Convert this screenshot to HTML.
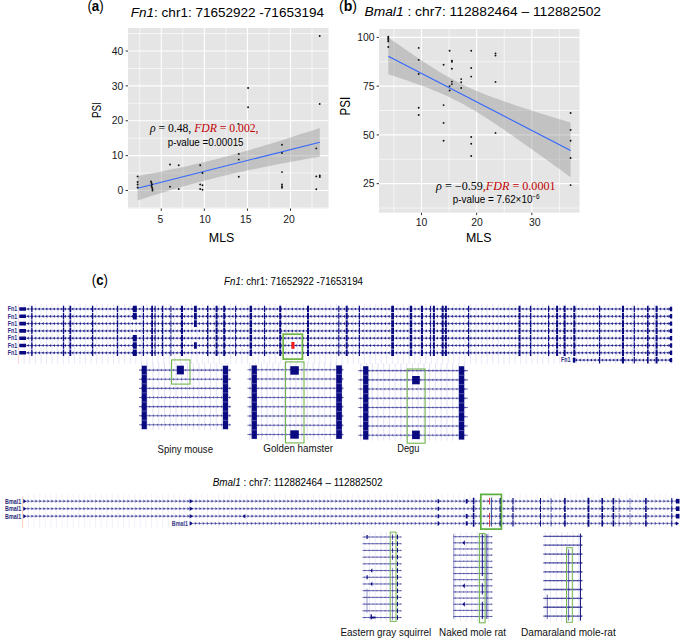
<!DOCTYPE html><html><head><meta charset="utf-8"><style>html,body{margin:0;padding:0;background:#fff;overflow:hidden;}svg{display:block;}</style></head><body><svg width="685" height="639" viewBox="0 0 685 639">
<rect width="685" height="639" fill="#fff"/>
<rect x="128" y="28" width="200.5" height="180.5" fill="#E5E5E5"/>
<line x1="139.73" y1="28" x2="139.73" y2="208.5" stroke="#fff" stroke-width="0.6"/>
<line x1="182.81" y1="28" x2="182.81" y2="208.5" stroke="#fff" stroke-width="0.6"/>
<line x1="225.89" y1="28" x2="225.89" y2="208.5" stroke="#fff" stroke-width="0.6"/>
<line x1="268.97" y1="28" x2="268.97" y2="208.5" stroke="#fff" stroke-width="0.6"/>
<line x1="312.05" y1="28" x2="312.05" y2="208.5" stroke="#fff" stroke-width="0.6"/>
<line x1="128" y1="207.94" x2="328.5" y2="207.94" stroke="#fff" stroke-width="0.6"/>
<line x1="128" y1="173.06" x2="328.5" y2="173.06" stroke="#fff" stroke-width="0.6"/>
<line x1="128" y1="138.19" x2="328.5" y2="138.19" stroke="#fff" stroke-width="0.6"/>
<line x1="128" y1="103.31" x2="328.5" y2="103.31" stroke="#fff" stroke-width="0.6"/>
<line x1="128" y1="68.44" x2="328.5" y2="68.44" stroke="#fff" stroke-width="0.6"/>
<line x1="128" y1="33.56" x2="328.5" y2="33.56" stroke="#fff" stroke-width="0.6"/>
<line x1="161.27" y1="28" x2="161.27" y2="208.5" stroke="#fff" stroke-width="1.1"/>
<line x1="204.35" y1="28" x2="204.35" y2="208.5" stroke="#fff" stroke-width="1.1"/>
<line x1="247.43" y1="28" x2="247.43" y2="208.5" stroke="#fff" stroke-width="1.1"/>
<line x1="290.51" y1="28" x2="290.51" y2="208.5" stroke="#fff" stroke-width="1.1"/>
<line x1="128" y1="190.50" x2="328.5" y2="190.50" stroke="#fff" stroke-width="1.1"/>
<line x1="128" y1="155.62" x2="328.5" y2="155.62" stroke="#fff" stroke-width="1.1"/>
<line x1="128" y1="120.75" x2="328.5" y2="120.75" stroke="#fff" stroke-width="1.1"/>
<line x1="128" y1="85.88" x2="328.5" y2="85.88" stroke="#fff" stroke-width="1.1"/>
<line x1="128" y1="51.00" x2="328.5" y2="51.00" stroke="#fff" stroke-width="1.1"/>
<polygon points="137.60,176.00 142.16,175.15 146.71,174.30 151.26,173.42 155.82,172.54 160.38,171.64 164.93,170.73 169.48,169.80 174.04,168.85 178.59,167.88 183.15,166.90 187.70,165.89 192.26,164.87 196.81,163.82 201.37,162.75 205.93,161.65 210.48,160.53 215.03,159.39 219.59,158.22 224.14,157.03 228.70,155.82 233.25,154.58 237.81,153.32 242.37,152.04 246.92,150.74 251.47,149.42 256.03,148.08 260.59,146.72 265.14,145.35 269.69,143.96 274.25,142.55 278.81,141.13 283.36,139.70 287.91,138.26 292.47,136.81 297.02,135.34 301.58,133.87 306.13,132.38 310.69,130.89 315.25,129.40 319.80,127.89 319.80,156.71 315.25,157.50 310.69,158.30 306.13,159.10 301.58,159.91 297.02,160.73 292.47,161.56 287.91,162.41 283.36,163.26 278.81,164.12 274.25,165.00 269.69,165.89 265.14,166.79 260.59,167.71 256.03,168.65 251.47,169.60 246.92,170.58 242.37,171.57 237.81,172.59 233.25,173.62 228.70,174.68 224.14,175.76 219.59,176.87 215.03,177.99 210.48,179.15 205.93,180.32 201.37,181.52 196.81,182.75 192.26,183.99 187.70,185.26 183.15,186.55 178.59,187.86 174.04,189.19 169.48,190.54 164.93,191.90 160.38,193.28 155.82,194.68 151.26,196.09 146.71,197.51 142.16,198.95 137.60,200.40" fill="#8F8F8F" fill-opacity="0.4"/>
<line x1="137.6" y1="188.2" x2="319.8" y2="142.2" stroke="#3366FF" stroke-width="1.1"/>
<g fill="#111"><circle cx="137.6" cy="176.4" r="0.95"/><circle cx="137.6" cy="182" r="0.95"/><circle cx="137.6" cy="184.5" r="0.95"/><circle cx="137.6" cy="187.5" r="0.95"/><circle cx="151" cy="181.5" r="0.95"/><circle cx="151.5" cy="183" r="0.95"/><circle cx="152" cy="184.5" r="0.95"/><circle cx="151.5" cy="186" r="0.95"/><circle cx="152" cy="187.5" r="0.95"/><circle cx="152.5" cy="189" r="0.95"/><circle cx="152.5" cy="190.5" r="0.95"/><circle cx="170" cy="164.5" r="0.95"/><circle cx="178.7" cy="165.2" r="0.95"/><circle cx="170" cy="186.7" r="0.95"/><circle cx="178.7" cy="189" r="0.95"/><circle cx="200.2" cy="165.2" r="0.95"/><circle cx="202.5" cy="173" r="0.95"/><circle cx="200.2" cy="184.4" r="0.95"/><circle cx="202.5" cy="185.2" r="0.95"/><circle cx="200.2" cy="189" r="0.95"/><circle cx="202.5" cy="189.8" r="0.95"/><circle cx="238.8" cy="154" r="0.95"/><circle cx="238.8" cy="159.6" r="0.95"/><circle cx="238.8" cy="176.7" r="0.95"/><circle cx="238.4" cy="123.9" r="0.95"/><circle cx="248.1" cy="88" r="0.95"/><circle cx="248.1" cy="107.3" r="0.95"/><circle cx="282" cy="144.8" r="0.95"/><circle cx="282" cy="153" r="0.95"/><circle cx="282" cy="172.1" r="0.95"/><circle cx="282" cy="184.4" r="0.95"/><circle cx="282" cy="186.3" r="0.95"/><circle cx="282" cy="187.8" r="0.95"/><circle cx="316.3" cy="148.4" r="0.95"/><circle cx="316.3" cy="176.4" r="0.95"/><circle cx="319.8" cy="175.5" r="0.95"/><circle cx="319.8" cy="177" r="0.95"/><circle cx="316.3" cy="189.3" r="0.95"/><circle cx="319.7" cy="36" r="0.95"/><circle cx="319.7" cy="104" r="0.95"/></g>
<line x1="125.6" y1="190.50" x2="128" y2="190.50" stroke="#333333" stroke-width="1"/>
<text x="123.2" y="194.2" font-family='"Liberation Sans", sans-serif' font-size="10.4" fill="#1a1a1a" text-anchor="end" font-weight="normal" font-style="normal" >0</text>
<line x1="125.6" y1="155.62" x2="128" y2="155.62" stroke="#333333" stroke-width="1"/>
<text x="123.2" y="159.325" font-family='"Liberation Sans", sans-serif' font-size="10.4" fill="#1a1a1a" text-anchor="end" font-weight="normal" font-style="normal" >10</text>
<line x1="125.6" y1="120.75" x2="128" y2="120.75" stroke="#333333" stroke-width="1"/>
<text x="123.2" y="124.45" font-family='"Liberation Sans", sans-serif' font-size="10.4" fill="#1a1a1a" text-anchor="end" font-weight="normal" font-style="normal" >20</text>
<line x1="125.6" y1="85.88" x2="128" y2="85.88" stroke="#333333" stroke-width="1"/>
<text x="123.2" y="89.575" font-family='"Liberation Sans", sans-serif' font-size="10.4" fill="#1a1a1a" text-anchor="end" font-weight="normal" font-style="normal" >30</text>
<line x1="125.6" y1="51.00" x2="128" y2="51.00" stroke="#333333" stroke-width="1"/>
<text x="123.2" y="54.7" font-family='"Liberation Sans", sans-serif' font-size="10.4" fill="#1a1a1a" text-anchor="end" font-weight="normal" font-style="normal" >40</text>
<line x1="161.27" y1="208.5" x2="161.27" y2="210.9" stroke="#333333" stroke-width="1"/>
<text x="160.37" y="222.7" font-family='"Liberation Sans", sans-serif' font-size="10.4" fill="#1a1a1a" text-anchor="middle" font-weight="normal" font-style="normal" >5</text>
<line x1="204.35" y1="208.5" x2="204.35" y2="210.9" stroke="#333333" stroke-width="1"/>
<text x="205.05" y="222.7" font-family='"Liberation Sans", sans-serif' font-size="10.4" fill="#1a1a1a" text-anchor="middle" font-weight="normal" font-style="normal" >10</text>
<line x1="247.43" y1="208.5" x2="247.43" y2="210.9" stroke="#333333" stroke-width="1"/>
<text x="245.83" y="222.7" font-family='"Liberation Sans", sans-serif' font-size="10.4" fill="#1a1a1a" text-anchor="middle" font-weight="normal" font-style="normal" >15</text>
<line x1="290.51" y1="208.5" x2="290.51" y2="210.9" stroke="#333333" stroke-width="1"/>
<text x="288.91" y="222.7" font-family='"Liberation Sans", sans-serif' font-size="10.4" fill="#1a1a1a" text-anchor="middle" font-weight="normal" font-style="normal" >20</text>
<text x="221.6" y="241.8" font-family='"Liberation Sans", sans-serif' font-size="13.5" fill="#000" text-anchor="middle" font-weight="normal" font-style="normal" textLength="25.5" lengthAdjust="spacingAndGlyphs" >MLS</text>
<text transform="translate(101,110) rotate(-90)" font-family='"Liberation Sans", sans-serif' font-size="13.5" fill="#000" text-anchor="middle" textLength="16" lengthAdjust="spacingAndGlyphs">PSI</text>
<text x="149.9" y="132.4" font-family='"Liberation Serif", serif' font-size="11.5" fill="#000" textLength="108.6" lengthAdjust="spacingAndGlyphs"><tspan font-style="italic">ρ</tspan> = 0.48,<tspan fill="#C00000"><tspan font-style="italic"> FDR</tspan> = 0.002,</tspan></text>
<text x="167.8" y="146" font-family='"Liberation Sans", sans-serif' font-size="10" fill="#000" text-anchor="start" font-weight="normal" font-style="normal" textLength="75.7" lengthAdjust="spacingAndGlyphs" >p-value =0.00015</text>
<text x="87.4" y="10.9" font-family='"Liberation Sans", sans-serif' font-size="15" fill="#000" textLength="16.4" lengthAdjust="spacingAndGlyphs">(<tspan font-weight="bold">a</tspan>)</text>
<text x="130.8" y="16.6" font-family='"Liberation Sans", sans-serif' font-size="13.5" fill="#000" textLength="193.2" lengthAdjust="spacingAndGlyphs"><tspan font-style="italic">Fn1</tspan>: chr1: 71652922 -71653194</text>
<rect x="379" y="29" width="200.5" height="183.7" fill="#E5E5E5"/>
<line x1="393.89" y1="29" x2="393.89" y2="212.7" stroke="#fff" stroke-width="0.6"/>
<line x1="449.07" y1="29" x2="449.07" y2="212.7" stroke="#fff" stroke-width="0.6"/>
<line x1="504.25" y1="29" x2="504.25" y2="212.7" stroke="#fff" stroke-width="0.6"/>
<line x1="559.43" y1="29" x2="559.43" y2="212.7" stroke="#fff" stroke-width="0.6"/>
<line x1="379" y1="208.03" x2="579.5" y2="208.03" stroke="#fff" stroke-width="0.6"/>
<line x1="379" y1="159.28" x2="579.5" y2="159.28" stroke="#fff" stroke-width="0.6"/>
<line x1="379" y1="110.53" x2="579.5" y2="110.53" stroke="#fff" stroke-width="0.6"/>
<line x1="379" y1="61.77" x2="579.5" y2="61.77" stroke="#fff" stroke-width="0.6"/>
<line x1="421.48" y1="29" x2="421.48" y2="212.7" stroke="#fff" stroke-width="1.1"/>
<line x1="476.66" y1="29" x2="476.66" y2="212.7" stroke="#fff" stroke-width="1.1"/>
<line x1="531.84" y1="29" x2="531.84" y2="212.7" stroke="#fff" stroke-width="1.1"/>
<line x1="379" y1="183.65" x2="579.5" y2="183.65" stroke="#fff" stroke-width="1.1"/>
<line x1="379" y1="134.90" x2="579.5" y2="134.90" stroke="#fff" stroke-width="1.1"/>
<line x1="379" y1="86.15" x2="579.5" y2="86.15" stroke="#fff" stroke-width="1.1"/>
<line x1="379" y1="37.40" x2="579.5" y2="37.40" stroke="#fff" stroke-width="1.1"/>
<polygon points="388.30,37.40 392.86,40.63 397.42,43.83 401.97,47.02 406.53,50.18 411.09,53.32 415.65,56.42 420.20,59.48 424.76,62.49 429.32,65.45 433.88,68.34 438.43,71.16 442.99,73.90 447.55,76.55 452.11,79.09 456.66,81.52 461.22,83.85 465.78,86.06 470.34,88.17 474.89,90.18 479.45,92.10 484.01,93.94 488.57,95.72 493.12,97.43 497.68,99.10 502.24,100.72 506.80,102.30 511.35,103.86 515.91,105.39 520.47,106.89 525.02,108.38 529.58,109.84 534.14,111.30 538.70,112.74 543.25,114.17 547.81,115.59 552.37,117.00 556.93,118.41 561.49,119.80 566.04,121.19 570.60,122.58 570.60,177.22 566.04,173.90 561.49,170.59 556.93,167.29 552.37,163.99 547.81,160.70 543.25,157.42 538.70,154.14 534.14,150.88 529.58,147.63 525.02,144.40 520.47,141.18 515.91,137.98 511.35,134.81 506.80,131.66 502.24,128.54 497.68,125.46 493.12,122.43 488.57,119.44 484.01,116.51 479.45,113.65 474.89,110.87 470.34,108.18 465.78,105.58 461.22,103.09 456.66,100.71 452.11,98.45 447.55,96.29 442.99,94.23 438.43,92.26 433.88,90.38 429.32,88.58 424.76,86.83 420.20,85.14 415.65,83.50 411.09,81.90 406.53,80.33 401.97,78.79 397.42,77.27 392.86,75.78 388.30,74.30" fill="#8F8F8F" fill-opacity="0.4"/>
<line x1="388.3" y1="56.2" x2="570.6" y2="150.4" stroke="#3366FF" stroke-width="1.1"/>
<g fill="#111"><circle cx="388.3" cy="36.8" r="0.95"/><circle cx="388.3" cy="37.9" r="0.95"/><circle cx="388.3" cy="38.9" r="0.95"/><circle cx="388.3" cy="40.1" r="0.95"/><circle cx="388.3" cy="41.4" r="0.95"/><circle cx="388.3" cy="47" r="0.95"/><circle cx="418.7" cy="47.9" r="0.95"/><circle cx="418.7" cy="59.9" r="0.95"/><circle cx="418.7" cy="74" r="0.95"/><circle cx="418.7" cy="107.7" r="0.95"/><circle cx="418.7" cy="115" r="0.95"/><circle cx="443.6" cy="64.7" r="0.95"/><circle cx="443.6" cy="105.1" r="0.95"/><circle cx="443.6" cy="122.9" r="0.95"/><circle cx="443.6" cy="140.8" r="0.95"/><circle cx="449.6" cy="50.8" r="0.95"/><circle cx="449.6" cy="86.1" r="0.95"/><circle cx="449.6" cy="90.5" r="0.95"/><circle cx="451.9" cy="60.6" r="0.95"/><circle cx="451.9" cy="61.7" r="0.95"/><circle cx="451.9" cy="68.7" r="0.95"/><circle cx="451.9" cy="81.6" r="0.95"/><circle cx="451.9" cy="84.1" r="0.95"/><circle cx="461.2" cy="79.1" r="0.95"/><circle cx="461.2" cy="82.2" r="0.95"/><circle cx="461.2" cy="88" r="0.95"/><circle cx="471.2" cy="50.8" r="0.95"/><circle cx="471.2" cy="68" r="0.95"/><circle cx="471.2" cy="76.6" r="0.95"/><circle cx="471.2" cy="137" r="0.95"/><circle cx="471.2" cy="143.8" r="0.95"/><circle cx="471.2" cy="156" r="0.95"/><circle cx="495.5" cy="53.5" r="0.95"/><circle cx="495.5" cy="55.6" r="0.95"/><circle cx="495.5" cy="81.9" r="0.95"/><circle cx="495.5" cy="132.9" r="0.95"/><circle cx="570.6" cy="113" r="0.95"/><circle cx="570.6" cy="129.9" r="0.95"/><circle cx="570.6" cy="140.8" r="0.95"/><circle cx="570.6" cy="158" r="0.95"/><circle cx="570.6" cy="185.1" r="0.95"/></g>
<line x1="376.6" y1="183.65" x2="379" y2="183.65" stroke="#333333" stroke-width="1"/>
<text x="374.6" y="187.35" font-family='"Liberation Sans", sans-serif' font-size="10.4" fill="#1a1a1a" text-anchor="end" font-weight="normal" font-style="normal" >25</text>
<line x1="376.6" y1="134.90" x2="379" y2="134.90" stroke="#333333" stroke-width="1"/>
<text x="374.6" y="138.6" font-family='"Liberation Sans", sans-serif' font-size="10.4" fill="#1a1a1a" text-anchor="end" font-weight="normal" font-style="normal" >50</text>
<line x1="376.6" y1="86.15" x2="379" y2="86.15" stroke="#333333" stroke-width="1"/>
<text x="374.6" y="89.85000000000001" font-family='"Liberation Sans", sans-serif' font-size="10.4" fill="#1a1a1a" text-anchor="end" font-weight="normal" font-style="normal" >75</text>
<line x1="376.6" y1="37.40" x2="379" y2="37.40" stroke="#333333" stroke-width="1"/>
<text x="374.6" y="41.1" font-family='"Liberation Sans", sans-serif' font-size="10.4" fill="#1a1a1a" text-anchor="end" font-weight="normal" font-style="normal" >100</text>
<line x1="421.48" y1="212.7" x2="421.48" y2="215.1" stroke="#333333" stroke-width="1"/>
<text x="421.48" y="226.3" font-family='"Liberation Sans", sans-serif' font-size="10.4" fill="#1a1a1a" text-anchor="middle" font-weight="normal" font-style="normal" >10</text>
<line x1="476.66" y1="212.7" x2="476.66" y2="215.1" stroke="#333333" stroke-width="1"/>
<text x="477.06" y="226.3" font-family='"Liberation Sans", sans-serif' font-size="10.4" fill="#1a1a1a" text-anchor="middle" font-weight="normal" font-style="normal" >20</text>
<line x1="531.84" y1="212.7" x2="531.84" y2="215.1" stroke="#333333" stroke-width="1"/>
<text x="534.84" y="226.3" font-family='"Liberation Sans", sans-serif' font-size="10.4" fill="#1a1a1a" text-anchor="middle" font-weight="normal" font-style="normal" >30</text>
<text x="478.7" y="241.9" font-family='"Liberation Sans", sans-serif' font-size="13.5" fill="#000" text-anchor="middle" font-weight="normal" font-style="normal" textLength="25.4" lengthAdjust="spacingAndGlyphs" >MLS</text>
<text transform="translate(350,106.2) rotate(-90)" font-family='"Liberation Sans", sans-serif' font-size="15" fill="#000" text-anchor="middle" textLength="18.6" lengthAdjust="spacingAndGlyphs">PSI</text>
<text x="436.1" y="189.8" font-family='"Liberation Serif", serif' font-size="11.5" fill="#000" textLength="119.5" lengthAdjust="spacingAndGlyphs"><tspan font-style="italic">ρ</tspan> = −0.59<tspan fill="#C00000">,<tspan font-style="italic">FDR</tspan> = 0.0001</tspan></text>
<text x="452.8" y="202.5" font-family='"Liberation Sans", sans-serif' font-size="10" fill="#000" textLength="86.9" lengthAdjust="spacingAndGlyphs">p-value = 7.62×10<tspan font-size="6.5" dy="-4">−6</tspan></text>
<text x="339" y="11.3" font-family='"Liberation Sans", sans-serif' font-size="15" fill="#000" textLength="18" lengthAdjust="spacingAndGlyphs">(<tspan font-weight="bold">b</tspan>)</text>
<text x="364.5" y="16.4" font-family='"Liberation Sans", sans-serif' font-size="13.5" fill="#000" textLength="236.5" lengthAdjust="spacingAndGlyphs"><tspan font-style="italic">Bmal1</tspan> : chr7: 112882464 – 112882502</text>
<text x="91.8" y="285.2" font-family='"Liberation Sans", sans-serif' font-size="15.5" fill="#000" textLength="16.2" lengthAdjust="spacingAndGlyphs">(<tspan font-weight="bold">c</tspan>)</text>
<text x="224.1" y="284.6" font-family='"Liberation Sans", sans-serif' font-size="10.5" fill="#000" textLength="138.9" lengthAdjust="spacingAndGlyphs"><tspan font-style="italic">Fn1</tspan>: chr1: 71652922 -71653194</text>
<path d="M24.20 304V364M29.78 304V364M35.36 304V364M40.93 304V364M46.51 304V364M52.09 304V364M57.67 304V364M63.25 304V364M68.82 304V364M74.40 304V364M79.98 304V364M85.56 304V364M91.14 304V364M96.71 304V364M102.29 304V364M107.87 304V364M113.45 304V364M119.03 304V364M124.60 304V364M130.18 304V364M135.76 304V364M141.34 304V364M146.92 304V364M152.49 304V364M158.07 304V364M163.65 304V364M169.23 304V364M174.81 304V364M180.38 304V364M185.96 304V364M191.54 304V364M197.12 304V364M202.70 304V364M208.27 304V364M213.85 304V364M219.43 304V364M225.01 304V364M230.59 304V364M236.16 304V364M241.74 304V364M247.32 304V364M252.90 304V364M258.48 304V364M264.05 304V364M269.63 304V364M275.21 304V364M280.79 304V364M286.37 304V364M291.94 304V364M297.52 304V364M303.10 304V364M308.68 304V364M314.26 304V364M319.83 304V364M325.41 304V364M330.99 304V364M336.57 304V364M342.15 304V364M347.72 304V364M353.30 304V364M358.88 304V364M364.46 304V364M370.04 304V364M375.61 304V364M381.19 304V364M386.77 304V364M392.35 304V364M397.93 304V364M403.50 304V364M409.08 304V364M414.66 304V364M420.24 304V364M425.82 304V364M431.39 304V364M436.97 304V364M442.55 304V364M448.13 304V364M453.71 304V364M459.28 304V364M464.86 304V364M470.44 304V364M476.02 304V364M481.60 304V364M487.17 304V364M492.75 304V364M498.33 304V364M503.91 304V364M509.49 304V364M515.06 304V364M520.64 304V364M526.22 304V364M531.80 304V364M537.38 304V364M542.95 304V364M548.53 304V364M554.11 304V364M559.69 304V364M565.27 304V364M570.84 304V364M576.42 304V364M582.00 304V364M587.58 304V364M593.16 304V364M598.73 304V364M604.31 304V364M609.89 304V364M615.47 304V364M621.05 304V364M626.62 304V364M632.20 304V364M637.78 304V364M643.36 304V364M648.94 304V364M654.51 304V364M660.09 304V364M665.67 304V364M671.25 304V364" stroke="#E2E2F8" stroke-width="0.8" fill="none"/>
<line x1="18.4" y1="304.6" x2="18.4" y2="364" stroke="#FFD0D0" stroke-width="0.9"/>
<line x1="19.4" y1="309.00" x2="672" y2="309.00" stroke="#0A0A80" stroke-width="1" stroke-opacity="0.55"/>
<path d="M26.80 309.00l2.0-1.6v3.2zm3.72 0l2.0-1.6v3.2zm3.72 0l2.0-1.6v3.2zm3.72 0l2.0-1.6v3.2zm3.72 0l2.0-1.6v3.2zm3.72 0l2.0-1.6v3.2zm3.72 0l2.0-1.6v3.2zm3.72 0l2.0-1.6v3.2zm3.72 0l2.0-1.6v3.2zm3.72 0l2.0-1.6v3.2zm3.72 0l2.0-1.6v3.2zm3.72 0l2.0-1.6v3.2zm3.72 0l2.0-1.6v3.2zm3.72 0l2.0-1.6v3.2zm3.72 0l2.0-1.6v3.2zm3.72 0l2.0-1.6v3.2zm3.72 0l2.0-1.6v3.2zm3.72 0l2.0-1.6v3.2zm3.72 0l2.0-1.6v3.2zm3.72 0l2.0-1.6v3.2zm3.72 0l2.0-1.6v3.2zm3.72 0l2.0-1.6v3.2zm3.72 0l2.0-1.6v3.2zm3.72 0l2.0-1.6v3.2zm3.72 0l2.0-1.6v3.2zm3.72 0l2.0-1.6v3.2zm3.72 0l2.0-1.6v3.2zm3.72 0l2.0-1.6v3.2zm3.72 0l2.0-1.6v3.2zm3.72 0l2.0-1.6v3.2zm3.72 0l2.0-1.6v3.2zm3.72 0l2.0-1.6v3.2zm3.72 0l2.0-1.6v3.2zm3.72 0l2.0-1.6v3.2zm3.72 0l2.0-1.6v3.2zm3.72 0l2.0-1.6v3.2zm3.72 0l2.0-1.6v3.2zm3.72 0l2.0-1.6v3.2zm3.72 0l2.0-1.6v3.2zm3.72 0l2.0-1.6v3.2zm3.72 0l2.0-1.6v3.2zm3.72 0l2.0-1.6v3.2zm3.72 0l2.0-1.6v3.2zm3.72 0l2.0-1.6v3.2zm3.72 0l2.0-1.6v3.2zm3.72 0l2.0-1.6v3.2zm3.72 0l2.0-1.6v3.2zm3.72 0l2.0-1.6v3.2zm3.72 0l2.0-1.6v3.2zm3.72 0l2.0-1.6v3.2zm3.72 0l2.0-1.6v3.2zm3.72 0l2.0-1.6v3.2zm3.72 0l2.0-1.6v3.2zm3.72 0l2.0-1.6v3.2zm3.72 0l2.0-1.6v3.2zm3.72 0l2.0-1.6v3.2zm3.72 0l2.0-1.6v3.2zm3.72 0l2.0-1.6v3.2zm3.72 0l2.0-1.6v3.2zm3.72 0l2.0-1.6v3.2zm3.72 0l2.0-1.6v3.2zm3.72 0l2.0-1.6v3.2zm3.72 0l2.0-1.6v3.2zm3.72 0l2.0-1.6v3.2zm3.72 0l2.0-1.6v3.2zm3.72 0l2.0-1.6v3.2zm3.72 0l2.0-1.6v3.2zm3.72 0l2.0-1.6v3.2zm3.72 0l2.0-1.6v3.2zm3.72 0l2.0-1.6v3.2zm3.72 0l2.0-1.6v3.2zm3.72 0l2.0-1.6v3.2zm3.72 0l2.0-1.6v3.2zm3.72 0l2.0-1.6v3.2zm3.72 0l2.0-1.6v3.2zm3.72 0l2.0-1.6v3.2zm3.72 0l2.0-1.6v3.2zm3.72 0l2.0-1.6v3.2zm3.72 0l2.0-1.6v3.2zm3.72 0l2.0-1.6v3.2zm3.72 0l2.0-1.6v3.2zm3.72 0l2.0-1.6v3.2zm3.72 0l2.0-1.6v3.2zm3.72 0l2.0-1.6v3.2zm3.72 0l2.0-1.6v3.2zm3.72 0l2.0-1.6v3.2zm3.72 0l2.0-1.6v3.2zm3.72 0l2.0-1.6v3.2zm3.72 0l2.0-1.6v3.2zm3.72 0l2.0-1.6v3.2zm3.72 0l2.0-1.6v3.2zm3.72 0l2.0-1.6v3.2zm3.72 0l2.0-1.6v3.2zm3.72 0l2.0-1.6v3.2zm3.72 0l2.0-1.6v3.2zm3.72 0l2.0-1.6v3.2zm3.72 0l2.0-1.6v3.2zm3.72 0l2.0-1.6v3.2zm3.72 0l2.0-1.6v3.2zm3.72 0l2.0-1.6v3.2zm3.72 0l2.0-1.6v3.2zm3.72 0l2.0-1.6v3.2zm3.72 0l2.0-1.6v3.2zm3.72 0l2.0-1.6v3.2zm3.72 0l2.0-1.6v3.2zm3.72 0l2.0-1.6v3.2zm3.72 0l2.0-1.6v3.2zm3.72 0l2.0-1.6v3.2zm3.72 0l2.0-1.6v3.2zm3.72 0l2.0-1.6v3.2zm3.72 0l2.0-1.6v3.2zm3.72 0l2.0-1.6v3.2zm3.72 0l2.0-1.6v3.2zm3.72 0l2.0-1.6v3.2zm3.72 0l2.0-1.6v3.2zm3.72 0l2.0-1.6v3.2zm3.72 0l2.0-1.6v3.2zm3.72 0l2.0-1.6v3.2zm3.72 0l2.0-1.6v3.2zm3.72 0l2.0-1.6v3.2zm3.72 0l2.0-1.6v3.2zm3.72 0l2.0-1.6v3.2zm3.72 0l2.0-1.6v3.2zm3.72 0l2.0-1.6v3.2zm3.72 0l2.0-1.6v3.2zm3.72 0l2.0-1.6v3.2zm3.72 0l2.0-1.6v3.2zm3.72 0l2.0-1.6v3.2zm3.72 0l2.0-1.6v3.2zm3.72 0l2.0-1.6v3.2zm3.72 0l2.0-1.6v3.2zm3.72 0l2.0-1.6v3.2zm3.72 0l2.0-1.6v3.2zm3.72 0l2.0-1.6v3.2zm3.72 0l2.0-1.6v3.2zm3.72 0l2.0-1.6v3.2zm3.72 0l2.0-1.6v3.2zm3.72 0l2.0-1.6v3.2zm3.72 0l2.0-1.6v3.2zm3.72 0l2.0-1.6v3.2zm3.72 0l2.0-1.6v3.2zm3.72 0l2.0-1.6v3.2zm3.72 0l2.0-1.6v3.2zm3.72 0l2.0-1.6v3.2zm3.72 0l2.0-1.6v3.2zm3.72 0l2.0-1.6v3.2zm3.72 0l2.0-1.6v3.2zm3.72 0l2.0-1.6v3.2zm3.72 0l2.0-1.6v3.2zm3.72 0l2.0-1.6v3.2zm3.72 0l2.0-1.6v3.2zm3.72 0l2.0-1.6v3.2zm3.72 0l2.0-1.6v3.2zm3.72 0l2.0-1.6v3.2zm3.72 0l2.0-1.6v3.2zm3.72 0l2.0-1.6v3.2zm3.72 0l2.0-1.6v3.2zm3.72 0l2.0-1.6v3.2zm3.72 0l2.0-1.6v3.2zm3.72 0l2.0-1.6v3.2zm3.72 0l2.0-1.6v3.2zm3.72 0l2.0-1.6v3.2zm3.72 0l2.0-1.6v3.2zm3.72 0l2.0-1.6v3.2zm3.72 0l2.0-1.6v3.2zm3.72 0l2.0-1.6v3.2zm3.72 0l2.0-1.6v3.2zm3.72 0l2.0-1.6v3.2zm3.72 0l2.0-1.6v3.2zm3.72 0l2.0-1.6v3.2zm3.72 0l2.0-1.6v3.2zm3.72 0l2.0-1.6v3.2zm3.72 0l2.0-1.6v3.2z" fill="#0A0A80" fill-opacity="0.85"/>
<text x="7.7" y="311.2" font-family='"Liberation Sans", sans-serif' font-size="6.4" fill="#2A2A82" text-anchor="start" font-weight="bold" font-style="normal" textLength="9.5" lengthAdjust="spacingAndGlyphs" >Fn1</text>
<line x1="19.4" y1="316.30" x2="672" y2="316.30" stroke="#0A0A80" stroke-width="1" stroke-opacity="0.55"/>
<path d="M26.80 316.30l2.0-1.6v3.2zm3.72 0l2.0-1.6v3.2zm3.72 0l2.0-1.6v3.2zm3.72 0l2.0-1.6v3.2zm3.72 0l2.0-1.6v3.2zm3.72 0l2.0-1.6v3.2zm3.72 0l2.0-1.6v3.2zm3.72 0l2.0-1.6v3.2zm3.72 0l2.0-1.6v3.2zm3.72 0l2.0-1.6v3.2zm3.72 0l2.0-1.6v3.2zm3.72 0l2.0-1.6v3.2zm3.72 0l2.0-1.6v3.2zm3.72 0l2.0-1.6v3.2zm3.72 0l2.0-1.6v3.2zm3.72 0l2.0-1.6v3.2zm3.72 0l2.0-1.6v3.2zm3.72 0l2.0-1.6v3.2zm3.72 0l2.0-1.6v3.2zm3.72 0l2.0-1.6v3.2zm3.72 0l2.0-1.6v3.2zm3.72 0l2.0-1.6v3.2zm3.72 0l2.0-1.6v3.2zm3.72 0l2.0-1.6v3.2zm3.72 0l2.0-1.6v3.2zm3.72 0l2.0-1.6v3.2zm3.72 0l2.0-1.6v3.2zm3.72 0l2.0-1.6v3.2zm3.72 0l2.0-1.6v3.2zm3.72 0l2.0-1.6v3.2zm3.72 0l2.0-1.6v3.2zm3.72 0l2.0-1.6v3.2zm3.72 0l2.0-1.6v3.2zm3.72 0l2.0-1.6v3.2zm3.72 0l2.0-1.6v3.2zm3.72 0l2.0-1.6v3.2zm3.72 0l2.0-1.6v3.2zm3.72 0l2.0-1.6v3.2zm3.72 0l2.0-1.6v3.2zm3.72 0l2.0-1.6v3.2zm3.72 0l2.0-1.6v3.2zm3.72 0l2.0-1.6v3.2zm3.72 0l2.0-1.6v3.2zm3.72 0l2.0-1.6v3.2zm3.72 0l2.0-1.6v3.2zm3.72 0l2.0-1.6v3.2zm3.72 0l2.0-1.6v3.2zm3.72 0l2.0-1.6v3.2zm3.72 0l2.0-1.6v3.2zm3.72 0l2.0-1.6v3.2zm3.72 0l2.0-1.6v3.2zm3.72 0l2.0-1.6v3.2zm3.72 0l2.0-1.6v3.2zm3.72 0l2.0-1.6v3.2zm3.72 0l2.0-1.6v3.2zm3.72 0l2.0-1.6v3.2zm3.72 0l2.0-1.6v3.2zm3.72 0l2.0-1.6v3.2zm3.72 0l2.0-1.6v3.2zm3.72 0l2.0-1.6v3.2zm3.72 0l2.0-1.6v3.2zm3.72 0l2.0-1.6v3.2zm3.72 0l2.0-1.6v3.2zm3.72 0l2.0-1.6v3.2zm3.72 0l2.0-1.6v3.2zm3.72 0l2.0-1.6v3.2zm3.72 0l2.0-1.6v3.2zm3.72 0l2.0-1.6v3.2zm3.72 0l2.0-1.6v3.2zm3.72 0l2.0-1.6v3.2zm3.72 0l2.0-1.6v3.2zm3.72 0l2.0-1.6v3.2zm3.72 0l2.0-1.6v3.2zm3.72 0l2.0-1.6v3.2zm3.72 0l2.0-1.6v3.2zm3.72 0l2.0-1.6v3.2zm3.72 0l2.0-1.6v3.2zm3.72 0l2.0-1.6v3.2zm3.72 0l2.0-1.6v3.2zm3.72 0l2.0-1.6v3.2zm3.72 0l2.0-1.6v3.2zm3.72 0l2.0-1.6v3.2zm3.72 0l2.0-1.6v3.2zm3.72 0l2.0-1.6v3.2zm3.72 0l2.0-1.6v3.2zm3.72 0l2.0-1.6v3.2zm3.72 0l2.0-1.6v3.2zm3.72 0l2.0-1.6v3.2zm3.72 0l2.0-1.6v3.2zm3.72 0l2.0-1.6v3.2zm3.72 0l2.0-1.6v3.2zm3.72 0l2.0-1.6v3.2zm3.72 0l2.0-1.6v3.2zm3.72 0l2.0-1.6v3.2zm3.72 0l2.0-1.6v3.2zm3.72 0l2.0-1.6v3.2zm3.72 0l2.0-1.6v3.2zm3.72 0l2.0-1.6v3.2zm3.72 0l2.0-1.6v3.2zm3.72 0l2.0-1.6v3.2zm3.72 0l2.0-1.6v3.2zm3.72 0l2.0-1.6v3.2zm3.72 0l2.0-1.6v3.2zm3.72 0l2.0-1.6v3.2zm3.72 0l2.0-1.6v3.2zm3.72 0l2.0-1.6v3.2zm3.72 0l2.0-1.6v3.2zm3.72 0l2.0-1.6v3.2zm3.72 0l2.0-1.6v3.2zm3.72 0l2.0-1.6v3.2zm3.72 0l2.0-1.6v3.2zm3.72 0l2.0-1.6v3.2zm3.72 0l2.0-1.6v3.2zm3.72 0l2.0-1.6v3.2zm3.72 0l2.0-1.6v3.2zm3.72 0l2.0-1.6v3.2zm3.72 0l2.0-1.6v3.2zm3.72 0l2.0-1.6v3.2zm3.72 0l2.0-1.6v3.2zm3.72 0l2.0-1.6v3.2zm3.72 0l2.0-1.6v3.2zm3.72 0l2.0-1.6v3.2zm3.72 0l2.0-1.6v3.2zm3.72 0l2.0-1.6v3.2zm3.72 0l2.0-1.6v3.2zm3.72 0l2.0-1.6v3.2zm3.72 0l2.0-1.6v3.2zm3.72 0l2.0-1.6v3.2zm3.72 0l2.0-1.6v3.2zm3.72 0l2.0-1.6v3.2zm3.72 0l2.0-1.6v3.2zm3.72 0l2.0-1.6v3.2zm3.72 0l2.0-1.6v3.2zm3.72 0l2.0-1.6v3.2zm3.72 0l2.0-1.6v3.2zm3.72 0l2.0-1.6v3.2zm3.72 0l2.0-1.6v3.2zm3.72 0l2.0-1.6v3.2zm3.72 0l2.0-1.6v3.2zm3.72 0l2.0-1.6v3.2zm3.72 0l2.0-1.6v3.2zm3.72 0l2.0-1.6v3.2zm3.72 0l2.0-1.6v3.2zm3.72 0l2.0-1.6v3.2zm3.72 0l2.0-1.6v3.2zm3.72 0l2.0-1.6v3.2zm3.72 0l2.0-1.6v3.2zm3.72 0l2.0-1.6v3.2zm3.72 0l2.0-1.6v3.2zm3.72 0l2.0-1.6v3.2zm3.72 0l2.0-1.6v3.2zm3.72 0l2.0-1.6v3.2zm3.72 0l2.0-1.6v3.2zm3.72 0l2.0-1.6v3.2zm3.72 0l2.0-1.6v3.2zm3.72 0l2.0-1.6v3.2zm3.72 0l2.0-1.6v3.2zm3.72 0l2.0-1.6v3.2zm3.72 0l2.0-1.6v3.2zm3.72 0l2.0-1.6v3.2zm3.72 0l2.0-1.6v3.2zm3.72 0l2.0-1.6v3.2zm3.72 0l2.0-1.6v3.2zm3.72 0l2.0-1.6v3.2zm3.72 0l2.0-1.6v3.2zm3.72 0l2.0-1.6v3.2zm3.72 0l2.0-1.6v3.2zm3.72 0l2.0-1.6v3.2zm3.72 0l2.0-1.6v3.2zm3.72 0l2.0-1.6v3.2zm3.72 0l2.0-1.6v3.2zm3.72 0l2.0-1.6v3.2zm3.72 0l2.0-1.6v3.2z" fill="#0A0A80" fill-opacity="0.85"/>
<text x="7.7" y="318.5" font-family='"Liberation Sans", sans-serif' font-size="6.4" fill="#2A2A82" text-anchor="start" font-weight="bold" font-style="normal" textLength="9.5" lengthAdjust="spacingAndGlyphs" >Fn1</text>
<line x1="19.4" y1="323.60" x2="672" y2="323.60" stroke="#0A0A80" stroke-width="1" stroke-opacity="0.55"/>
<path d="M26.80 323.60l2.0-1.6v3.2zm3.72 0l2.0-1.6v3.2zm3.72 0l2.0-1.6v3.2zm3.72 0l2.0-1.6v3.2zm3.72 0l2.0-1.6v3.2zm3.72 0l2.0-1.6v3.2zm3.72 0l2.0-1.6v3.2zm3.72 0l2.0-1.6v3.2zm3.72 0l2.0-1.6v3.2zm3.72 0l2.0-1.6v3.2zm3.72 0l2.0-1.6v3.2zm3.72 0l2.0-1.6v3.2zm3.72 0l2.0-1.6v3.2zm3.72 0l2.0-1.6v3.2zm3.72 0l2.0-1.6v3.2zm3.72 0l2.0-1.6v3.2zm3.72 0l2.0-1.6v3.2zm3.72 0l2.0-1.6v3.2zm3.72 0l2.0-1.6v3.2zm3.72 0l2.0-1.6v3.2zm3.72 0l2.0-1.6v3.2zm3.72 0l2.0-1.6v3.2zm3.72 0l2.0-1.6v3.2zm3.72 0l2.0-1.6v3.2zm3.72 0l2.0-1.6v3.2zm3.72 0l2.0-1.6v3.2zm3.72 0l2.0-1.6v3.2zm3.72 0l2.0-1.6v3.2zm3.72 0l2.0-1.6v3.2zm3.72 0l2.0-1.6v3.2zm3.72 0l2.0-1.6v3.2zm3.72 0l2.0-1.6v3.2zm3.72 0l2.0-1.6v3.2zm3.72 0l2.0-1.6v3.2zm3.72 0l2.0-1.6v3.2zm3.72 0l2.0-1.6v3.2zm3.72 0l2.0-1.6v3.2zm3.72 0l2.0-1.6v3.2zm3.72 0l2.0-1.6v3.2zm3.72 0l2.0-1.6v3.2zm3.72 0l2.0-1.6v3.2zm3.72 0l2.0-1.6v3.2zm3.72 0l2.0-1.6v3.2zm3.72 0l2.0-1.6v3.2zm3.72 0l2.0-1.6v3.2zm3.72 0l2.0-1.6v3.2zm3.72 0l2.0-1.6v3.2zm3.72 0l2.0-1.6v3.2zm3.72 0l2.0-1.6v3.2zm3.72 0l2.0-1.6v3.2zm3.72 0l2.0-1.6v3.2zm3.72 0l2.0-1.6v3.2zm3.72 0l2.0-1.6v3.2zm3.72 0l2.0-1.6v3.2zm3.72 0l2.0-1.6v3.2zm3.72 0l2.0-1.6v3.2zm3.72 0l2.0-1.6v3.2zm3.72 0l2.0-1.6v3.2zm3.72 0l2.0-1.6v3.2zm3.72 0l2.0-1.6v3.2zm3.72 0l2.0-1.6v3.2zm3.72 0l2.0-1.6v3.2zm3.72 0l2.0-1.6v3.2zm3.72 0l2.0-1.6v3.2zm3.72 0l2.0-1.6v3.2zm3.72 0l2.0-1.6v3.2zm3.72 0l2.0-1.6v3.2zm3.72 0l2.0-1.6v3.2zm3.72 0l2.0-1.6v3.2zm3.72 0l2.0-1.6v3.2zm3.72 0l2.0-1.6v3.2zm3.72 0l2.0-1.6v3.2zm3.72 0l2.0-1.6v3.2zm3.72 0l2.0-1.6v3.2zm3.72 0l2.0-1.6v3.2zm3.72 0l2.0-1.6v3.2zm3.72 0l2.0-1.6v3.2zm3.72 0l2.0-1.6v3.2zm3.72 0l2.0-1.6v3.2zm3.72 0l2.0-1.6v3.2zm3.72 0l2.0-1.6v3.2zm3.72 0l2.0-1.6v3.2zm3.72 0l2.0-1.6v3.2zm3.72 0l2.0-1.6v3.2zm3.72 0l2.0-1.6v3.2zm3.72 0l2.0-1.6v3.2zm3.72 0l2.0-1.6v3.2zm3.72 0l2.0-1.6v3.2zm3.72 0l2.0-1.6v3.2zm3.72 0l2.0-1.6v3.2zm3.72 0l2.0-1.6v3.2zm3.72 0l2.0-1.6v3.2zm3.72 0l2.0-1.6v3.2zm3.72 0l2.0-1.6v3.2zm3.72 0l2.0-1.6v3.2zm3.72 0l2.0-1.6v3.2zm3.72 0l2.0-1.6v3.2zm3.72 0l2.0-1.6v3.2zm3.72 0l2.0-1.6v3.2zm3.72 0l2.0-1.6v3.2zm3.72 0l2.0-1.6v3.2zm3.72 0l2.0-1.6v3.2zm3.72 0l2.0-1.6v3.2zm3.72 0l2.0-1.6v3.2zm3.72 0l2.0-1.6v3.2zm3.72 0l2.0-1.6v3.2zm3.72 0l2.0-1.6v3.2zm3.72 0l2.0-1.6v3.2zm3.72 0l2.0-1.6v3.2zm3.72 0l2.0-1.6v3.2zm3.72 0l2.0-1.6v3.2zm3.72 0l2.0-1.6v3.2zm3.72 0l2.0-1.6v3.2zm3.72 0l2.0-1.6v3.2zm3.72 0l2.0-1.6v3.2zm3.72 0l2.0-1.6v3.2zm3.72 0l2.0-1.6v3.2zm3.72 0l2.0-1.6v3.2zm3.72 0l2.0-1.6v3.2zm3.72 0l2.0-1.6v3.2zm3.72 0l2.0-1.6v3.2zm3.72 0l2.0-1.6v3.2zm3.72 0l2.0-1.6v3.2zm3.72 0l2.0-1.6v3.2zm3.72 0l2.0-1.6v3.2zm3.72 0l2.0-1.6v3.2zm3.72 0l2.0-1.6v3.2zm3.72 0l2.0-1.6v3.2zm3.72 0l2.0-1.6v3.2zm3.72 0l2.0-1.6v3.2zm3.72 0l2.0-1.6v3.2zm3.72 0l2.0-1.6v3.2zm3.72 0l2.0-1.6v3.2zm3.72 0l2.0-1.6v3.2zm3.72 0l2.0-1.6v3.2zm3.72 0l2.0-1.6v3.2zm3.72 0l2.0-1.6v3.2zm3.72 0l2.0-1.6v3.2zm3.72 0l2.0-1.6v3.2zm3.72 0l2.0-1.6v3.2zm3.72 0l2.0-1.6v3.2zm3.72 0l2.0-1.6v3.2zm3.72 0l2.0-1.6v3.2zm3.72 0l2.0-1.6v3.2zm3.72 0l2.0-1.6v3.2zm3.72 0l2.0-1.6v3.2zm3.72 0l2.0-1.6v3.2zm3.72 0l2.0-1.6v3.2zm3.72 0l2.0-1.6v3.2zm3.72 0l2.0-1.6v3.2zm3.72 0l2.0-1.6v3.2zm3.72 0l2.0-1.6v3.2zm3.72 0l2.0-1.6v3.2zm3.72 0l2.0-1.6v3.2zm3.72 0l2.0-1.6v3.2zm3.72 0l2.0-1.6v3.2zm3.72 0l2.0-1.6v3.2zm3.72 0l2.0-1.6v3.2zm3.72 0l2.0-1.6v3.2zm3.72 0l2.0-1.6v3.2zm3.72 0l2.0-1.6v3.2zm3.72 0l2.0-1.6v3.2zm3.72 0l2.0-1.6v3.2zm3.72 0l2.0-1.6v3.2zm3.72 0l2.0-1.6v3.2zm3.72 0l2.0-1.6v3.2zm3.72 0l2.0-1.6v3.2zm3.72 0l2.0-1.6v3.2zm3.72 0l2.0-1.6v3.2zm3.72 0l2.0-1.6v3.2zm3.72 0l2.0-1.6v3.2zm3.72 0l2.0-1.6v3.2zm3.72 0l2.0-1.6v3.2z" fill="#0A0A80" fill-opacity="0.85"/>
<text x="7.7" y="325.8" font-family='"Liberation Sans", sans-serif' font-size="6.4" fill="#2A2A82" text-anchor="start" font-weight="bold" font-style="normal" textLength="9.5" lengthAdjust="spacingAndGlyphs" >Fn1</text>
<line x1="19.4" y1="330.90" x2="672" y2="330.90" stroke="#0A0A80" stroke-width="1" stroke-opacity="0.55"/>
<path d="M26.80 330.90l2.0-1.6v3.2zm3.72 0l2.0-1.6v3.2zm3.72 0l2.0-1.6v3.2zm3.72 0l2.0-1.6v3.2zm3.72 0l2.0-1.6v3.2zm3.72 0l2.0-1.6v3.2zm3.72 0l2.0-1.6v3.2zm3.72 0l2.0-1.6v3.2zm3.72 0l2.0-1.6v3.2zm3.72 0l2.0-1.6v3.2zm3.72 0l2.0-1.6v3.2zm3.72 0l2.0-1.6v3.2zm3.72 0l2.0-1.6v3.2zm3.72 0l2.0-1.6v3.2zm3.72 0l2.0-1.6v3.2zm3.72 0l2.0-1.6v3.2zm3.72 0l2.0-1.6v3.2zm3.72 0l2.0-1.6v3.2zm3.72 0l2.0-1.6v3.2zm3.72 0l2.0-1.6v3.2zm3.72 0l2.0-1.6v3.2zm3.72 0l2.0-1.6v3.2zm3.72 0l2.0-1.6v3.2zm3.72 0l2.0-1.6v3.2zm3.72 0l2.0-1.6v3.2zm3.72 0l2.0-1.6v3.2zm3.72 0l2.0-1.6v3.2zm3.72 0l2.0-1.6v3.2zm3.72 0l2.0-1.6v3.2zm3.72 0l2.0-1.6v3.2zm3.72 0l2.0-1.6v3.2zm3.72 0l2.0-1.6v3.2zm3.72 0l2.0-1.6v3.2zm3.72 0l2.0-1.6v3.2zm3.72 0l2.0-1.6v3.2zm3.72 0l2.0-1.6v3.2zm3.72 0l2.0-1.6v3.2zm3.72 0l2.0-1.6v3.2zm3.72 0l2.0-1.6v3.2zm3.72 0l2.0-1.6v3.2zm3.72 0l2.0-1.6v3.2zm3.72 0l2.0-1.6v3.2zm3.72 0l2.0-1.6v3.2zm3.72 0l2.0-1.6v3.2zm3.72 0l2.0-1.6v3.2zm3.72 0l2.0-1.6v3.2zm3.72 0l2.0-1.6v3.2zm3.72 0l2.0-1.6v3.2zm3.72 0l2.0-1.6v3.2zm3.72 0l2.0-1.6v3.2zm3.72 0l2.0-1.6v3.2zm3.72 0l2.0-1.6v3.2zm3.72 0l2.0-1.6v3.2zm3.72 0l2.0-1.6v3.2zm3.72 0l2.0-1.6v3.2zm3.72 0l2.0-1.6v3.2zm3.72 0l2.0-1.6v3.2zm3.72 0l2.0-1.6v3.2zm3.72 0l2.0-1.6v3.2zm3.72 0l2.0-1.6v3.2zm3.72 0l2.0-1.6v3.2zm3.72 0l2.0-1.6v3.2zm3.72 0l2.0-1.6v3.2zm3.72 0l2.0-1.6v3.2zm3.72 0l2.0-1.6v3.2zm3.72 0l2.0-1.6v3.2zm3.72 0l2.0-1.6v3.2zm3.72 0l2.0-1.6v3.2zm3.72 0l2.0-1.6v3.2zm3.72 0l2.0-1.6v3.2zm3.72 0l2.0-1.6v3.2zm3.72 0l2.0-1.6v3.2zm3.72 0l2.0-1.6v3.2zm3.72 0l2.0-1.6v3.2zm3.72 0l2.0-1.6v3.2zm3.72 0l2.0-1.6v3.2zm3.72 0l2.0-1.6v3.2zm3.72 0l2.0-1.6v3.2zm3.72 0l2.0-1.6v3.2zm3.72 0l2.0-1.6v3.2zm3.72 0l2.0-1.6v3.2zm3.72 0l2.0-1.6v3.2zm3.72 0l2.0-1.6v3.2zm3.72 0l2.0-1.6v3.2zm3.72 0l2.0-1.6v3.2zm3.72 0l2.0-1.6v3.2zm3.72 0l2.0-1.6v3.2zm3.72 0l2.0-1.6v3.2zm3.72 0l2.0-1.6v3.2zm3.72 0l2.0-1.6v3.2zm3.72 0l2.0-1.6v3.2zm3.72 0l2.0-1.6v3.2zm3.72 0l2.0-1.6v3.2zm3.72 0l2.0-1.6v3.2zm3.72 0l2.0-1.6v3.2zm3.72 0l2.0-1.6v3.2zm3.72 0l2.0-1.6v3.2zm3.72 0l2.0-1.6v3.2zm3.72 0l2.0-1.6v3.2zm3.72 0l2.0-1.6v3.2zm3.72 0l2.0-1.6v3.2zm3.72 0l2.0-1.6v3.2zm3.72 0l2.0-1.6v3.2zm3.72 0l2.0-1.6v3.2zm3.72 0l2.0-1.6v3.2zm3.72 0l2.0-1.6v3.2zm3.72 0l2.0-1.6v3.2zm3.72 0l2.0-1.6v3.2zm3.72 0l2.0-1.6v3.2zm3.72 0l2.0-1.6v3.2zm3.72 0l2.0-1.6v3.2zm3.72 0l2.0-1.6v3.2zm3.72 0l2.0-1.6v3.2zm3.72 0l2.0-1.6v3.2zm3.72 0l2.0-1.6v3.2zm3.72 0l2.0-1.6v3.2zm3.72 0l2.0-1.6v3.2zm3.72 0l2.0-1.6v3.2zm3.72 0l2.0-1.6v3.2zm3.72 0l2.0-1.6v3.2zm3.72 0l2.0-1.6v3.2zm3.72 0l2.0-1.6v3.2zm3.72 0l2.0-1.6v3.2zm3.72 0l2.0-1.6v3.2zm3.72 0l2.0-1.6v3.2zm3.72 0l2.0-1.6v3.2zm3.72 0l2.0-1.6v3.2zm3.72 0l2.0-1.6v3.2zm3.72 0l2.0-1.6v3.2zm3.72 0l2.0-1.6v3.2zm3.72 0l2.0-1.6v3.2zm3.72 0l2.0-1.6v3.2zm3.72 0l2.0-1.6v3.2zm3.72 0l2.0-1.6v3.2zm3.72 0l2.0-1.6v3.2zm3.72 0l2.0-1.6v3.2zm3.72 0l2.0-1.6v3.2zm3.72 0l2.0-1.6v3.2zm3.72 0l2.0-1.6v3.2zm3.72 0l2.0-1.6v3.2zm3.72 0l2.0-1.6v3.2zm3.72 0l2.0-1.6v3.2zm3.72 0l2.0-1.6v3.2zm3.72 0l2.0-1.6v3.2zm3.72 0l2.0-1.6v3.2zm3.72 0l2.0-1.6v3.2zm3.72 0l2.0-1.6v3.2zm3.72 0l2.0-1.6v3.2zm3.72 0l2.0-1.6v3.2zm3.72 0l2.0-1.6v3.2zm3.72 0l2.0-1.6v3.2zm3.72 0l2.0-1.6v3.2zm3.72 0l2.0-1.6v3.2zm3.72 0l2.0-1.6v3.2zm3.72 0l2.0-1.6v3.2zm3.72 0l2.0-1.6v3.2zm3.72 0l2.0-1.6v3.2zm3.72 0l2.0-1.6v3.2zm3.72 0l2.0-1.6v3.2zm3.72 0l2.0-1.6v3.2zm3.72 0l2.0-1.6v3.2zm3.72 0l2.0-1.6v3.2zm3.72 0l2.0-1.6v3.2zm3.72 0l2.0-1.6v3.2zm3.72 0l2.0-1.6v3.2zm3.72 0l2.0-1.6v3.2zm3.72 0l2.0-1.6v3.2zm3.72 0l2.0-1.6v3.2zm3.72 0l2.0-1.6v3.2zm3.72 0l2.0-1.6v3.2zm3.72 0l2.0-1.6v3.2zm3.72 0l2.0-1.6v3.2zm3.72 0l2.0-1.6v3.2z" fill="#0A0A80" fill-opacity="0.85"/>
<text x="7.7" y="333.09999999999997" font-family='"Liberation Sans", sans-serif' font-size="6.4" fill="#2A2A82" text-anchor="start" font-weight="bold" font-style="normal" textLength="9.5" lengthAdjust="spacingAndGlyphs" >Fn1</text>
<line x1="19.4" y1="338.20" x2="672" y2="338.20" stroke="#0A0A80" stroke-width="1" stroke-opacity="0.55"/>
<path d="M26.80 338.20l2.0-1.6v3.2zm3.72 0l2.0-1.6v3.2zm3.72 0l2.0-1.6v3.2zm3.72 0l2.0-1.6v3.2zm3.72 0l2.0-1.6v3.2zm3.72 0l2.0-1.6v3.2zm3.72 0l2.0-1.6v3.2zm3.72 0l2.0-1.6v3.2zm3.72 0l2.0-1.6v3.2zm3.72 0l2.0-1.6v3.2zm3.72 0l2.0-1.6v3.2zm3.72 0l2.0-1.6v3.2zm3.72 0l2.0-1.6v3.2zm3.72 0l2.0-1.6v3.2zm3.72 0l2.0-1.6v3.2zm3.72 0l2.0-1.6v3.2zm3.72 0l2.0-1.6v3.2zm3.72 0l2.0-1.6v3.2zm3.72 0l2.0-1.6v3.2zm3.72 0l2.0-1.6v3.2zm3.72 0l2.0-1.6v3.2zm3.72 0l2.0-1.6v3.2zm3.72 0l2.0-1.6v3.2zm3.72 0l2.0-1.6v3.2zm3.72 0l2.0-1.6v3.2zm3.72 0l2.0-1.6v3.2zm3.72 0l2.0-1.6v3.2zm3.72 0l2.0-1.6v3.2zm3.72 0l2.0-1.6v3.2zm3.72 0l2.0-1.6v3.2zm3.72 0l2.0-1.6v3.2zm3.72 0l2.0-1.6v3.2zm3.72 0l2.0-1.6v3.2zm3.72 0l2.0-1.6v3.2zm3.72 0l2.0-1.6v3.2zm3.72 0l2.0-1.6v3.2zm3.72 0l2.0-1.6v3.2zm3.72 0l2.0-1.6v3.2zm3.72 0l2.0-1.6v3.2zm3.72 0l2.0-1.6v3.2zm3.72 0l2.0-1.6v3.2zm3.72 0l2.0-1.6v3.2zm3.72 0l2.0-1.6v3.2zm3.72 0l2.0-1.6v3.2zm3.72 0l2.0-1.6v3.2zm3.72 0l2.0-1.6v3.2zm3.72 0l2.0-1.6v3.2zm3.72 0l2.0-1.6v3.2zm3.72 0l2.0-1.6v3.2zm3.72 0l2.0-1.6v3.2zm3.72 0l2.0-1.6v3.2zm3.72 0l2.0-1.6v3.2zm3.72 0l2.0-1.6v3.2zm3.72 0l2.0-1.6v3.2zm3.72 0l2.0-1.6v3.2zm3.72 0l2.0-1.6v3.2zm3.72 0l2.0-1.6v3.2zm3.72 0l2.0-1.6v3.2zm3.72 0l2.0-1.6v3.2zm3.72 0l2.0-1.6v3.2zm3.72 0l2.0-1.6v3.2zm3.72 0l2.0-1.6v3.2zm3.72 0l2.0-1.6v3.2zm3.72 0l2.0-1.6v3.2zm3.72 0l2.0-1.6v3.2zm3.72 0l2.0-1.6v3.2zm3.72 0l2.0-1.6v3.2zm3.72 0l2.0-1.6v3.2zm3.72 0l2.0-1.6v3.2zm3.72 0l2.0-1.6v3.2zm3.72 0l2.0-1.6v3.2zm3.72 0l2.0-1.6v3.2zm3.72 0l2.0-1.6v3.2zm3.72 0l2.0-1.6v3.2zm3.72 0l2.0-1.6v3.2zm3.72 0l2.0-1.6v3.2zm3.72 0l2.0-1.6v3.2zm3.72 0l2.0-1.6v3.2zm3.72 0l2.0-1.6v3.2zm3.72 0l2.0-1.6v3.2zm3.72 0l2.0-1.6v3.2zm3.72 0l2.0-1.6v3.2zm3.72 0l2.0-1.6v3.2zm3.72 0l2.0-1.6v3.2zm3.72 0l2.0-1.6v3.2zm3.72 0l2.0-1.6v3.2zm3.72 0l2.0-1.6v3.2zm3.72 0l2.0-1.6v3.2zm3.72 0l2.0-1.6v3.2zm3.72 0l2.0-1.6v3.2zm3.72 0l2.0-1.6v3.2zm3.72 0l2.0-1.6v3.2zm3.72 0l2.0-1.6v3.2zm3.72 0l2.0-1.6v3.2zm3.72 0l2.0-1.6v3.2zm3.72 0l2.0-1.6v3.2zm3.72 0l2.0-1.6v3.2zm3.72 0l2.0-1.6v3.2zm3.72 0l2.0-1.6v3.2zm3.72 0l2.0-1.6v3.2zm3.72 0l2.0-1.6v3.2zm3.72 0l2.0-1.6v3.2zm3.72 0l2.0-1.6v3.2zm3.72 0l2.0-1.6v3.2zm3.72 0l2.0-1.6v3.2zm3.72 0l2.0-1.6v3.2zm3.72 0l2.0-1.6v3.2zm3.72 0l2.0-1.6v3.2zm3.72 0l2.0-1.6v3.2zm3.72 0l2.0-1.6v3.2zm3.72 0l2.0-1.6v3.2zm3.72 0l2.0-1.6v3.2zm3.72 0l2.0-1.6v3.2zm3.72 0l2.0-1.6v3.2zm3.72 0l2.0-1.6v3.2zm3.72 0l2.0-1.6v3.2zm3.72 0l2.0-1.6v3.2zm3.72 0l2.0-1.6v3.2zm3.72 0l2.0-1.6v3.2zm3.72 0l2.0-1.6v3.2zm3.72 0l2.0-1.6v3.2zm3.72 0l2.0-1.6v3.2zm3.72 0l2.0-1.6v3.2zm3.72 0l2.0-1.6v3.2zm3.72 0l2.0-1.6v3.2zm3.72 0l2.0-1.6v3.2zm3.72 0l2.0-1.6v3.2zm3.72 0l2.0-1.6v3.2zm3.72 0l2.0-1.6v3.2zm3.72 0l2.0-1.6v3.2zm3.72 0l2.0-1.6v3.2zm3.72 0l2.0-1.6v3.2zm3.72 0l2.0-1.6v3.2zm3.72 0l2.0-1.6v3.2zm3.72 0l2.0-1.6v3.2zm3.72 0l2.0-1.6v3.2zm3.72 0l2.0-1.6v3.2zm3.72 0l2.0-1.6v3.2zm3.72 0l2.0-1.6v3.2zm3.72 0l2.0-1.6v3.2zm3.72 0l2.0-1.6v3.2zm3.72 0l2.0-1.6v3.2zm3.72 0l2.0-1.6v3.2zm3.72 0l2.0-1.6v3.2zm3.72 0l2.0-1.6v3.2zm3.72 0l2.0-1.6v3.2zm3.72 0l2.0-1.6v3.2zm3.72 0l2.0-1.6v3.2zm3.72 0l2.0-1.6v3.2zm3.72 0l2.0-1.6v3.2zm3.72 0l2.0-1.6v3.2zm3.72 0l2.0-1.6v3.2zm3.72 0l2.0-1.6v3.2zm3.72 0l2.0-1.6v3.2zm3.72 0l2.0-1.6v3.2zm3.72 0l2.0-1.6v3.2zm3.72 0l2.0-1.6v3.2zm3.72 0l2.0-1.6v3.2zm3.72 0l2.0-1.6v3.2zm3.72 0l2.0-1.6v3.2zm3.72 0l2.0-1.6v3.2zm3.72 0l2.0-1.6v3.2zm3.72 0l2.0-1.6v3.2zm3.72 0l2.0-1.6v3.2zm3.72 0l2.0-1.6v3.2zm3.72 0l2.0-1.6v3.2zm3.72 0l2.0-1.6v3.2zm3.72 0l2.0-1.6v3.2zm3.72 0l2.0-1.6v3.2zm3.72 0l2.0-1.6v3.2zm3.72 0l2.0-1.6v3.2zm3.72 0l2.0-1.6v3.2zm3.72 0l2.0-1.6v3.2z" fill="#0A0A80" fill-opacity="0.85"/>
<text x="7.7" y="340.4" font-family='"Liberation Sans", sans-serif' font-size="6.4" fill="#2A2A82" text-anchor="start" font-weight="bold" font-style="normal" textLength="9.5" lengthAdjust="spacingAndGlyphs" >Fn1</text>
<line x1="19.4" y1="345.50" x2="672" y2="345.50" stroke="#0A0A80" stroke-width="1" stroke-opacity="0.55"/>
<path d="M26.80 345.50l2.0-1.6v3.2zm3.72 0l2.0-1.6v3.2zm3.72 0l2.0-1.6v3.2zm3.72 0l2.0-1.6v3.2zm3.72 0l2.0-1.6v3.2zm3.72 0l2.0-1.6v3.2zm3.72 0l2.0-1.6v3.2zm3.72 0l2.0-1.6v3.2zm3.72 0l2.0-1.6v3.2zm3.72 0l2.0-1.6v3.2zm3.72 0l2.0-1.6v3.2zm3.72 0l2.0-1.6v3.2zm3.72 0l2.0-1.6v3.2zm3.72 0l2.0-1.6v3.2zm3.72 0l2.0-1.6v3.2zm3.72 0l2.0-1.6v3.2zm3.72 0l2.0-1.6v3.2zm3.72 0l2.0-1.6v3.2zm3.72 0l2.0-1.6v3.2zm3.72 0l2.0-1.6v3.2zm3.72 0l2.0-1.6v3.2zm3.72 0l2.0-1.6v3.2zm3.72 0l2.0-1.6v3.2zm3.72 0l2.0-1.6v3.2zm3.72 0l2.0-1.6v3.2zm3.72 0l2.0-1.6v3.2zm3.72 0l2.0-1.6v3.2zm3.72 0l2.0-1.6v3.2zm3.72 0l2.0-1.6v3.2zm3.72 0l2.0-1.6v3.2zm3.72 0l2.0-1.6v3.2zm3.72 0l2.0-1.6v3.2zm3.72 0l2.0-1.6v3.2zm3.72 0l2.0-1.6v3.2zm3.72 0l2.0-1.6v3.2zm3.72 0l2.0-1.6v3.2zm3.72 0l2.0-1.6v3.2zm3.72 0l2.0-1.6v3.2zm3.72 0l2.0-1.6v3.2zm3.72 0l2.0-1.6v3.2zm3.72 0l2.0-1.6v3.2zm3.72 0l2.0-1.6v3.2zm3.72 0l2.0-1.6v3.2zm3.72 0l2.0-1.6v3.2zm3.72 0l2.0-1.6v3.2zm3.72 0l2.0-1.6v3.2zm3.72 0l2.0-1.6v3.2zm3.72 0l2.0-1.6v3.2zm3.72 0l2.0-1.6v3.2zm3.72 0l2.0-1.6v3.2zm3.72 0l2.0-1.6v3.2zm3.72 0l2.0-1.6v3.2zm3.72 0l2.0-1.6v3.2zm3.72 0l2.0-1.6v3.2zm3.72 0l2.0-1.6v3.2zm3.72 0l2.0-1.6v3.2zm3.72 0l2.0-1.6v3.2zm3.72 0l2.0-1.6v3.2zm3.72 0l2.0-1.6v3.2zm3.72 0l2.0-1.6v3.2zm3.72 0l2.0-1.6v3.2zm3.72 0l2.0-1.6v3.2zm3.72 0l2.0-1.6v3.2zm3.72 0l2.0-1.6v3.2zm3.72 0l2.0-1.6v3.2zm3.72 0l2.0-1.6v3.2zm3.72 0l2.0-1.6v3.2zm3.72 0l2.0-1.6v3.2zm3.72 0l2.0-1.6v3.2zm3.72 0l2.0-1.6v3.2zm3.72 0l2.0-1.6v3.2zm3.72 0l2.0-1.6v3.2zm3.72 0l2.0-1.6v3.2zm3.72 0l2.0-1.6v3.2zm3.72 0l2.0-1.6v3.2zm3.72 0l2.0-1.6v3.2zm3.72 0l2.0-1.6v3.2zm3.72 0l2.0-1.6v3.2zm3.72 0l2.0-1.6v3.2zm3.72 0l2.0-1.6v3.2zm3.72 0l2.0-1.6v3.2zm3.72 0l2.0-1.6v3.2zm3.72 0l2.0-1.6v3.2zm3.72 0l2.0-1.6v3.2zm3.72 0l2.0-1.6v3.2zm3.72 0l2.0-1.6v3.2zm3.72 0l2.0-1.6v3.2zm3.72 0l2.0-1.6v3.2zm3.72 0l2.0-1.6v3.2zm3.72 0l2.0-1.6v3.2zm3.72 0l2.0-1.6v3.2zm3.72 0l2.0-1.6v3.2zm3.72 0l2.0-1.6v3.2zm3.72 0l2.0-1.6v3.2zm3.72 0l2.0-1.6v3.2zm3.72 0l2.0-1.6v3.2zm3.72 0l2.0-1.6v3.2zm3.72 0l2.0-1.6v3.2zm3.72 0l2.0-1.6v3.2zm3.72 0l2.0-1.6v3.2zm3.72 0l2.0-1.6v3.2zm3.72 0l2.0-1.6v3.2zm3.72 0l2.0-1.6v3.2zm3.72 0l2.0-1.6v3.2zm3.72 0l2.0-1.6v3.2zm3.72 0l2.0-1.6v3.2zm3.72 0l2.0-1.6v3.2zm3.72 0l2.0-1.6v3.2zm3.72 0l2.0-1.6v3.2zm3.72 0l2.0-1.6v3.2zm3.72 0l2.0-1.6v3.2zm3.72 0l2.0-1.6v3.2zm3.72 0l2.0-1.6v3.2zm3.72 0l2.0-1.6v3.2zm3.72 0l2.0-1.6v3.2zm3.72 0l2.0-1.6v3.2zm3.72 0l2.0-1.6v3.2zm3.72 0l2.0-1.6v3.2zm3.72 0l2.0-1.6v3.2zm3.72 0l2.0-1.6v3.2zm3.72 0l2.0-1.6v3.2zm3.72 0l2.0-1.6v3.2zm3.72 0l2.0-1.6v3.2zm3.72 0l2.0-1.6v3.2zm3.72 0l2.0-1.6v3.2zm3.72 0l2.0-1.6v3.2zm3.72 0l2.0-1.6v3.2zm3.72 0l2.0-1.6v3.2zm3.72 0l2.0-1.6v3.2zm3.72 0l2.0-1.6v3.2zm3.72 0l2.0-1.6v3.2zm3.72 0l2.0-1.6v3.2zm3.72 0l2.0-1.6v3.2zm3.72 0l2.0-1.6v3.2zm3.72 0l2.0-1.6v3.2zm3.72 0l2.0-1.6v3.2zm3.72 0l2.0-1.6v3.2zm3.72 0l2.0-1.6v3.2zm3.72 0l2.0-1.6v3.2zm3.72 0l2.0-1.6v3.2zm3.72 0l2.0-1.6v3.2zm3.72 0l2.0-1.6v3.2zm3.72 0l2.0-1.6v3.2zm3.72 0l2.0-1.6v3.2zm3.72 0l2.0-1.6v3.2zm3.72 0l2.0-1.6v3.2zm3.72 0l2.0-1.6v3.2zm3.72 0l2.0-1.6v3.2zm3.72 0l2.0-1.6v3.2zm3.72 0l2.0-1.6v3.2zm3.72 0l2.0-1.6v3.2zm3.72 0l2.0-1.6v3.2zm3.72 0l2.0-1.6v3.2zm3.72 0l2.0-1.6v3.2zm3.72 0l2.0-1.6v3.2zm3.72 0l2.0-1.6v3.2zm3.72 0l2.0-1.6v3.2zm3.72 0l2.0-1.6v3.2zm3.72 0l2.0-1.6v3.2zm3.72 0l2.0-1.6v3.2zm3.72 0l2.0-1.6v3.2zm3.72 0l2.0-1.6v3.2zm3.72 0l2.0-1.6v3.2zm3.72 0l2.0-1.6v3.2zm3.72 0l2.0-1.6v3.2zm3.72 0l2.0-1.6v3.2zm3.72 0l2.0-1.6v3.2zm3.72 0l2.0-1.6v3.2zm3.72 0l2.0-1.6v3.2zm3.72 0l2.0-1.6v3.2zm3.72 0l2.0-1.6v3.2zm3.72 0l2.0-1.6v3.2zm3.72 0l2.0-1.6v3.2z" fill="#0A0A80" fill-opacity="0.85"/>
<text x="7.7" y="347.7" font-family='"Liberation Sans", sans-serif' font-size="6.4" fill="#2A2A82" text-anchor="start" font-weight="bold" font-style="normal" textLength="9.5" lengthAdjust="spacingAndGlyphs" >Fn1</text>
<line x1="19.4" y1="352.80" x2="672" y2="352.80" stroke="#0A0A80" stroke-width="1" stroke-opacity="0.55"/>
<path d="M26.80 352.80l2.0-1.6v3.2zm3.72 0l2.0-1.6v3.2zm3.72 0l2.0-1.6v3.2zm3.72 0l2.0-1.6v3.2zm3.72 0l2.0-1.6v3.2zm3.72 0l2.0-1.6v3.2zm3.72 0l2.0-1.6v3.2zm3.72 0l2.0-1.6v3.2zm3.72 0l2.0-1.6v3.2zm3.72 0l2.0-1.6v3.2zm3.72 0l2.0-1.6v3.2zm3.72 0l2.0-1.6v3.2zm3.72 0l2.0-1.6v3.2zm3.72 0l2.0-1.6v3.2zm3.72 0l2.0-1.6v3.2zm3.72 0l2.0-1.6v3.2zm3.72 0l2.0-1.6v3.2zm3.72 0l2.0-1.6v3.2zm3.72 0l2.0-1.6v3.2zm3.72 0l2.0-1.6v3.2zm3.72 0l2.0-1.6v3.2zm3.72 0l2.0-1.6v3.2zm3.72 0l2.0-1.6v3.2zm3.72 0l2.0-1.6v3.2zm3.72 0l2.0-1.6v3.2zm3.72 0l2.0-1.6v3.2zm3.72 0l2.0-1.6v3.2zm3.72 0l2.0-1.6v3.2zm3.72 0l2.0-1.6v3.2zm3.72 0l2.0-1.6v3.2zm3.72 0l2.0-1.6v3.2zm3.72 0l2.0-1.6v3.2zm3.72 0l2.0-1.6v3.2zm3.72 0l2.0-1.6v3.2zm3.72 0l2.0-1.6v3.2zm3.72 0l2.0-1.6v3.2zm3.72 0l2.0-1.6v3.2zm3.72 0l2.0-1.6v3.2zm3.72 0l2.0-1.6v3.2zm3.72 0l2.0-1.6v3.2zm3.72 0l2.0-1.6v3.2zm3.72 0l2.0-1.6v3.2zm3.72 0l2.0-1.6v3.2zm3.72 0l2.0-1.6v3.2zm3.72 0l2.0-1.6v3.2zm3.72 0l2.0-1.6v3.2zm3.72 0l2.0-1.6v3.2zm3.72 0l2.0-1.6v3.2zm3.72 0l2.0-1.6v3.2zm3.72 0l2.0-1.6v3.2zm3.72 0l2.0-1.6v3.2zm3.72 0l2.0-1.6v3.2zm3.72 0l2.0-1.6v3.2zm3.72 0l2.0-1.6v3.2zm3.72 0l2.0-1.6v3.2zm3.72 0l2.0-1.6v3.2zm3.72 0l2.0-1.6v3.2zm3.72 0l2.0-1.6v3.2zm3.72 0l2.0-1.6v3.2zm3.72 0l2.0-1.6v3.2zm3.72 0l2.0-1.6v3.2zm3.72 0l2.0-1.6v3.2zm3.72 0l2.0-1.6v3.2zm3.72 0l2.0-1.6v3.2zm3.72 0l2.0-1.6v3.2zm3.72 0l2.0-1.6v3.2zm3.72 0l2.0-1.6v3.2zm3.72 0l2.0-1.6v3.2zm3.72 0l2.0-1.6v3.2zm3.72 0l2.0-1.6v3.2zm3.72 0l2.0-1.6v3.2zm3.72 0l2.0-1.6v3.2zm3.72 0l2.0-1.6v3.2zm3.72 0l2.0-1.6v3.2zm3.72 0l2.0-1.6v3.2zm3.72 0l2.0-1.6v3.2zm3.72 0l2.0-1.6v3.2zm3.72 0l2.0-1.6v3.2zm3.72 0l2.0-1.6v3.2zm3.72 0l2.0-1.6v3.2zm3.72 0l2.0-1.6v3.2zm3.72 0l2.0-1.6v3.2zm3.72 0l2.0-1.6v3.2zm3.72 0l2.0-1.6v3.2zm3.72 0l2.0-1.6v3.2zm3.72 0l2.0-1.6v3.2zm3.72 0l2.0-1.6v3.2zm3.72 0l2.0-1.6v3.2zm3.72 0l2.0-1.6v3.2zm3.72 0l2.0-1.6v3.2zm3.72 0l2.0-1.6v3.2zm3.72 0l2.0-1.6v3.2zm3.72 0l2.0-1.6v3.2zm3.72 0l2.0-1.6v3.2zm3.72 0l2.0-1.6v3.2zm3.72 0l2.0-1.6v3.2zm3.72 0l2.0-1.6v3.2zm3.72 0l2.0-1.6v3.2zm3.72 0l2.0-1.6v3.2zm3.72 0l2.0-1.6v3.2zm3.72 0l2.0-1.6v3.2zm3.72 0l2.0-1.6v3.2zm3.72 0l2.0-1.6v3.2zm3.72 0l2.0-1.6v3.2zm3.72 0l2.0-1.6v3.2zm3.72 0l2.0-1.6v3.2zm3.72 0l2.0-1.6v3.2zm3.72 0l2.0-1.6v3.2zm3.72 0l2.0-1.6v3.2zm3.72 0l2.0-1.6v3.2zm3.72 0l2.0-1.6v3.2zm3.72 0l2.0-1.6v3.2zm3.72 0l2.0-1.6v3.2zm3.72 0l2.0-1.6v3.2zm3.72 0l2.0-1.6v3.2zm3.72 0l2.0-1.6v3.2zm3.72 0l2.0-1.6v3.2zm3.72 0l2.0-1.6v3.2zm3.72 0l2.0-1.6v3.2zm3.72 0l2.0-1.6v3.2zm3.72 0l2.0-1.6v3.2zm3.72 0l2.0-1.6v3.2zm3.72 0l2.0-1.6v3.2zm3.72 0l2.0-1.6v3.2zm3.72 0l2.0-1.6v3.2zm3.72 0l2.0-1.6v3.2zm3.72 0l2.0-1.6v3.2zm3.72 0l2.0-1.6v3.2zm3.72 0l2.0-1.6v3.2zm3.72 0l2.0-1.6v3.2zm3.72 0l2.0-1.6v3.2zm3.72 0l2.0-1.6v3.2zm3.72 0l2.0-1.6v3.2zm3.72 0l2.0-1.6v3.2zm3.72 0l2.0-1.6v3.2zm3.72 0l2.0-1.6v3.2zm3.72 0l2.0-1.6v3.2zm3.72 0l2.0-1.6v3.2zm3.72 0l2.0-1.6v3.2zm3.72 0l2.0-1.6v3.2zm3.72 0l2.0-1.6v3.2zm3.72 0l2.0-1.6v3.2zm3.72 0l2.0-1.6v3.2zm3.72 0l2.0-1.6v3.2zm3.72 0l2.0-1.6v3.2zm3.72 0l2.0-1.6v3.2zm3.72 0l2.0-1.6v3.2zm3.72 0l2.0-1.6v3.2zm3.72 0l2.0-1.6v3.2zm3.72 0l2.0-1.6v3.2zm3.72 0l2.0-1.6v3.2zm3.72 0l2.0-1.6v3.2zm3.72 0l2.0-1.6v3.2zm3.72 0l2.0-1.6v3.2zm3.72 0l2.0-1.6v3.2zm3.72 0l2.0-1.6v3.2zm3.72 0l2.0-1.6v3.2zm3.72 0l2.0-1.6v3.2zm3.72 0l2.0-1.6v3.2zm3.72 0l2.0-1.6v3.2zm3.72 0l2.0-1.6v3.2zm3.72 0l2.0-1.6v3.2zm3.72 0l2.0-1.6v3.2zm3.72 0l2.0-1.6v3.2zm3.72 0l2.0-1.6v3.2zm3.72 0l2.0-1.6v3.2zm3.72 0l2.0-1.6v3.2zm3.72 0l2.0-1.6v3.2zm3.72 0l2.0-1.6v3.2zm3.72 0l2.0-1.6v3.2zm3.72 0l2.0-1.6v3.2zm3.72 0l2.0-1.6v3.2zm3.72 0l2.0-1.6v3.2z" fill="#0A0A80" fill-opacity="0.85"/>
<text x="7.7" y="355.0" font-family='"Liberation Sans", sans-serif' font-size="6.4" fill="#2A2A82" text-anchor="start" font-weight="bold" font-style="normal" textLength="9.5" lengthAdjust="spacingAndGlyphs" >Fn1</text>
<line x1="573" y1="360.10" x2="672" y2="360.10" stroke="#0A0A80" stroke-width="1" stroke-opacity="0.55"/>
<path d="M575.10 360.10l2.0-1.6v3.2zm3.72 0l2.0-1.6v3.2zm3.72 0l2.0-1.6v3.2zm3.72 0l2.0-1.6v3.2zm3.72 0l2.0-1.6v3.2zm3.72 0l2.0-1.6v3.2zm3.72 0l2.0-1.6v3.2zm3.72 0l2.0-1.6v3.2zm3.72 0l2.0-1.6v3.2zm3.72 0l2.0-1.6v3.2zm3.72 0l2.0-1.6v3.2zm3.72 0l2.0-1.6v3.2zm3.72 0l2.0-1.6v3.2zm3.72 0l2.0-1.6v3.2zm3.72 0l2.0-1.6v3.2zm3.72 0l2.0-1.6v3.2zm3.72 0l2.0-1.6v3.2zm3.72 0l2.0-1.6v3.2zm3.72 0l2.0-1.6v3.2zm3.72 0l2.0-1.6v3.2zm3.72 0l2.0-1.6v3.2zm3.72 0l2.0-1.6v3.2zm3.72 0l2.0-1.6v3.2zm3.72 0l2.0-1.6v3.2zm3.72 0l2.0-1.6v3.2zm3.72 0l2.0-1.6v3.2z" fill="#0A0A80" fill-opacity="0.85"/>
<text x="561" y="362.3" font-family='"Liberation Sans", sans-serif' font-size="6.4" fill="#2A2A82" text-anchor="start" font-weight="bold" font-style="normal" textLength="9.4" lengthAdjust="spacingAndGlyphs" >Fn1</text>
<path d="M19.3 307.20h6.7v3.6h-6.7zM19.3 314.50h6.7v3.6h-6.7zM19.3 321.80h6.7v3.6h-6.7zM19.3 329.10h6.7v3.6h-6.7zM19.3 336.40h6.7v3.6h-6.7zM19.3 343.70h6.7v3.6h-6.7zM19.3 351.00h6.7v3.6h-6.7zM31.2 305.70h1.3v6.6h-1.3zM31.2 313.00h1.3v6.6h-1.3zM31.2 320.30h1.3v6.6h-1.3zM31.2 327.60h1.3v6.6h-1.3zM31.2 334.90h1.3v6.6h-1.3zM31.2 342.20h1.3v6.6h-1.3zM31.2 349.50h1.3v6.6h-1.3zM62.9 305.70h1.3v6.6h-1.3zM62.9 313.00h1.3v6.6h-1.3zM62.9 320.30h1.3v6.6h-1.3zM62.9 327.60h1.3v6.6h-1.3zM62.9 334.90h1.3v6.6h-1.3zM62.9 342.20h1.3v6.6h-1.3zM62.9 349.50h1.3v6.6h-1.3zM69.5 305.70h1.7v6.6h-1.7zM69.5 313.00h1.7v6.6h-1.7zM69.5 320.30h1.7v6.6h-1.7zM69.5 327.60h1.7v6.6h-1.7zM69.5 334.90h1.7v6.6h-1.7zM69.5 342.20h1.7v6.6h-1.7zM69.5 349.50h1.7v6.6h-1.7zM92.0 305.70h1.3v6.6h-1.3zM92.0 313.00h1.3v6.6h-1.3zM92.0 320.30h1.3v6.6h-1.3zM92.0 327.60h1.3v6.6h-1.3zM92.0 334.90h1.3v6.6h-1.3zM92.0 342.20h1.3v6.6h-1.3zM92.0 349.50h1.3v6.6h-1.3zM116.8 305.70h1.3v6.6h-1.3zM116.8 313.00h1.3v6.6h-1.3zM116.8 320.30h1.3v6.6h-1.3zM116.8 327.60h1.3v6.6h-1.3zM116.8 334.90h1.3v6.6h-1.3zM116.8 342.20h1.3v6.6h-1.3zM116.8 349.50h1.3v6.6h-1.3zM132.8 305.70h4.0v6.6h-4.0zM132.8 313.00h4.0v6.6h-4.0zM132.8 334.90h4.0v6.6h-4.0zM132.8 342.20h4.0v6.6h-4.0zM132.8 349.50h4.0v6.6h-4.0zM142.8 305.70h1.2v6.6h-1.2zM142.8 313.00h1.2v6.6h-1.2zM142.8 320.30h1.2v6.6h-1.2zM142.8 327.60h1.2v6.6h-1.2zM142.8 334.90h1.2v6.6h-1.2zM142.8 342.20h1.2v6.6h-1.2zM142.8 349.50h1.2v6.6h-1.2zM151.2 305.70h1.8v6.6h-1.8zM151.2 313.00h1.8v6.6h-1.8zM151.2 320.30h1.8v6.6h-1.8zM151.2 327.60h1.8v6.6h-1.8zM151.2 334.90h1.8v6.6h-1.8zM151.2 342.20h1.8v6.6h-1.8zM151.2 349.50h1.8v6.6h-1.8zM154.6 305.70h1.0v6.6h-1.0zM154.6 313.00h1.0v6.6h-1.0zM154.6 320.30h1.0v6.6h-1.0zM154.6 327.60h1.0v6.6h-1.0zM154.6 334.90h1.0v6.6h-1.0zM154.6 342.20h1.0v6.6h-1.0zM154.6 349.50h1.0v6.6h-1.0zM161.8 305.70h1.4v6.6h-1.4zM161.8 313.00h1.4v6.6h-1.4zM161.8 320.30h1.4v6.6h-1.4zM161.8 327.60h1.4v6.6h-1.4zM161.8 334.90h1.4v6.6h-1.4zM161.8 342.20h1.4v6.6h-1.4zM161.8 349.50h1.4v6.6h-1.4zM170.4 305.70h1.0v6.6h-1.0zM170.4 313.00h1.0v6.6h-1.0zM170.4 320.30h1.0v6.6h-1.0zM170.4 327.60h1.0v6.6h-1.0zM170.4 334.90h1.0v6.6h-1.0zM170.4 342.20h1.0v6.6h-1.0zM170.4 349.50h1.0v6.6h-1.0zM181.0 305.70h2.0v6.6h-2.0zM181.0 313.00h2.0v6.6h-2.0zM181.0 320.30h2.0v6.6h-2.0zM181.0 327.60h2.0v6.6h-2.0zM181.0 334.90h2.0v6.6h-2.0zM181.0 342.20h2.0v6.6h-2.0zM181.0 349.50h2.0v6.6h-2.0zM194.0 305.70h2.8v6.6h-2.8zM194.0 313.00h2.8v6.6h-2.8zM194.0 320.30h2.8v6.6h-2.8zM194.0 342.20h2.8v6.6h-2.8zM207.0 305.70h1.4v6.6h-1.4zM207.0 313.00h1.4v6.6h-1.4zM207.0 320.30h1.4v6.6h-1.4zM207.0 327.60h1.4v6.6h-1.4zM207.0 334.90h1.4v6.6h-1.4zM207.0 342.20h1.4v6.6h-1.4zM207.0 349.50h1.4v6.6h-1.4zM215.6 305.70h2.0v6.6h-2.0zM215.6 313.00h2.0v6.6h-2.0zM215.6 320.30h2.0v6.6h-2.0zM215.6 327.60h2.0v6.6h-2.0zM215.6 334.90h2.0v6.6h-2.0zM215.6 342.20h2.0v6.6h-2.0zM215.6 349.50h2.0v6.6h-2.0zM223.2 305.70h2.0v6.6h-2.0zM223.2 313.00h2.0v6.6h-2.0zM223.2 320.30h2.0v6.6h-2.0zM223.2 327.60h2.0v6.6h-2.0zM223.2 334.90h2.0v6.6h-2.0zM223.2 342.20h2.0v6.6h-2.0zM223.2 349.50h2.0v6.6h-2.0zM235.1 305.70h1.0v6.6h-1.0zM235.1 313.00h1.0v6.6h-1.0zM235.1 320.30h1.0v6.6h-1.0zM235.1 327.60h1.0v6.6h-1.0zM235.1 334.90h1.0v6.6h-1.0zM235.1 342.20h1.0v6.6h-1.0zM235.1 349.50h1.0v6.6h-1.0zM249.6 305.70h2.4v6.6h-2.4zM249.6 313.00h2.4v6.6h-2.4zM249.6 320.30h2.4v6.6h-2.4zM249.6 327.60h2.4v6.6h-2.4zM249.6 334.90h2.4v6.6h-2.4zM249.6 342.20h2.4v6.6h-2.4zM249.6 349.50h2.4v6.6h-2.4zM264.0 305.70h1.2v6.6h-1.2zM264.0 313.00h1.2v6.6h-1.2zM264.0 320.30h1.2v6.6h-1.2zM264.0 327.60h1.2v6.6h-1.2zM264.0 334.90h1.2v6.6h-1.2zM264.0 342.20h1.2v6.6h-1.2zM264.0 349.50h1.2v6.6h-1.2zM279.2 305.70h2.0v6.6h-2.0zM279.2 313.00h2.0v6.6h-2.0zM279.2 320.30h2.0v6.6h-2.0zM279.2 327.60h2.0v6.6h-2.0zM279.2 334.90h2.0v6.6h-2.0zM279.2 342.20h2.0v6.6h-2.0zM279.2 349.50h2.0v6.6h-2.0zM307.0 305.70h2.0v6.6h-2.0zM307.0 313.00h2.0v6.6h-2.0zM307.0 320.30h2.0v6.6h-2.0zM307.0 327.60h2.0v6.6h-2.0zM307.0 334.90h2.0v6.6h-2.0zM307.0 342.20h2.0v6.6h-2.0zM307.0 349.50h2.0v6.6h-2.0zM338.2 305.70h1.2v6.6h-1.2zM338.2 313.00h1.2v6.6h-1.2zM338.2 320.30h1.2v6.6h-1.2zM338.2 327.60h1.2v6.6h-1.2zM338.2 334.90h1.2v6.6h-1.2zM338.2 342.20h1.2v6.6h-1.2zM338.2 349.50h1.2v6.6h-1.2zM345.7 305.70h2.0v6.6h-2.0zM345.7 313.00h2.0v6.6h-2.0zM345.7 320.30h2.0v6.6h-2.0zM345.7 327.60h2.0v6.6h-2.0zM345.7 334.90h2.0v6.6h-2.0zM345.7 342.20h2.0v6.6h-2.0zM345.7 349.50h2.0v6.6h-2.0zM358.8 305.70h1.2v6.6h-1.2zM358.8 313.00h1.2v6.6h-1.2zM358.8 320.30h1.2v6.6h-1.2zM358.8 327.60h1.2v6.6h-1.2zM358.8 334.90h1.2v6.6h-1.2zM358.8 342.20h1.2v6.6h-1.2zM358.8 349.50h1.2v6.6h-1.2zM391.2 305.70h2.8v6.6h-2.8zM391.2 313.00h2.8v6.6h-2.8zM391.2 320.30h2.8v6.6h-2.8zM391.2 327.60h2.8v6.6h-2.8zM391.2 334.90h2.8v6.6h-2.8zM391.2 342.20h2.8v6.6h-2.8zM391.2 349.50h2.8v6.6h-2.8zM409.8 305.70h2.4v6.6h-2.4zM409.8 313.00h2.4v6.6h-2.4zM409.8 320.30h2.4v6.6h-2.4zM409.8 327.60h2.4v6.6h-2.4zM409.8 334.90h2.4v6.6h-2.4zM409.8 342.20h2.4v6.6h-2.4zM409.8 349.50h2.4v6.6h-2.4zM421.0 305.70h2.0v6.6h-2.0zM421.0 313.00h2.0v6.6h-2.0zM421.0 320.30h2.0v6.6h-2.0zM421.0 327.60h2.0v6.6h-2.0zM421.0 334.90h2.0v6.6h-2.0zM421.0 342.20h2.0v6.6h-2.0zM421.0 349.50h2.0v6.6h-2.0zM429.9 305.70h1.0v6.6h-1.0zM429.9 313.00h1.0v6.6h-1.0zM429.9 320.30h1.0v6.6h-1.0zM429.9 327.60h1.0v6.6h-1.0zM429.9 334.90h1.0v6.6h-1.0zM429.9 342.20h1.0v6.6h-1.0zM429.9 349.50h1.0v6.6h-1.0zM432.9 305.70h2.0v6.6h-2.0zM432.9 313.00h2.0v6.6h-2.0zM432.9 320.30h2.0v6.6h-2.0zM432.9 327.60h2.0v6.6h-2.0zM432.9 334.90h2.0v6.6h-2.0zM432.9 342.20h2.0v6.6h-2.0zM432.9 349.50h2.0v6.6h-2.0zM441.7 305.70h2.0v6.6h-2.0zM441.7 313.00h2.0v6.6h-2.0zM441.7 320.30h2.0v6.6h-2.0zM441.7 327.60h2.0v6.6h-2.0zM441.7 334.90h2.0v6.6h-2.0zM441.7 342.20h2.0v6.6h-2.0zM441.7 349.50h2.0v6.6h-2.0zM444.9 305.70h2.0v6.6h-2.0zM444.9 313.00h2.0v6.6h-2.0zM444.9 320.30h2.0v6.6h-2.0zM444.9 327.60h2.0v6.6h-2.0zM444.9 334.90h2.0v6.6h-2.0zM444.9 342.20h2.0v6.6h-2.0zM444.9 349.50h2.0v6.6h-2.0zM468.0 305.70h1.2v6.6h-1.2zM468.0 313.00h1.2v6.6h-1.2zM468.0 320.30h1.2v6.6h-1.2zM468.0 327.60h1.2v6.6h-1.2zM468.0 334.90h1.2v6.6h-1.2zM468.0 342.20h1.2v6.6h-1.2zM468.0 349.50h1.2v6.6h-1.2zM518.5 305.70h2.0v6.6h-2.0zM518.5 313.00h2.0v6.6h-2.0zM518.5 320.30h2.0v6.6h-2.0zM518.5 327.60h2.0v6.6h-2.0zM518.5 334.90h2.0v6.6h-2.0zM518.5 342.20h2.0v6.6h-2.0zM518.5 349.50h2.0v6.6h-2.0zM529.9 305.70h1.4v6.6h-1.4zM529.9 313.00h1.4v6.6h-1.4zM529.9 320.30h1.4v6.6h-1.4zM529.9 327.60h1.4v6.6h-1.4zM529.9 334.90h1.4v6.6h-1.4zM529.9 342.20h1.4v6.6h-1.4zM529.9 349.50h1.4v6.6h-1.4zM548.0 305.70h1.2v6.6h-1.2zM548.0 313.00h1.2v6.6h-1.2zM548.0 320.30h1.2v6.6h-1.2zM548.0 327.60h1.2v6.6h-1.2zM548.0 334.90h1.2v6.6h-1.2zM548.0 342.20h1.2v6.6h-1.2zM548.0 349.50h1.2v6.6h-1.2zM556.1 305.70h2.0v6.6h-2.0zM556.1 313.00h2.0v6.6h-2.0zM556.1 320.30h2.0v6.6h-2.0zM556.1 327.60h2.0v6.6h-2.0zM556.1 334.90h2.0v6.6h-2.0zM556.1 342.20h2.0v6.6h-2.0zM556.1 349.50h2.0v6.6h-2.0zM563.6 305.70h2.0v6.6h-2.0zM563.6 313.00h2.0v6.6h-2.0zM563.6 320.30h2.0v6.6h-2.0zM563.6 327.60h2.0v6.6h-2.0zM563.6 334.90h2.0v6.6h-2.0zM563.6 342.20h2.0v6.6h-2.0zM563.6 349.50h2.0v6.6h-2.0zM573.3 305.70h2.0v6.6h-2.0zM573.3 313.00h2.0v6.6h-2.0zM573.3 320.30h2.0v6.6h-2.0zM573.3 327.60h2.0v6.6h-2.0zM573.3 334.90h2.0v6.6h-2.0zM573.3 342.20h2.0v6.6h-2.0zM573.3 349.50h2.0v6.6h-2.0zM599.0 305.70h1.2v6.6h-1.2zM599.0 313.00h1.2v6.6h-1.2zM599.0 320.30h1.2v6.6h-1.2zM599.0 327.60h1.2v6.6h-1.2zM599.0 334.90h1.2v6.6h-1.2zM599.0 342.20h1.2v6.6h-1.2zM599.0 349.50h1.2v6.6h-1.2zM599.0 356.80h1.2v6.6h-1.2zM622.0 305.70h2.0v6.6h-2.0zM622.0 313.00h2.0v6.6h-2.0zM622.0 320.30h2.0v6.6h-2.0zM622.0 327.60h2.0v6.6h-2.0zM622.0 334.90h2.0v6.6h-2.0zM622.0 342.20h2.0v6.6h-2.0zM622.0 349.50h2.0v6.6h-2.0zM622.0 356.80h2.0v6.6h-2.0zM633.7 305.70h1.2v6.6h-1.2zM633.7 313.00h1.2v6.6h-1.2zM633.7 320.30h1.2v6.6h-1.2zM633.7 327.60h1.2v6.6h-1.2zM633.7 334.90h1.2v6.6h-1.2zM633.7 342.20h1.2v6.6h-1.2zM633.7 349.50h1.2v6.6h-1.2zM633.7 356.80h1.2v6.6h-1.2zM647.0 305.70h1.6v6.6h-1.6zM647.0 313.00h1.6v6.6h-1.6zM647.0 320.30h1.6v6.6h-1.6zM647.0 327.60h1.6v6.6h-1.6zM647.0 334.90h1.6v6.6h-1.6zM647.0 342.20h1.6v6.6h-1.6zM647.0 349.50h1.6v6.6h-1.6zM647.0 356.80h1.6v6.6h-1.6zM655.6 305.70h2.0v6.6h-2.0zM655.6 313.00h2.0v6.6h-2.0zM655.6 320.30h2.0v6.6h-2.0zM655.6 327.60h2.0v6.6h-2.0zM655.6 334.90h2.0v6.6h-2.0zM655.6 342.20h2.0v6.6h-2.0zM655.6 349.50h2.0v6.6h-2.0zM655.6 356.80h2.0v6.6h-2.0z" fill="#0A0A80"/>
<path d="M669.0 309.00l1.2-2.2h2v4.4h-2zM669.0 316.30l1.2-2.2h2v4.4h-2zM669.0 323.60l1.2-2.2h2v4.4h-2zM669.0 330.90l1.2-2.2h2v4.4h-2zM669.0 338.20l1.2-2.2h2v4.4h-2zM669.0 345.50l1.2-2.2h2v4.4h-2zM669.0 352.80l1.2-2.2h2v4.4h-2zM669.0 360.10l1.2-2.2h2v4.4h-2z" fill="#0A0A80"/>
<rect x="572.8" y="357.40" width="2.6" height="5.4" rx="0.8" fill="#0A0A80"/>
<rect x="291.4" y="342" width="3.1" height="6.8" fill="#F01818"/>
<rect x="283.2" y="334.2" width="19.2" height="24.9" fill="none" stroke="#6DB33F" stroke-width="1.7"/>
<path d="M141.50 362.70000000000005V430.22M147.25 362.70000000000005V430.22M153.00 362.70000000000005V430.22M158.75 362.70000000000005V430.22M164.50 362.70000000000005V430.22M170.25 362.70000000000005V430.22M176.00 362.70000000000005V430.22M181.75 362.70000000000005V430.22M187.50 362.70000000000005V430.22M193.25 362.70000000000005V430.22M199.00 362.70000000000005V430.22M204.75 362.70000000000005V430.22M210.50 362.70000000000005V430.22M216.25 362.70000000000005V430.22M222.00 362.70000000000005V430.22M227.75 362.70000000000005V430.22" stroke="#DEDEF4" stroke-width="0.9" fill="none"/>
<line x1="139" y1="370.10" x2="231" y2="370.10" stroke="#3A3A98" stroke-width="1.1" stroke-opacity="0.7"/>
<path d="M140.50 370.10l1.6-1.6v3.2zm4.0 0l1.6-1.6v3.2zm4.0 0l1.6-1.6v3.2zm4.0 0l1.6-1.6v3.2zm4.0 0l1.6-1.6v3.2zm4.0 0l1.6-1.6v3.2zm4.0 0l1.6-1.6v3.2zm4.0 0l1.6-1.6v3.2zm4.0 0l1.6-1.6v3.2zm4.0 0l1.6-1.6v3.2zm4.0 0l1.6-1.6v3.2zm4.0 0l1.6-1.6v3.2zm4.0 0l1.6-1.6v3.2zm4.0 0l1.6-1.6v3.2zm4.0 0l1.6-1.6v3.2zm4.0 0l1.6-1.6v3.2zm4.0 0l1.6-1.6v3.2zm4.0 0l1.6-1.6v3.2zm4.0 0l1.6-1.6v3.2zm4.0 0l1.6-1.6v3.2zm4.0 0l1.6-1.6v3.2zm4.0 0l1.6-1.6v3.2zm4.0 0l1.6-1.6v3.2z" fill="#3A3A98" fill-opacity="0.65"/>
<line x1="139" y1="379.22" x2="231" y2="379.22" stroke="#3A3A98" stroke-width="1.1" stroke-opacity="0.7"/>
<path d="M140.50 379.22l1.6-1.6v3.2zm4.0 0l1.6-1.6v3.2zm4.0 0l1.6-1.6v3.2zm4.0 0l1.6-1.6v3.2zm4.0 0l1.6-1.6v3.2zm4.0 0l1.6-1.6v3.2zm4.0 0l1.6-1.6v3.2zm4.0 0l1.6-1.6v3.2zm4.0 0l1.6-1.6v3.2zm4.0 0l1.6-1.6v3.2zm4.0 0l1.6-1.6v3.2zm4.0 0l1.6-1.6v3.2zm4.0 0l1.6-1.6v3.2zm4.0 0l1.6-1.6v3.2zm4.0 0l1.6-1.6v3.2zm4.0 0l1.6-1.6v3.2zm4.0 0l1.6-1.6v3.2zm4.0 0l1.6-1.6v3.2zm4.0 0l1.6-1.6v3.2zm4.0 0l1.6-1.6v3.2zm4.0 0l1.6-1.6v3.2zm4.0 0l1.6-1.6v3.2zm4.0 0l1.6-1.6v3.2z" fill="#3A3A98" fill-opacity="0.65"/>
<line x1="139" y1="388.34" x2="231" y2="388.34" stroke="#3A3A98" stroke-width="1.1" stroke-opacity="0.7"/>
<path d="M140.50 388.34l1.6-1.6v3.2zm4.0 0l1.6-1.6v3.2zm4.0 0l1.6-1.6v3.2zm4.0 0l1.6-1.6v3.2zm4.0 0l1.6-1.6v3.2zm4.0 0l1.6-1.6v3.2zm4.0 0l1.6-1.6v3.2zm4.0 0l1.6-1.6v3.2zm4.0 0l1.6-1.6v3.2zm4.0 0l1.6-1.6v3.2zm4.0 0l1.6-1.6v3.2zm4.0 0l1.6-1.6v3.2zm4.0 0l1.6-1.6v3.2zm4.0 0l1.6-1.6v3.2zm4.0 0l1.6-1.6v3.2zm4.0 0l1.6-1.6v3.2zm4.0 0l1.6-1.6v3.2zm4.0 0l1.6-1.6v3.2zm4.0 0l1.6-1.6v3.2zm4.0 0l1.6-1.6v3.2zm4.0 0l1.6-1.6v3.2zm4.0 0l1.6-1.6v3.2zm4.0 0l1.6-1.6v3.2z" fill="#3A3A98" fill-opacity="0.65"/>
<line x1="139" y1="397.46" x2="231" y2="397.46" stroke="#3A3A98" stroke-width="1.1" stroke-opacity="0.7"/>
<path d="M140.50 397.46l1.6-1.6v3.2zm4.0 0l1.6-1.6v3.2zm4.0 0l1.6-1.6v3.2zm4.0 0l1.6-1.6v3.2zm4.0 0l1.6-1.6v3.2zm4.0 0l1.6-1.6v3.2zm4.0 0l1.6-1.6v3.2zm4.0 0l1.6-1.6v3.2zm4.0 0l1.6-1.6v3.2zm4.0 0l1.6-1.6v3.2zm4.0 0l1.6-1.6v3.2zm4.0 0l1.6-1.6v3.2zm4.0 0l1.6-1.6v3.2zm4.0 0l1.6-1.6v3.2zm4.0 0l1.6-1.6v3.2zm4.0 0l1.6-1.6v3.2zm4.0 0l1.6-1.6v3.2zm4.0 0l1.6-1.6v3.2zm4.0 0l1.6-1.6v3.2zm4.0 0l1.6-1.6v3.2zm4.0 0l1.6-1.6v3.2zm4.0 0l1.6-1.6v3.2zm4.0 0l1.6-1.6v3.2z" fill="#3A3A98" fill-opacity="0.65"/>
<line x1="139" y1="406.58" x2="231" y2="406.58" stroke="#3A3A98" stroke-width="1.1" stroke-opacity="0.7"/>
<path d="M140.50 406.58l1.6-1.6v3.2zm4.0 0l1.6-1.6v3.2zm4.0 0l1.6-1.6v3.2zm4.0 0l1.6-1.6v3.2zm4.0 0l1.6-1.6v3.2zm4.0 0l1.6-1.6v3.2zm4.0 0l1.6-1.6v3.2zm4.0 0l1.6-1.6v3.2zm4.0 0l1.6-1.6v3.2zm4.0 0l1.6-1.6v3.2zm4.0 0l1.6-1.6v3.2zm4.0 0l1.6-1.6v3.2zm4.0 0l1.6-1.6v3.2zm4.0 0l1.6-1.6v3.2zm4.0 0l1.6-1.6v3.2zm4.0 0l1.6-1.6v3.2zm4.0 0l1.6-1.6v3.2zm4.0 0l1.6-1.6v3.2zm4.0 0l1.6-1.6v3.2zm4.0 0l1.6-1.6v3.2zm4.0 0l1.6-1.6v3.2zm4.0 0l1.6-1.6v3.2zm4.0 0l1.6-1.6v3.2z" fill="#3A3A98" fill-opacity="0.65"/>
<line x1="139" y1="415.70" x2="231" y2="415.70" stroke="#3A3A98" stroke-width="1.1" stroke-opacity="0.7"/>
<path d="M140.50 415.70l1.6-1.6v3.2zm4.0 0l1.6-1.6v3.2zm4.0 0l1.6-1.6v3.2zm4.0 0l1.6-1.6v3.2zm4.0 0l1.6-1.6v3.2zm4.0 0l1.6-1.6v3.2zm4.0 0l1.6-1.6v3.2zm4.0 0l1.6-1.6v3.2zm4.0 0l1.6-1.6v3.2zm4.0 0l1.6-1.6v3.2zm4.0 0l1.6-1.6v3.2zm4.0 0l1.6-1.6v3.2zm4.0 0l1.6-1.6v3.2zm4.0 0l1.6-1.6v3.2zm4.0 0l1.6-1.6v3.2zm4.0 0l1.6-1.6v3.2zm4.0 0l1.6-1.6v3.2zm4.0 0l1.6-1.6v3.2zm4.0 0l1.6-1.6v3.2zm4.0 0l1.6-1.6v3.2zm4.0 0l1.6-1.6v3.2zm4.0 0l1.6-1.6v3.2zm4.0 0l1.6-1.6v3.2z" fill="#3A3A98" fill-opacity="0.65"/>
<line x1="139" y1="424.82" x2="231" y2="424.82" stroke="#3A3A98" stroke-width="1.1" stroke-opacity="0.7"/>
<path d="M140.50 424.82l1.6-1.6v3.2zm4.0 0l1.6-1.6v3.2zm4.0 0l1.6-1.6v3.2zm4.0 0l1.6-1.6v3.2zm4.0 0l1.6-1.6v3.2zm4.0 0l1.6-1.6v3.2zm4.0 0l1.6-1.6v3.2zm4.0 0l1.6-1.6v3.2zm4.0 0l1.6-1.6v3.2zm4.0 0l1.6-1.6v3.2zm4.0 0l1.6-1.6v3.2zm4.0 0l1.6-1.6v3.2zm4.0 0l1.6-1.6v3.2zm4.0 0l1.6-1.6v3.2zm4.0 0l1.6-1.6v3.2zm4.0 0l1.6-1.6v3.2zm4.0 0l1.6-1.6v3.2zm4.0 0l1.6-1.6v3.2zm4.0 0l1.6-1.6v3.2zm4.0 0l1.6-1.6v3.2zm4.0 0l1.6-1.6v3.2zm4.0 0l1.6-1.6v3.2zm4.0 0l1.6-1.6v3.2z" fill="#3A3A98" fill-opacity="0.65"/>
<rect x="141.8" y="365.70" width="5.00" height="63.52" fill="#0A0A80"/>
<line x1="141.8" y1="374.66" x2="146.8" y2="374.66" stroke="#5A5AB0" stroke-width="0.9"/>
<line x1="141.8" y1="383.78" x2="146.8" y2="383.78" stroke="#5A5AB0" stroke-width="0.9"/>
<line x1="141.8" y1="392.90" x2="146.8" y2="392.90" stroke="#5A5AB0" stroke-width="0.9"/>
<line x1="141.8" y1="402.02" x2="146.8" y2="402.02" stroke="#5A5AB0" stroke-width="0.9"/>
<line x1="141.8" y1="411.14" x2="146.8" y2="411.14" stroke="#5A5AB0" stroke-width="0.9"/>
<line x1="141.8" y1="420.26" x2="146.8" y2="420.26" stroke="#5A5AB0" stroke-width="0.9"/>
<rect x="222.9" y="365.70" width="5.20" height="63.52" fill="#0A0A80"/>
<line x1="222.9" y1="374.66" x2="228.1" y2="374.66" stroke="#5A5AB0" stroke-width="0.9"/>
<line x1="222.9" y1="383.78" x2="228.1" y2="383.78" stroke="#5A5AB0" stroke-width="0.9"/>
<line x1="222.9" y1="392.90" x2="228.1" y2="392.90" stroke="#5A5AB0" stroke-width="0.9"/>
<line x1="222.9" y1="402.02" x2="228.1" y2="402.02" stroke="#5A5AB0" stroke-width="0.9"/>
<line x1="222.9" y1="411.14" x2="228.1" y2="411.14" stroke="#5A5AB0" stroke-width="0.9"/>
<line x1="222.9" y1="420.26" x2="228.1" y2="420.26" stroke="#5A5AB0" stroke-width="0.9"/>
<rect x="176.8" y="365.7" width="7.10" height="8.70" fill="#0A0A80"/>
<rect x="171.6" y="359.9" width="18.40" height="24.20" fill="none" stroke="#74B44E" stroke-width="1.1"/>
<text x="157.6" y="452.8" font-family='"Liberation Sans", sans-serif' font-size="10.2" fill="#111" text-anchor="start" font-weight="normal" font-style="normal" textLength="55.4" lengthAdjust="spacingAndGlyphs" >Spiny mouse</text>
<path d="M249.90 362.40000000000003V439.88M255.65 362.40000000000003V439.88M261.40 362.40000000000003V439.88M267.15 362.40000000000003V439.88M272.90 362.40000000000003V439.88M278.65 362.40000000000003V439.88M284.40 362.40000000000003V439.88M290.15 362.40000000000003V439.88M295.90 362.40000000000003V439.88M301.65 362.40000000000003V439.88M307.40 362.40000000000003V439.88M313.15 362.40000000000003V439.88M318.90 362.40000000000003V439.88M324.65 362.40000000000003V439.88M330.40 362.40000000000003V439.88M336.15 362.40000000000003V439.88M341.90 362.40000000000003V439.88" stroke="#DEDEF4" stroke-width="0.9" fill="none"/>
<line x1="247.4" y1="369.80" x2="343.6" y2="369.80" stroke="#3A3A98" stroke-width="1.1" stroke-opacity="0.7"/>
<path d="M248.90 369.80l1.6-1.6v3.2zm4.0 0l1.6-1.6v3.2zm4.0 0l1.6-1.6v3.2zm4.0 0l1.6-1.6v3.2zm4.0 0l1.6-1.6v3.2zm4.0 0l1.6-1.6v3.2zm4.0 0l1.6-1.6v3.2zm4.0 0l1.6-1.6v3.2zm4.0 0l1.6-1.6v3.2zm4.0 0l1.6-1.6v3.2zm4.0 0l1.6-1.6v3.2zm4.0 0l1.6-1.6v3.2zm4.0 0l1.6-1.6v3.2zm4.0 0l1.6-1.6v3.2zm4.0 0l1.6-1.6v3.2zm4.0 0l1.6-1.6v3.2zm4.0 0l1.6-1.6v3.2zm4.0 0l1.6-1.6v3.2zm4.0 0l1.6-1.6v3.2zm4.0 0l1.6-1.6v3.2zm4.0 0l1.6-1.6v3.2zm4.0 0l1.6-1.6v3.2zm4.0 0l1.6-1.6v3.2zm4.0 0l1.6-1.6v3.2z" fill="#3A3A98" fill-opacity="0.65"/>
<line x1="247.4" y1="379.04" x2="343.6" y2="379.04" stroke="#3A3A98" stroke-width="1.1" stroke-opacity="0.7"/>
<path d="M248.90 379.04l1.6-1.6v3.2zm4.0 0l1.6-1.6v3.2zm4.0 0l1.6-1.6v3.2zm4.0 0l1.6-1.6v3.2zm4.0 0l1.6-1.6v3.2zm4.0 0l1.6-1.6v3.2zm4.0 0l1.6-1.6v3.2zm4.0 0l1.6-1.6v3.2zm4.0 0l1.6-1.6v3.2zm4.0 0l1.6-1.6v3.2zm4.0 0l1.6-1.6v3.2zm4.0 0l1.6-1.6v3.2zm4.0 0l1.6-1.6v3.2zm4.0 0l1.6-1.6v3.2zm4.0 0l1.6-1.6v3.2zm4.0 0l1.6-1.6v3.2zm4.0 0l1.6-1.6v3.2zm4.0 0l1.6-1.6v3.2zm4.0 0l1.6-1.6v3.2zm4.0 0l1.6-1.6v3.2zm4.0 0l1.6-1.6v3.2zm4.0 0l1.6-1.6v3.2zm4.0 0l1.6-1.6v3.2zm4.0 0l1.6-1.6v3.2z" fill="#3A3A98" fill-opacity="0.65"/>
<line x1="247.4" y1="388.28" x2="343.6" y2="388.28" stroke="#3A3A98" stroke-width="1.1" stroke-opacity="0.7"/>
<path d="M248.90 388.28l1.6-1.6v3.2zm4.0 0l1.6-1.6v3.2zm4.0 0l1.6-1.6v3.2zm4.0 0l1.6-1.6v3.2zm4.0 0l1.6-1.6v3.2zm4.0 0l1.6-1.6v3.2zm4.0 0l1.6-1.6v3.2zm4.0 0l1.6-1.6v3.2zm4.0 0l1.6-1.6v3.2zm4.0 0l1.6-1.6v3.2zm4.0 0l1.6-1.6v3.2zm4.0 0l1.6-1.6v3.2zm4.0 0l1.6-1.6v3.2zm4.0 0l1.6-1.6v3.2zm4.0 0l1.6-1.6v3.2zm4.0 0l1.6-1.6v3.2zm4.0 0l1.6-1.6v3.2zm4.0 0l1.6-1.6v3.2zm4.0 0l1.6-1.6v3.2zm4.0 0l1.6-1.6v3.2zm4.0 0l1.6-1.6v3.2zm4.0 0l1.6-1.6v3.2zm4.0 0l1.6-1.6v3.2zm4.0 0l1.6-1.6v3.2z" fill="#3A3A98" fill-opacity="0.65"/>
<line x1="247.4" y1="397.52" x2="343.6" y2="397.52" stroke="#3A3A98" stroke-width="1.1" stroke-opacity="0.7"/>
<path d="M248.90 397.52l1.6-1.6v3.2zm4.0 0l1.6-1.6v3.2zm4.0 0l1.6-1.6v3.2zm4.0 0l1.6-1.6v3.2zm4.0 0l1.6-1.6v3.2zm4.0 0l1.6-1.6v3.2zm4.0 0l1.6-1.6v3.2zm4.0 0l1.6-1.6v3.2zm4.0 0l1.6-1.6v3.2zm4.0 0l1.6-1.6v3.2zm4.0 0l1.6-1.6v3.2zm4.0 0l1.6-1.6v3.2zm4.0 0l1.6-1.6v3.2zm4.0 0l1.6-1.6v3.2zm4.0 0l1.6-1.6v3.2zm4.0 0l1.6-1.6v3.2zm4.0 0l1.6-1.6v3.2zm4.0 0l1.6-1.6v3.2zm4.0 0l1.6-1.6v3.2zm4.0 0l1.6-1.6v3.2zm4.0 0l1.6-1.6v3.2zm4.0 0l1.6-1.6v3.2zm4.0 0l1.6-1.6v3.2zm4.0 0l1.6-1.6v3.2z" fill="#3A3A98" fill-opacity="0.65"/>
<line x1="247.4" y1="406.76" x2="343.6" y2="406.76" stroke="#3A3A98" stroke-width="1.1" stroke-opacity="0.7"/>
<path d="M248.90 406.76l1.6-1.6v3.2zm4.0 0l1.6-1.6v3.2zm4.0 0l1.6-1.6v3.2zm4.0 0l1.6-1.6v3.2zm4.0 0l1.6-1.6v3.2zm4.0 0l1.6-1.6v3.2zm4.0 0l1.6-1.6v3.2zm4.0 0l1.6-1.6v3.2zm4.0 0l1.6-1.6v3.2zm4.0 0l1.6-1.6v3.2zm4.0 0l1.6-1.6v3.2zm4.0 0l1.6-1.6v3.2zm4.0 0l1.6-1.6v3.2zm4.0 0l1.6-1.6v3.2zm4.0 0l1.6-1.6v3.2zm4.0 0l1.6-1.6v3.2zm4.0 0l1.6-1.6v3.2zm4.0 0l1.6-1.6v3.2zm4.0 0l1.6-1.6v3.2zm4.0 0l1.6-1.6v3.2zm4.0 0l1.6-1.6v3.2zm4.0 0l1.6-1.6v3.2zm4.0 0l1.6-1.6v3.2zm4.0 0l1.6-1.6v3.2z" fill="#3A3A98" fill-opacity="0.65"/>
<line x1="247.4" y1="416.00" x2="343.6" y2="416.00" stroke="#3A3A98" stroke-width="1.1" stroke-opacity="0.7"/>
<path d="M248.90 416.00l1.6-1.6v3.2zm4.0 0l1.6-1.6v3.2zm4.0 0l1.6-1.6v3.2zm4.0 0l1.6-1.6v3.2zm4.0 0l1.6-1.6v3.2zm4.0 0l1.6-1.6v3.2zm4.0 0l1.6-1.6v3.2zm4.0 0l1.6-1.6v3.2zm4.0 0l1.6-1.6v3.2zm4.0 0l1.6-1.6v3.2zm4.0 0l1.6-1.6v3.2zm4.0 0l1.6-1.6v3.2zm4.0 0l1.6-1.6v3.2zm4.0 0l1.6-1.6v3.2zm4.0 0l1.6-1.6v3.2zm4.0 0l1.6-1.6v3.2zm4.0 0l1.6-1.6v3.2zm4.0 0l1.6-1.6v3.2zm4.0 0l1.6-1.6v3.2zm4.0 0l1.6-1.6v3.2zm4.0 0l1.6-1.6v3.2zm4.0 0l1.6-1.6v3.2zm4.0 0l1.6-1.6v3.2zm4.0 0l1.6-1.6v3.2z" fill="#3A3A98" fill-opacity="0.65"/>
<line x1="247.4" y1="425.24" x2="343.6" y2="425.24" stroke="#3A3A98" stroke-width="1.1" stroke-opacity="0.7"/>
<path d="M248.90 425.24l1.6-1.6v3.2zm4.0 0l1.6-1.6v3.2zm4.0 0l1.6-1.6v3.2zm4.0 0l1.6-1.6v3.2zm4.0 0l1.6-1.6v3.2zm4.0 0l1.6-1.6v3.2zm4.0 0l1.6-1.6v3.2zm4.0 0l1.6-1.6v3.2zm4.0 0l1.6-1.6v3.2zm4.0 0l1.6-1.6v3.2zm4.0 0l1.6-1.6v3.2zm4.0 0l1.6-1.6v3.2zm4.0 0l1.6-1.6v3.2zm4.0 0l1.6-1.6v3.2zm4.0 0l1.6-1.6v3.2zm4.0 0l1.6-1.6v3.2zm4.0 0l1.6-1.6v3.2zm4.0 0l1.6-1.6v3.2zm4.0 0l1.6-1.6v3.2zm4.0 0l1.6-1.6v3.2zm4.0 0l1.6-1.6v3.2zm4.0 0l1.6-1.6v3.2zm4.0 0l1.6-1.6v3.2zm4.0 0l1.6-1.6v3.2z" fill="#3A3A98" fill-opacity="0.65"/>
<line x1="247.4" y1="434.48" x2="343.6" y2="434.48" stroke="#3A3A98" stroke-width="1.1" stroke-opacity="0.7"/>
<path d="M248.90 434.48l1.6-1.6v3.2zm4.0 0l1.6-1.6v3.2zm4.0 0l1.6-1.6v3.2zm4.0 0l1.6-1.6v3.2zm4.0 0l1.6-1.6v3.2zm4.0 0l1.6-1.6v3.2zm4.0 0l1.6-1.6v3.2zm4.0 0l1.6-1.6v3.2zm4.0 0l1.6-1.6v3.2zm4.0 0l1.6-1.6v3.2zm4.0 0l1.6-1.6v3.2zm4.0 0l1.6-1.6v3.2zm4.0 0l1.6-1.6v3.2zm4.0 0l1.6-1.6v3.2zm4.0 0l1.6-1.6v3.2zm4.0 0l1.6-1.6v3.2zm4.0 0l1.6-1.6v3.2zm4.0 0l1.6-1.6v3.2zm4.0 0l1.6-1.6v3.2zm4.0 0l1.6-1.6v3.2zm4.0 0l1.6-1.6v3.2zm4.0 0l1.6-1.6v3.2zm4.0 0l1.6-1.6v3.2zm4.0 0l1.6-1.6v3.2z" fill="#3A3A98" fill-opacity="0.65"/>
<rect x="251.6" y="365.40" width="5.30" height="73.48" fill="#0A0A80"/>
<line x1="251.6" y1="374.42" x2="256.9" y2="374.42" stroke="#5A5AB0" stroke-width="0.9"/>
<line x1="251.6" y1="383.66" x2="256.9" y2="383.66" stroke="#5A5AB0" stroke-width="0.9"/>
<line x1="251.6" y1="392.90" x2="256.9" y2="392.90" stroke="#5A5AB0" stroke-width="0.9"/>
<line x1="251.6" y1="402.14" x2="256.9" y2="402.14" stroke="#5A5AB0" stroke-width="0.9"/>
<line x1="251.6" y1="411.38" x2="256.9" y2="411.38" stroke="#5A5AB0" stroke-width="0.9"/>
<line x1="251.6" y1="420.62" x2="256.9" y2="420.62" stroke="#5A5AB0" stroke-width="0.9"/>
<line x1="251.6" y1="429.86" x2="256.9" y2="429.86" stroke="#5A5AB0" stroke-width="0.9"/>
<rect x="336.2" y="365.40" width="5.70" height="73.48" fill="#0A0A80"/>
<line x1="336.2" y1="374.42" x2="341.9" y2="374.42" stroke="#5A5AB0" stroke-width="0.9"/>
<line x1="336.2" y1="383.66" x2="341.9" y2="383.66" stroke="#5A5AB0" stroke-width="0.9"/>
<line x1="336.2" y1="392.90" x2="341.9" y2="392.90" stroke="#5A5AB0" stroke-width="0.9"/>
<line x1="336.2" y1="402.14" x2="341.9" y2="402.14" stroke="#5A5AB0" stroke-width="0.9"/>
<line x1="336.2" y1="411.38" x2="341.9" y2="411.38" stroke="#5A5AB0" stroke-width="0.9"/>
<line x1="336.2" y1="420.62" x2="341.9" y2="420.62" stroke="#5A5AB0" stroke-width="0.9"/>
<line x1="336.2" y1="429.86" x2="341.9" y2="429.86" stroke="#5A5AB0" stroke-width="0.9"/>
<rect x="290.3" y="366.2" width="8.50" height="8.50" fill="#0A0A80"/>
<rect x="290.3" y="430.3" width="8.50" height="8.40" fill="#0A0A80"/>
<rect x="285.5" y="361.9" width="18.50" height="81.00" fill="none" stroke="#74B44E" stroke-width="1.1"/>
<text x="263.3" y="451.8" font-family='"Liberation Sans", sans-serif' font-size="10.2" fill="#111" text-anchor="start" font-weight="normal" font-style="normal" textLength="69.7" lengthAdjust="spacingAndGlyphs" >Golden hamster</text>
<path d="M360.70 363.20000000000005V440.61M366.45 363.20000000000005V440.61M372.20 363.20000000000005V440.61M377.95 363.20000000000005V440.61M383.70 363.20000000000005V440.61M389.45 363.20000000000005V440.61M395.20 363.20000000000005V440.61M400.95 363.20000000000005V440.61M406.70 363.20000000000005V440.61M412.45 363.20000000000005V440.61M418.20 363.20000000000005V440.61M423.95 363.20000000000005V440.61M429.70 363.20000000000005V440.61M435.45 363.20000000000005V440.61M441.20 363.20000000000005V440.61M446.95 363.20000000000005V440.61M452.70 363.20000000000005V440.61M458.45 363.20000000000005V440.61M464.20 363.20000000000005V440.61" stroke="#DEDEF4" stroke-width="0.9" fill="none"/>
<line x1="358.2" y1="370.60" x2="467.9" y2="370.60" stroke="#3A3A98" stroke-width="1.1" stroke-opacity="0.7"/>
<path d="M359.70 370.60l1.6-1.6v3.2zm4.0 0l1.6-1.6v3.2zm4.0 0l1.6-1.6v3.2zm4.0 0l1.6-1.6v3.2zm4.0 0l1.6-1.6v3.2zm4.0 0l1.6-1.6v3.2zm4.0 0l1.6-1.6v3.2zm4.0 0l1.6-1.6v3.2zm4.0 0l1.6-1.6v3.2zm4.0 0l1.6-1.6v3.2zm4.0 0l1.6-1.6v3.2zm4.0 0l1.6-1.6v3.2zm4.0 0l1.6-1.6v3.2zm4.0 0l1.6-1.6v3.2zm4.0 0l1.6-1.6v3.2zm4.0 0l1.6-1.6v3.2zm4.0 0l1.6-1.6v3.2zm4.0 0l1.6-1.6v3.2zm4.0 0l1.6-1.6v3.2zm4.0 0l1.6-1.6v3.2zm4.0 0l1.6-1.6v3.2zm4.0 0l1.6-1.6v3.2zm4.0 0l1.6-1.6v3.2zm4.0 0l1.6-1.6v3.2zm4.0 0l1.6-1.6v3.2zm4.0 0l1.6-1.6v3.2zm4.0 0l1.6-1.6v3.2z" fill="#3A3A98" fill-opacity="0.65"/>
<line x1="358.2" y1="379.83" x2="467.9" y2="379.83" stroke="#3A3A98" stroke-width="1.1" stroke-opacity="0.7"/>
<path d="M359.70 379.83l1.6-1.6v3.2zm4.0 0l1.6-1.6v3.2zm4.0 0l1.6-1.6v3.2zm4.0 0l1.6-1.6v3.2zm4.0 0l1.6-1.6v3.2zm4.0 0l1.6-1.6v3.2zm4.0 0l1.6-1.6v3.2zm4.0 0l1.6-1.6v3.2zm4.0 0l1.6-1.6v3.2zm4.0 0l1.6-1.6v3.2zm4.0 0l1.6-1.6v3.2zm4.0 0l1.6-1.6v3.2zm4.0 0l1.6-1.6v3.2zm4.0 0l1.6-1.6v3.2zm4.0 0l1.6-1.6v3.2zm4.0 0l1.6-1.6v3.2zm4.0 0l1.6-1.6v3.2zm4.0 0l1.6-1.6v3.2zm4.0 0l1.6-1.6v3.2zm4.0 0l1.6-1.6v3.2zm4.0 0l1.6-1.6v3.2zm4.0 0l1.6-1.6v3.2zm4.0 0l1.6-1.6v3.2zm4.0 0l1.6-1.6v3.2zm4.0 0l1.6-1.6v3.2zm4.0 0l1.6-1.6v3.2zm4.0 0l1.6-1.6v3.2z" fill="#3A3A98" fill-opacity="0.65"/>
<line x1="358.2" y1="389.06" x2="467.9" y2="389.06" stroke="#3A3A98" stroke-width="1.1" stroke-opacity="0.7"/>
<path d="M359.70 389.06l1.6-1.6v3.2zm4.0 0l1.6-1.6v3.2zm4.0 0l1.6-1.6v3.2zm4.0 0l1.6-1.6v3.2zm4.0 0l1.6-1.6v3.2zm4.0 0l1.6-1.6v3.2zm4.0 0l1.6-1.6v3.2zm4.0 0l1.6-1.6v3.2zm4.0 0l1.6-1.6v3.2zm4.0 0l1.6-1.6v3.2zm4.0 0l1.6-1.6v3.2zm4.0 0l1.6-1.6v3.2zm4.0 0l1.6-1.6v3.2zm4.0 0l1.6-1.6v3.2zm4.0 0l1.6-1.6v3.2zm4.0 0l1.6-1.6v3.2zm4.0 0l1.6-1.6v3.2zm4.0 0l1.6-1.6v3.2zm4.0 0l1.6-1.6v3.2zm4.0 0l1.6-1.6v3.2zm4.0 0l1.6-1.6v3.2zm4.0 0l1.6-1.6v3.2zm4.0 0l1.6-1.6v3.2zm4.0 0l1.6-1.6v3.2zm4.0 0l1.6-1.6v3.2zm4.0 0l1.6-1.6v3.2zm4.0 0l1.6-1.6v3.2z" fill="#3A3A98" fill-opacity="0.65"/>
<line x1="358.2" y1="398.29" x2="467.9" y2="398.29" stroke="#3A3A98" stroke-width="1.1" stroke-opacity="0.7"/>
<path d="M359.70 398.29l1.6-1.6v3.2zm4.0 0l1.6-1.6v3.2zm4.0 0l1.6-1.6v3.2zm4.0 0l1.6-1.6v3.2zm4.0 0l1.6-1.6v3.2zm4.0 0l1.6-1.6v3.2zm4.0 0l1.6-1.6v3.2zm4.0 0l1.6-1.6v3.2zm4.0 0l1.6-1.6v3.2zm4.0 0l1.6-1.6v3.2zm4.0 0l1.6-1.6v3.2zm4.0 0l1.6-1.6v3.2zm4.0 0l1.6-1.6v3.2zm4.0 0l1.6-1.6v3.2zm4.0 0l1.6-1.6v3.2zm4.0 0l1.6-1.6v3.2zm4.0 0l1.6-1.6v3.2zm4.0 0l1.6-1.6v3.2zm4.0 0l1.6-1.6v3.2zm4.0 0l1.6-1.6v3.2zm4.0 0l1.6-1.6v3.2zm4.0 0l1.6-1.6v3.2zm4.0 0l1.6-1.6v3.2zm4.0 0l1.6-1.6v3.2zm4.0 0l1.6-1.6v3.2zm4.0 0l1.6-1.6v3.2zm4.0 0l1.6-1.6v3.2z" fill="#3A3A98" fill-opacity="0.65"/>
<line x1="358.2" y1="407.52" x2="467.9" y2="407.52" stroke="#3A3A98" stroke-width="1.1" stroke-opacity="0.7"/>
<path d="M359.70 407.52l1.6-1.6v3.2zm4.0 0l1.6-1.6v3.2zm4.0 0l1.6-1.6v3.2zm4.0 0l1.6-1.6v3.2zm4.0 0l1.6-1.6v3.2zm4.0 0l1.6-1.6v3.2zm4.0 0l1.6-1.6v3.2zm4.0 0l1.6-1.6v3.2zm4.0 0l1.6-1.6v3.2zm4.0 0l1.6-1.6v3.2zm4.0 0l1.6-1.6v3.2zm4.0 0l1.6-1.6v3.2zm4.0 0l1.6-1.6v3.2zm4.0 0l1.6-1.6v3.2zm4.0 0l1.6-1.6v3.2zm4.0 0l1.6-1.6v3.2zm4.0 0l1.6-1.6v3.2zm4.0 0l1.6-1.6v3.2zm4.0 0l1.6-1.6v3.2zm4.0 0l1.6-1.6v3.2zm4.0 0l1.6-1.6v3.2zm4.0 0l1.6-1.6v3.2zm4.0 0l1.6-1.6v3.2zm4.0 0l1.6-1.6v3.2zm4.0 0l1.6-1.6v3.2zm4.0 0l1.6-1.6v3.2zm4.0 0l1.6-1.6v3.2z" fill="#3A3A98" fill-opacity="0.65"/>
<line x1="358.2" y1="416.75" x2="467.9" y2="416.75" stroke="#3A3A98" stroke-width="1.1" stroke-opacity="0.7"/>
<path d="M359.70 416.75l1.6-1.6v3.2zm4.0 0l1.6-1.6v3.2zm4.0 0l1.6-1.6v3.2zm4.0 0l1.6-1.6v3.2zm4.0 0l1.6-1.6v3.2zm4.0 0l1.6-1.6v3.2zm4.0 0l1.6-1.6v3.2zm4.0 0l1.6-1.6v3.2zm4.0 0l1.6-1.6v3.2zm4.0 0l1.6-1.6v3.2zm4.0 0l1.6-1.6v3.2zm4.0 0l1.6-1.6v3.2zm4.0 0l1.6-1.6v3.2zm4.0 0l1.6-1.6v3.2zm4.0 0l1.6-1.6v3.2zm4.0 0l1.6-1.6v3.2zm4.0 0l1.6-1.6v3.2zm4.0 0l1.6-1.6v3.2zm4.0 0l1.6-1.6v3.2zm4.0 0l1.6-1.6v3.2zm4.0 0l1.6-1.6v3.2zm4.0 0l1.6-1.6v3.2zm4.0 0l1.6-1.6v3.2zm4.0 0l1.6-1.6v3.2zm4.0 0l1.6-1.6v3.2zm4.0 0l1.6-1.6v3.2zm4.0 0l1.6-1.6v3.2z" fill="#3A3A98" fill-opacity="0.65"/>
<line x1="358.2" y1="425.98" x2="467.9" y2="425.98" stroke="#3A3A98" stroke-width="1.1" stroke-opacity="0.7"/>
<path d="M359.70 425.98l1.6-1.6v3.2zm4.0 0l1.6-1.6v3.2zm4.0 0l1.6-1.6v3.2zm4.0 0l1.6-1.6v3.2zm4.0 0l1.6-1.6v3.2zm4.0 0l1.6-1.6v3.2zm4.0 0l1.6-1.6v3.2zm4.0 0l1.6-1.6v3.2zm4.0 0l1.6-1.6v3.2zm4.0 0l1.6-1.6v3.2zm4.0 0l1.6-1.6v3.2zm4.0 0l1.6-1.6v3.2zm4.0 0l1.6-1.6v3.2zm4.0 0l1.6-1.6v3.2zm4.0 0l1.6-1.6v3.2zm4.0 0l1.6-1.6v3.2zm4.0 0l1.6-1.6v3.2zm4.0 0l1.6-1.6v3.2zm4.0 0l1.6-1.6v3.2zm4.0 0l1.6-1.6v3.2zm4.0 0l1.6-1.6v3.2zm4.0 0l1.6-1.6v3.2zm4.0 0l1.6-1.6v3.2zm4.0 0l1.6-1.6v3.2zm4.0 0l1.6-1.6v3.2zm4.0 0l1.6-1.6v3.2zm4.0 0l1.6-1.6v3.2z" fill="#3A3A98" fill-opacity="0.65"/>
<line x1="358.2" y1="435.21" x2="467.9" y2="435.21" stroke="#3A3A98" stroke-width="1.1" stroke-opacity="0.7"/>
<path d="M359.70 435.21l1.6-1.6v3.2zm4.0 0l1.6-1.6v3.2zm4.0 0l1.6-1.6v3.2zm4.0 0l1.6-1.6v3.2zm4.0 0l1.6-1.6v3.2zm4.0 0l1.6-1.6v3.2zm4.0 0l1.6-1.6v3.2zm4.0 0l1.6-1.6v3.2zm4.0 0l1.6-1.6v3.2zm4.0 0l1.6-1.6v3.2zm4.0 0l1.6-1.6v3.2zm4.0 0l1.6-1.6v3.2zm4.0 0l1.6-1.6v3.2zm4.0 0l1.6-1.6v3.2zm4.0 0l1.6-1.6v3.2zm4.0 0l1.6-1.6v3.2zm4.0 0l1.6-1.6v3.2zm4.0 0l1.6-1.6v3.2zm4.0 0l1.6-1.6v3.2zm4.0 0l1.6-1.6v3.2zm4.0 0l1.6-1.6v3.2zm4.0 0l1.6-1.6v3.2zm4.0 0l1.6-1.6v3.2zm4.0 0l1.6-1.6v3.2zm4.0 0l1.6-1.6v3.2zm4.0 0l1.6-1.6v3.2zm4.0 0l1.6-1.6v3.2z" fill="#3A3A98" fill-opacity="0.65"/>
<rect x="363.1" y="366.20" width="5.30" height="73.41" fill="#0A0A80"/>
<line x1="363.1" y1="375.22" x2="368.4" y2="375.22" stroke="#5A5AB0" stroke-width="0.9"/>
<line x1="363.1" y1="384.45" x2="368.4" y2="384.45" stroke="#5A5AB0" stroke-width="0.9"/>
<line x1="363.1" y1="393.68" x2="368.4" y2="393.68" stroke="#5A5AB0" stroke-width="0.9"/>
<line x1="363.1" y1="402.91" x2="368.4" y2="402.91" stroke="#5A5AB0" stroke-width="0.9"/>
<line x1="363.1" y1="412.13" x2="368.4" y2="412.13" stroke="#5A5AB0" stroke-width="0.9"/>
<line x1="363.1" y1="421.37" x2="368.4" y2="421.37" stroke="#5A5AB0" stroke-width="0.9"/>
<line x1="363.1" y1="430.60" x2="368.4" y2="430.60" stroke="#5A5AB0" stroke-width="0.9"/>
<rect x="458.9" y="366.20" width="5.30" height="73.41" fill="#0A0A80"/>
<line x1="458.9" y1="375.22" x2="464.2" y2="375.22" stroke="#5A5AB0" stroke-width="0.9"/>
<line x1="458.9" y1="384.45" x2="464.2" y2="384.45" stroke="#5A5AB0" stroke-width="0.9"/>
<line x1="458.9" y1="393.68" x2="464.2" y2="393.68" stroke="#5A5AB0" stroke-width="0.9"/>
<line x1="458.9" y1="402.91" x2="464.2" y2="402.91" stroke="#5A5AB0" stroke-width="0.9"/>
<line x1="458.9" y1="412.13" x2="464.2" y2="412.13" stroke="#5A5AB0" stroke-width="0.9"/>
<line x1="458.9" y1="421.37" x2="464.2" y2="421.37" stroke="#5A5AB0" stroke-width="0.9"/>
<line x1="458.9" y1="430.60" x2="464.2" y2="430.60" stroke="#5A5AB0" stroke-width="0.9"/>
<rect x="412.1" y="376" width="7.70" height="8.30" fill="#0A0A80"/>
<rect x="412.1" y="430.6" width="7.70" height="8.50" fill="#0A0A80"/>
<rect x="407.2" y="369.0" width="17.90" height="74.20" fill="none" stroke="#74B44E" stroke-width="1.1"/>
<text x="397.3" y="452" font-family='"Liberation Sans", sans-serif' font-size="10.2" fill="#111" text-anchor="start" font-weight="normal" font-style="normal" textLength="22.1" lengthAdjust="spacingAndGlyphs" >Degu</text>
<text x="212.7" y="485.8" font-family='"Liberation Sans", sans-serif' font-size="10.5" fill="#000" textLength="169.8" lengthAdjust="spacingAndGlyphs"><tspan font-style="italic">Bmal1</tspan> : chr7: 112882464 – 112882502</text>
<path d="M28.50 494V528M34.09 494V528M39.68 494V528M45.27 494V528M50.86 494V528M56.45 494V528M62.04 494V528M67.63 494V528M73.22 494V528M78.81 494V528M84.40 494V528M89.99 494V528M95.58 494V528M101.17 494V528M106.76 494V528M112.35 494V528M117.94 494V528M123.53 494V528M129.12 494V528M134.71 494V528M140.30 494V528M145.89 494V528M151.48 494V528M157.07 494V528M162.66 494V528M168.25 494V528M173.84 494V528M179.43 494V528M185.02 494V528M190.61 494V528M196.20 494V528M201.79 494V528M207.38 494V528M212.97 494V528M218.56 494V528M224.15 494V528M229.74 494V528M235.33 494V528M240.92 494V528M246.51 494V528M252.10 494V528M257.69 494V528M263.28 494V528M268.87 494V528M274.46 494V528M280.05 494V528M285.64 494V528M291.23 494V528M296.82 494V528M302.41 494V528M308.00 494V528M313.59 494V528M319.18 494V528M324.77 494V528M330.36 494V528M335.95 494V528M341.54 494V528M347.13 494V528M352.72 494V528M358.31 494V528M363.90 494V528M369.49 494V528M375.08 494V528M380.67 494V528M386.26 494V528M391.85 494V528M397.44 494V528M403.03 494V528M408.62 494V528M414.21 494V528M419.80 494V528M425.39 494V528M430.98 494V528M436.57 494V528M442.16 494V528M447.75 494V528M453.34 494V528M458.93 494V528M464.52 494V528M470.11 494V528M475.70 494V528M481.29 494V528M486.88 494V528M492.47 494V528M498.06 494V528M503.65 494V528M509.24 494V528M514.83 494V528M520.42 494V528M526.01 494V528M531.60 494V528M537.19 494V528M542.78 494V528M548.37 494V528M553.96 494V528M559.55 494V528M565.14 494V528M570.73 494V528M576.32 494V528M581.91 494V528M587.50 494V528M593.09 494V528M598.68 494V528M604.27 494V528M609.86 494V528M615.45 494V528M621.04 494V528M626.63 494V528M632.22 494V528M637.81 494V528M643.40 494V528M648.99 494V528M654.58 494V528M660.17 494V528M665.76 494V528M671.35 494V528M676.94 494V528" stroke="#EDEDFA" stroke-width="0.8" fill="none"/>
<line x1="22.6" y1="496.6" x2="22.6" y2="528" stroke="#F8CCB0" stroke-width="0.9"/>
<line x1="23.4" y1="501.20" x2="679" y2="501.20" stroke="#2A2A90" stroke-width="0.9" stroke-opacity="0.55"/>
<path d="M29.40 501.20l-2.0-1.6v3.2zm4.0 0l-2.0-1.6v3.2zm4.0 0l-2.0-1.6v3.2zm4.0 0l-2.0-1.6v3.2zm4.0 0l-2.0-1.6v3.2zm4.0 0l-2.0-1.6v3.2zm4.0 0l-2.0-1.6v3.2zm4.0 0l-2.0-1.6v3.2zm4.0 0l-2.0-1.6v3.2zm4.0 0l-2.0-1.6v3.2zm4.0 0l-2.0-1.6v3.2zm4.0 0l-2.0-1.6v3.2zm4.0 0l-2.0-1.6v3.2zm4.0 0l-2.0-1.6v3.2zm4.0 0l-2.0-1.6v3.2zm4.0 0l-2.0-1.6v3.2zm4.0 0l-2.0-1.6v3.2zm4.0 0l-2.0-1.6v3.2zm4.0 0l-2.0-1.6v3.2zm4.0 0l-2.0-1.6v3.2zm4.0 0l-2.0-1.6v3.2zm4.0 0l-2.0-1.6v3.2zm4.0 0l-2.0-1.6v3.2zm4.0 0l-2.0-1.6v3.2zm4.0 0l-2.0-1.6v3.2zm4.0 0l-2.0-1.6v3.2zm4.0 0l-2.0-1.6v3.2zm4.0 0l-2.0-1.6v3.2zm4.0 0l-2.0-1.6v3.2zm4.0 0l-2.0-1.6v3.2zm4.0 0l-2.0-1.6v3.2zm4.0 0l-2.0-1.6v3.2zm4.0 0l-2.0-1.6v3.2zm4.0 0l-2.0-1.6v3.2zm4.0 0l-2.0-1.6v3.2zm4.0 0l-2.0-1.6v3.2zm4.0 0l-2.0-1.6v3.2zm4.0 0l-2.0-1.6v3.2zm4.0 0l-2.0-1.6v3.2zm4.0 0l-2.0-1.6v3.2zm4.0 0l-2.0-1.6v3.2zm4.0 0l-2.0-1.6v3.2zm4.0 0l-2.0-1.6v3.2zm4.0 0l-2.0-1.6v3.2zm4.0 0l-2.0-1.6v3.2zm4.0 0l-2.0-1.6v3.2zm4.0 0l-2.0-1.6v3.2zm4.0 0l-2.0-1.6v3.2zm4.0 0l-2.0-1.6v3.2zm4.0 0l-2.0-1.6v3.2zm4.0 0l-2.0-1.6v3.2zm4.0 0l-2.0-1.6v3.2zm4.0 0l-2.0-1.6v3.2zm4.0 0l-2.0-1.6v3.2zm4.0 0l-2.0-1.6v3.2zm4.0 0l-2.0-1.6v3.2zm4.0 0l-2.0-1.6v3.2zm4.0 0l-2.0-1.6v3.2zm4.0 0l-2.0-1.6v3.2zm4.0 0l-2.0-1.6v3.2zm4.0 0l-2.0-1.6v3.2zm4.0 0l-2.0-1.6v3.2zm4.0 0l-2.0-1.6v3.2zm4.0 0l-2.0-1.6v3.2zm4.0 0l-2.0-1.6v3.2zm4.0 0l-2.0-1.6v3.2zm4.0 0l-2.0-1.6v3.2zm4.0 0l-2.0-1.6v3.2zm4.0 0l-2.0-1.6v3.2zm4.0 0l-2.0-1.6v3.2zm4.0 0l-2.0-1.6v3.2zm4.0 0l-2.0-1.6v3.2zm4.0 0l-2.0-1.6v3.2zm4.0 0l-2.0-1.6v3.2zm4.0 0l-2.0-1.6v3.2zm4.0 0l-2.0-1.6v3.2zm4.0 0l-2.0-1.6v3.2zm4.0 0l-2.0-1.6v3.2zm4.0 0l-2.0-1.6v3.2zm4.0 0l-2.0-1.6v3.2zm4.0 0l-2.0-1.6v3.2zm4.0 0l-2.0-1.6v3.2zm4.0 0l-2.0-1.6v3.2zm4.0 0l-2.0-1.6v3.2zm4.0 0l-2.0-1.6v3.2zm4.0 0l-2.0-1.6v3.2zm4.0 0l-2.0-1.6v3.2zm4.0 0l-2.0-1.6v3.2zm4.0 0l-2.0-1.6v3.2zm4.0 0l-2.0-1.6v3.2zm4.0 0l-2.0-1.6v3.2zm4.0 0l-2.0-1.6v3.2zm4.0 0l-2.0-1.6v3.2zm4.0 0l-2.0-1.6v3.2zm4.0 0l-2.0-1.6v3.2zm4.0 0l-2.0-1.6v3.2zm4.0 0l-2.0-1.6v3.2zm4.0 0l-2.0-1.6v3.2zm4.0 0l-2.0-1.6v3.2zm4.0 0l-2.0-1.6v3.2zm4.0 0l-2.0-1.6v3.2zm4.0 0l-2.0-1.6v3.2zm4.0 0l-2.0-1.6v3.2zm4.0 0l-2.0-1.6v3.2zm4.0 0l-2.0-1.6v3.2zm4.0 0l-2.0-1.6v3.2zm4.0 0l-2.0-1.6v3.2zm4.0 0l-2.0-1.6v3.2zm4.0 0l-2.0-1.6v3.2zm4.0 0l-2.0-1.6v3.2zm4.0 0l-2.0-1.6v3.2zm4.0 0l-2.0-1.6v3.2zm4.0 0l-2.0-1.6v3.2zm4.0 0l-2.0-1.6v3.2zm4.0 0l-2.0-1.6v3.2zm4.0 0l-2.0-1.6v3.2zm4.0 0l-2.0-1.6v3.2zm4.0 0l-2.0-1.6v3.2zm4.0 0l-2.0-1.6v3.2zm4.0 0l-2.0-1.6v3.2zm4.0 0l-2.0-1.6v3.2zm4.0 0l-2.0-1.6v3.2zm4.0 0l-2.0-1.6v3.2zm4.0 0l-2.0-1.6v3.2zm4.0 0l-2.0-1.6v3.2zm4.0 0l-2.0-1.6v3.2zm4.0 0l-2.0-1.6v3.2zm4.0 0l-2.0-1.6v3.2zm4.0 0l-2.0-1.6v3.2zm4.0 0l-2.0-1.6v3.2zm4.0 0l-2.0-1.6v3.2zm4.0 0l-2.0-1.6v3.2zm4.0 0l-2.0-1.6v3.2zm4.0 0l-2.0-1.6v3.2zm4.0 0l-2.0-1.6v3.2zm4.0 0l-2.0-1.6v3.2zm4.0 0l-2.0-1.6v3.2zm4.0 0l-2.0-1.6v3.2zm4.0 0l-2.0-1.6v3.2zm4.0 0l-2.0-1.6v3.2zm4.0 0l-2.0-1.6v3.2zm4.0 0l-2.0-1.6v3.2zm4.0 0l-2.0-1.6v3.2zm4.0 0l-2.0-1.6v3.2zm4.0 0l-2.0-1.6v3.2zm4.0 0l-2.0-1.6v3.2zm4.0 0l-2.0-1.6v3.2zm4.0 0l-2.0-1.6v3.2zm4.0 0l-2.0-1.6v3.2zm4.0 0l-2.0-1.6v3.2zm4.0 0l-2.0-1.6v3.2zm4.0 0l-2.0-1.6v3.2zm4.0 0l-2.0-1.6v3.2zm4.0 0l-2.0-1.6v3.2zm4.0 0l-2.0-1.6v3.2zm4.0 0l-2.0-1.6v3.2zm4.0 0l-2.0-1.6v3.2zm4.0 0l-2.0-1.6v3.2zm4.0 0l-2.0-1.6v3.2zm4.0 0l-2.0-1.6v3.2zm4.0 0l-2.0-1.6v3.2zm4.0 0l-2.0-1.6v3.2zm4.0 0l-2.0-1.6v3.2z" fill="#2A2A90" fill-opacity="0.8"/>
<text x="5.1" y="503.8" font-family='"Liberation Sans", sans-serif' font-size="7.2" fill="#2A2A78" text-anchor="start" font-weight="bold" font-style="normal" textLength="16.1" lengthAdjust="spacingAndGlyphs" >Bmal1</text>
<line x1="23.4" y1="508.70" x2="679" y2="508.70" stroke="#2A2A90" stroke-width="0.9" stroke-opacity="0.55"/>
<path d="M29.40 508.70l-2.0-1.6v3.2zm4.0 0l-2.0-1.6v3.2zm4.0 0l-2.0-1.6v3.2zm4.0 0l-2.0-1.6v3.2zm4.0 0l-2.0-1.6v3.2zm4.0 0l-2.0-1.6v3.2zm4.0 0l-2.0-1.6v3.2zm4.0 0l-2.0-1.6v3.2zm4.0 0l-2.0-1.6v3.2zm4.0 0l-2.0-1.6v3.2zm4.0 0l-2.0-1.6v3.2zm4.0 0l-2.0-1.6v3.2zm4.0 0l-2.0-1.6v3.2zm4.0 0l-2.0-1.6v3.2zm4.0 0l-2.0-1.6v3.2zm4.0 0l-2.0-1.6v3.2zm4.0 0l-2.0-1.6v3.2zm4.0 0l-2.0-1.6v3.2zm4.0 0l-2.0-1.6v3.2zm4.0 0l-2.0-1.6v3.2zm4.0 0l-2.0-1.6v3.2zm4.0 0l-2.0-1.6v3.2zm4.0 0l-2.0-1.6v3.2zm4.0 0l-2.0-1.6v3.2zm4.0 0l-2.0-1.6v3.2zm4.0 0l-2.0-1.6v3.2zm4.0 0l-2.0-1.6v3.2zm4.0 0l-2.0-1.6v3.2zm4.0 0l-2.0-1.6v3.2zm4.0 0l-2.0-1.6v3.2zm4.0 0l-2.0-1.6v3.2zm4.0 0l-2.0-1.6v3.2zm4.0 0l-2.0-1.6v3.2zm4.0 0l-2.0-1.6v3.2zm4.0 0l-2.0-1.6v3.2zm4.0 0l-2.0-1.6v3.2zm4.0 0l-2.0-1.6v3.2zm4.0 0l-2.0-1.6v3.2zm4.0 0l-2.0-1.6v3.2zm4.0 0l-2.0-1.6v3.2zm4.0 0l-2.0-1.6v3.2zm4.0 0l-2.0-1.6v3.2zm4.0 0l-2.0-1.6v3.2zm4.0 0l-2.0-1.6v3.2zm4.0 0l-2.0-1.6v3.2zm4.0 0l-2.0-1.6v3.2zm4.0 0l-2.0-1.6v3.2zm4.0 0l-2.0-1.6v3.2zm4.0 0l-2.0-1.6v3.2zm4.0 0l-2.0-1.6v3.2zm4.0 0l-2.0-1.6v3.2zm4.0 0l-2.0-1.6v3.2zm4.0 0l-2.0-1.6v3.2zm4.0 0l-2.0-1.6v3.2zm4.0 0l-2.0-1.6v3.2zm4.0 0l-2.0-1.6v3.2zm4.0 0l-2.0-1.6v3.2zm4.0 0l-2.0-1.6v3.2zm4.0 0l-2.0-1.6v3.2zm4.0 0l-2.0-1.6v3.2zm4.0 0l-2.0-1.6v3.2zm4.0 0l-2.0-1.6v3.2zm4.0 0l-2.0-1.6v3.2zm4.0 0l-2.0-1.6v3.2zm4.0 0l-2.0-1.6v3.2zm4.0 0l-2.0-1.6v3.2zm4.0 0l-2.0-1.6v3.2zm4.0 0l-2.0-1.6v3.2zm4.0 0l-2.0-1.6v3.2zm4.0 0l-2.0-1.6v3.2zm4.0 0l-2.0-1.6v3.2zm4.0 0l-2.0-1.6v3.2zm4.0 0l-2.0-1.6v3.2zm4.0 0l-2.0-1.6v3.2zm4.0 0l-2.0-1.6v3.2zm4.0 0l-2.0-1.6v3.2zm4.0 0l-2.0-1.6v3.2zm4.0 0l-2.0-1.6v3.2zm4.0 0l-2.0-1.6v3.2zm4.0 0l-2.0-1.6v3.2zm4.0 0l-2.0-1.6v3.2zm4.0 0l-2.0-1.6v3.2zm4.0 0l-2.0-1.6v3.2zm4.0 0l-2.0-1.6v3.2zm4.0 0l-2.0-1.6v3.2zm4.0 0l-2.0-1.6v3.2zm4.0 0l-2.0-1.6v3.2zm4.0 0l-2.0-1.6v3.2zm4.0 0l-2.0-1.6v3.2zm4.0 0l-2.0-1.6v3.2zm4.0 0l-2.0-1.6v3.2zm4.0 0l-2.0-1.6v3.2zm4.0 0l-2.0-1.6v3.2zm4.0 0l-2.0-1.6v3.2zm4.0 0l-2.0-1.6v3.2zm4.0 0l-2.0-1.6v3.2zm4.0 0l-2.0-1.6v3.2zm4.0 0l-2.0-1.6v3.2zm4.0 0l-2.0-1.6v3.2zm4.0 0l-2.0-1.6v3.2zm4.0 0l-2.0-1.6v3.2zm4.0 0l-2.0-1.6v3.2zm4.0 0l-2.0-1.6v3.2zm4.0 0l-2.0-1.6v3.2zm4.0 0l-2.0-1.6v3.2zm4.0 0l-2.0-1.6v3.2zm4.0 0l-2.0-1.6v3.2zm4.0 0l-2.0-1.6v3.2zm4.0 0l-2.0-1.6v3.2zm4.0 0l-2.0-1.6v3.2zm4.0 0l-2.0-1.6v3.2zm4.0 0l-2.0-1.6v3.2zm4.0 0l-2.0-1.6v3.2zm4.0 0l-2.0-1.6v3.2zm4.0 0l-2.0-1.6v3.2zm4.0 0l-2.0-1.6v3.2zm4.0 0l-2.0-1.6v3.2zm4.0 0l-2.0-1.6v3.2zm4.0 0l-2.0-1.6v3.2zm4.0 0l-2.0-1.6v3.2zm4.0 0l-2.0-1.6v3.2zm4.0 0l-2.0-1.6v3.2zm4.0 0l-2.0-1.6v3.2zm4.0 0l-2.0-1.6v3.2zm4.0 0l-2.0-1.6v3.2zm4.0 0l-2.0-1.6v3.2zm4.0 0l-2.0-1.6v3.2zm4.0 0l-2.0-1.6v3.2zm4.0 0l-2.0-1.6v3.2zm4.0 0l-2.0-1.6v3.2zm4.0 0l-2.0-1.6v3.2zm4.0 0l-2.0-1.6v3.2zm4.0 0l-2.0-1.6v3.2zm4.0 0l-2.0-1.6v3.2zm4.0 0l-2.0-1.6v3.2zm4.0 0l-2.0-1.6v3.2zm4.0 0l-2.0-1.6v3.2zm4.0 0l-2.0-1.6v3.2zm4.0 0l-2.0-1.6v3.2zm4.0 0l-2.0-1.6v3.2zm4.0 0l-2.0-1.6v3.2zm4.0 0l-2.0-1.6v3.2zm4.0 0l-2.0-1.6v3.2zm4.0 0l-2.0-1.6v3.2zm4.0 0l-2.0-1.6v3.2zm4.0 0l-2.0-1.6v3.2zm4.0 0l-2.0-1.6v3.2zm4.0 0l-2.0-1.6v3.2zm4.0 0l-2.0-1.6v3.2zm4.0 0l-2.0-1.6v3.2zm4.0 0l-2.0-1.6v3.2zm4.0 0l-2.0-1.6v3.2zm4.0 0l-2.0-1.6v3.2zm4.0 0l-2.0-1.6v3.2zm4.0 0l-2.0-1.6v3.2zm4.0 0l-2.0-1.6v3.2zm4.0 0l-2.0-1.6v3.2zm4.0 0l-2.0-1.6v3.2zm4.0 0l-2.0-1.6v3.2zm4.0 0l-2.0-1.6v3.2zm4.0 0l-2.0-1.6v3.2zm4.0 0l-2.0-1.6v3.2zm4.0 0l-2.0-1.6v3.2z" fill="#2A2A90" fill-opacity="0.8"/>
<text x="5.1" y="511.3" font-family='"Liberation Sans", sans-serif' font-size="7.2" fill="#2A2A78" text-anchor="start" font-weight="bold" font-style="normal" textLength="16.1" lengthAdjust="spacingAndGlyphs" >Bmal1</text>
<line x1="23.4" y1="516.20" x2="679" y2="516.20" stroke="#2A2A90" stroke-width="0.9" stroke-opacity="0.55"/>
<path d="M29.40 516.20l-2.0-1.6v3.2zm4.0 0l-2.0-1.6v3.2zm4.0 0l-2.0-1.6v3.2zm4.0 0l-2.0-1.6v3.2zm4.0 0l-2.0-1.6v3.2zm4.0 0l-2.0-1.6v3.2zm4.0 0l-2.0-1.6v3.2zm4.0 0l-2.0-1.6v3.2zm4.0 0l-2.0-1.6v3.2zm4.0 0l-2.0-1.6v3.2zm4.0 0l-2.0-1.6v3.2zm4.0 0l-2.0-1.6v3.2zm4.0 0l-2.0-1.6v3.2zm4.0 0l-2.0-1.6v3.2zm4.0 0l-2.0-1.6v3.2zm4.0 0l-2.0-1.6v3.2zm4.0 0l-2.0-1.6v3.2zm4.0 0l-2.0-1.6v3.2zm4.0 0l-2.0-1.6v3.2zm4.0 0l-2.0-1.6v3.2zm4.0 0l-2.0-1.6v3.2zm4.0 0l-2.0-1.6v3.2zm4.0 0l-2.0-1.6v3.2zm4.0 0l-2.0-1.6v3.2zm4.0 0l-2.0-1.6v3.2zm4.0 0l-2.0-1.6v3.2zm4.0 0l-2.0-1.6v3.2zm4.0 0l-2.0-1.6v3.2zm4.0 0l-2.0-1.6v3.2zm4.0 0l-2.0-1.6v3.2zm4.0 0l-2.0-1.6v3.2zm4.0 0l-2.0-1.6v3.2zm4.0 0l-2.0-1.6v3.2zm4.0 0l-2.0-1.6v3.2zm4.0 0l-2.0-1.6v3.2zm4.0 0l-2.0-1.6v3.2zm4.0 0l-2.0-1.6v3.2zm4.0 0l-2.0-1.6v3.2zm4.0 0l-2.0-1.6v3.2zm4.0 0l-2.0-1.6v3.2zm4.0 0l-2.0-1.6v3.2zm4.0 0l-2.0-1.6v3.2zm4.0 0l-2.0-1.6v3.2zm4.0 0l-2.0-1.6v3.2zm4.0 0l-2.0-1.6v3.2zm4.0 0l-2.0-1.6v3.2zm4.0 0l-2.0-1.6v3.2zm4.0 0l-2.0-1.6v3.2zm4.0 0l-2.0-1.6v3.2zm4.0 0l-2.0-1.6v3.2zm4.0 0l-2.0-1.6v3.2zm4.0 0l-2.0-1.6v3.2zm4.0 0l-2.0-1.6v3.2zm4.0 0l-2.0-1.6v3.2zm4.0 0l-2.0-1.6v3.2zm4.0 0l-2.0-1.6v3.2zm4.0 0l-2.0-1.6v3.2zm4.0 0l-2.0-1.6v3.2zm4.0 0l-2.0-1.6v3.2zm4.0 0l-2.0-1.6v3.2zm4.0 0l-2.0-1.6v3.2zm4.0 0l-2.0-1.6v3.2zm4.0 0l-2.0-1.6v3.2zm4.0 0l-2.0-1.6v3.2zm4.0 0l-2.0-1.6v3.2zm4.0 0l-2.0-1.6v3.2zm4.0 0l-2.0-1.6v3.2zm4.0 0l-2.0-1.6v3.2zm4.0 0l-2.0-1.6v3.2zm4.0 0l-2.0-1.6v3.2zm4.0 0l-2.0-1.6v3.2zm4.0 0l-2.0-1.6v3.2zm4.0 0l-2.0-1.6v3.2zm4.0 0l-2.0-1.6v3.2zm4.0 0l-2.0-1.6v3.2zm4.0 0l-2.0-1.6v3.2zm4.0 0l-2.0-1.6v3.2zm4.0 0l-2.0-1.6v3.2zm4.0 0l-2.0-1.6v3.2zm4.0 0l-2.0-1.6v3.2zm4.0 0l-2.0-1.6v3.2zm4.0 0l-2.0-1.6v3.2zm4.0 0l-2.0-1.6v3.2zm4.0 0l-2.0-1.6v3.2zm4.0 0l-2.0-1.6v3.2zm4.0 0l-2.0-1.6v3.2zm4.0 0l-2.0-1.6v3.2zm4.0 0l-2.0-1.6v3.2zm4.0 0l-2.0-1.6v3.2zm4.0 0l-2.0-1.6v3.2zm4.0 0l-2.0-1.6v3.2zm4.0 0l-2.0-1.6v3.2zm4.0 0l-2.0-1.6v3.2zm4.0 0l-2.0-1.6v3.2zm4.0 0l-2.0-1.6v3.2zm4.0 0l-2.0-1.6v3.2zm4.0 0l-2.0-1.6v3.2zm4.0 0l-2.0-1.6v3.2zm4.0 0l-2.0-1.6v3.2zm4.0 0l-2.0-1.6v3.2zm4.0 0l-2.0-1.6v3.2zm4.0 0l-2.0-1.6v3.2zm4.0 0l-2.0-1.6v3.2zm4.0 0l-2.0-1.6v3.2zm4.0 0l-2.0-1.6v3.2zm4.0 0l-2.0-1.6v3.2zm4.0 0l-2.0-1.6v3.2zm4.0 0l-2.0-1.6v3.2zm4.0 0l-2.0-1.6v3.2zm4.0 0l-2.0-1.6v3.2zm4.0 0l-2.0-1.6v3.2zm4.0 0l-2.0-1.6v3.2zm4.0 0l-2.0-1.6v3.2zm4.0 0l-2.0-1.6v3.2zm4.0 0l-2.0-1.6v3.2zm4.0 0l-2.0-1.6v3.2zm4.0 0l-2.0-1.6v3.2zm4.0 0l-2.0-1.6v3.2zm4.0 0l-2.0-1.6v3.2zm4.0 0l-2.0-1.6v3.2zm4.0 0l-2.0-1.6v3.2zm4.0 0l-2.0-1.6v3.2zm4.0 0l-2.0-1.6v3.2zm4.0 0l-2.0-1.6v3.2zm4.0 0l-2.0-1.6v3.2zm4.0 0l-2.0-1.6v3.2zm4.0 0l-2.0-1.6v3.2zm4.0 0l-2.0-1.6v3.2zm4.0 0l-2.0-1.6v3.2zm4.0 0l-2.0-1.6v3.2zm4.0 0l-2.0-1.6v3.2zm4.0 0l-2.0-1.6v3.2zm4.0 0l-2.0-1.6v3.2zm4.0 0l-2.0-1.6v3.2zm4.0 0l-2.0-1.6v3.2zm4.0 0l-2.0-1.6v3.2zm4.0 0l-2.0-1.6v3.2zm4.0 0l-2.0-1.6v3.2zm4.0 0l-2.0-1.6v3.2zm4.0 0l-2.0-1.6v3.2zm4.0 0l-2.0-1.6v3.2zm4.0 0l-2.0-1.6v3.2zm4.0 0l-2.0-1.6v3.2zm4.0 0l-2.0-1.6v3.2zm4.0 0l-2.0-1.6v3.2zm4.0 0l-2.0-1.6v3.2zm4.0 0l-2.0-1.6v3.2zm4.0 0l-2.0-1.6v3.2zm4.0 0l-2.0-1.6v3.2zm4.0 0l-2.0-1.6v3.2zm4.0 0l-2.0-1.6v3.2zm4.0 0l-2.0-1.6v3.2zm4.0 0l-2.0-1.6v3.2zm4.0 0l-2.0-1.6v3.2zm4.0 0l-2.0-1.6v3.2zm4.0 0l-2.0-1.6v3.2zm4.0 0l-2.0-1.6v3.2zm4.0 0l-2.0-1.6v3.2zm4.0 0l-2.0-1.6v3.2zm4.0 0l-2.0-1.6v3.2zm4.0 0l-2.0-1.6v3.2zm4.0 0l-2.0-1.6v3.2zm4.0 0l-2.0-1.6v3.2z" fill="#2A2A90" fill-opacity="0.8"/>
<text x="5.1" y="518.8000000000001" font-family='"Liberation Sans", sans-serif' font-size="7.2" fill="#2A2A78" text-anchor="start" font-weight="bold" font-style="normal" textLength="16.1" lengthAdjust="spacingAndGlyphs" >Bmal1</text>
<line x1="190" y1="523.40" x2="679" y2="523.40" stroke="#2A2A90" stroke-width="0.9" stroke-opacity="0.55"/>
<path d="M192.80 523.40l-2.0-1.6v3.2zm4.0 0l-2.0-1.6v3.2zm4.0 0l-2.0-1.6v3.2zm4.0 0l-2.0-1.6v3.2zm4.0 0l-2.0-1.6v3.2zm4.0 0l-2.0-1.6v3.2zm4.0 0l-2.0-1.6v3.2zm4.0 0l-2.0-1.6v3.2zm4.0 0l-2.0-1.6v3.2zm4.0 0l-2.0-1.6v3.2zm4.0 0l-2.0-1.6v3.2zm4.0 0l-2.0-1.6v3.2zm4.0 0l-2.0-1.6v3.2zm4.0 0l-2.0-1.6v3.2zm4.0 0l-2.0-1.6v3.2zm4.0 0l-2.0-1.6v3.2zm4.0 0l-2.0-1.6v3.2zm4.0 0l-2.0-1.6v3.2zm4.0 0l-2.0-1.6v3.2zm4.0 0l-2.0-1.6v3.2zm4.0 0l-2.0-1.6v3.2zm4.0 0l-2.0-1.6v3.2zm4.0 0l-2.0-1.6v3.2zm4.0 0l-2.0-1.6v3.2zm4.0 0l-2.0-1.6v3.2zm4.0 0l-2.0-1.6v3.2zm4.0 0l-2.0-1.6v3.2zm4.0 0l-2.0-1.6v3.2zm4.0 0l-2.0-1.6v3.2zm4.0 0l-2.0-1.6v3.2zm4.0 0l-2.0-1.6v3.2zm4.0 0l-2.0-1.6v3.2zm4.0 0l-2.0-1.6v3.2zm4.0 0l-2.0-1.6v3.2zm4.0 0l-2.0-1.6v3.2zm4.0 0l-2.0-1.6v3.2zm4.0 0l-2.0-1.6v3.2zm4.0 0l-2.0-1.6v3.2zm4.0 0l-2.0-1.6v3.2zm4.0 0l-2.0-1.6v3.2zm4.0 0l-2.0-1.6v3.2zm4.0 0l-2.0-1.6v3.2zm4.0 0l-2.0-1.6v3.2zm4.0 0l-2.0-1.6v3.2zm4.0 0l-2.0-1.6v3.2zm4.0 0l-2.0-1.6v3.2zm4.0 0l-2.0-1.6v3.2zm4.0 0l-2.0-1.6v3.2zm4.0 0l-2.0-1.6v3.2zm4.0 0l-2.0-1.6v3.2zm4.0 0l-2.0-1.6v3.2zm4.0 0l-2.0-1.6v3.2zm4.0 0l-2.0-1.6v3.2zm4.0 0l-2.0-1.6v3.2zm4.0 0l-2.0-1.6v3.2zm4.0 0l-2.0-1.6v3.2zm4.0 0l-2.0-1.6v3.2zm4.0 0l-2.0-1.6v3.2zm4.0 0l-2.0-1.6v3.2zm4.0 0l-2.0-1.6v3.2zm4.0 0l-2.0-1.6v3.2zm4.0 0l-2.0-1.6v3.2zm4.0 0l-2.0-1.6v3.2zm4.0 0l-2.0-1.6v3.2zm4.0 0l-2.0-1.6v3.2zm4.0 0l-2.0-1.6v3.2zm4.0 0l-2.0-1.6v3.2zm4.0 0l-2.0-1.6v3.2zm4.0 0l-2.0-1.6v3.2zm4.0 0l-2.0-1.6v3.2zm4.0 0l-2.0-1.6v3.2zm4.0 0l-2.0-1.6v3.2zm4.0 0l-2.0-1.6v3.2zm4.0 0l-2.0-1.6v3.2zm4.0 0l-2.0-1.6v3.2zm4.0 0l-2.0-1.6v3.2zm4.0 0l-2.0-1.6v3.2zm4.0 0l-2.0-1.6v3.2zm4.0 0l-2.0-1.6v3.2zm4.0 0l-2.0-1.6v3.2zm4.0 0l-2.0-1.6v3.2zm4.0 0l-2.0-1.6v3.2zm4.0 0l-2.0-1.6v3.2zm4.0 0l-2.0-1.6v3.2zm4.0 0l-2.0-1.6v3.2zm4.0 0l-2.0-1.6v3.2zm4.0 0l-2.0-1.6v3.2zm4.0 0l-2.0-1.6v3.2zm4.0 0l-2.0-1.6v3.2zm4.0 0l-2.0-1.6v3.2zm4.0 0l-2.0-1.6v3.2zm4.0 0l-2.0-1.6v3.2zm4.0 0l-2.0-1.6v3.2zm4.0 0l-2.0-1.6v3.2zm4.0 0l-2.0-1.6v3.2zm4.0 0l-2.0-1.6v3.2zm4.0 0l-2.0-1.6v3.2zm4.0 0l-2.0-1.6v3.2zm4.0 0l-2.0-1.6v3.2zm4.0 0l-2.0-1.6v3.2zm4.0 0l-2.0-1.6v3.2zm4.0 0l-2.0-1.6v3.2zm4.0 0l-2.0-1.6v3.2zm4.0 0l-2.0-1.6v3.2zm4.0 0l-2.0-1.6v3.2zm4.0 0l-2.0-1.6v3.2zm4.0 0l-2.0-1.6v3.2zm4.0 0l-2.0-1.6v3.2zm4.0 0l-2.0-1.6v3.2zm4.0 0l-2.0-1.6v3.2zm4.0 0l-2.0-1.6v3.2zm4.0 0l-2.0-1.6v3.2zm4.0 0l-2.0-1.6v3.2zm4.0 0l-2.0-1.6v3.2zm4.0 0l-2.0-1.6v3.2zm4.0 0l-2.0-1.6v3.2zm4.0 0l-2.0-1.6v3.2zm4.0 0l-2.0-1.6v3.2zm4.0 0l-2.0-1.6v3.2zm4.0 0l-2.0-1.6v3.2zm4.0 0l-2.0-1.6v3.2zm4.0 0l-2.0-1.6v3.2z" fill="#2A2A90" fill-opacity="0.8"/>
<text x="171.8" y="526.0" font-family='"Liberation Sans", sans-serif' font-size="7.2" fill="#3A3A88" text-anchor="start" font-weight="bold" font-style="normal" textLength="16.2" lengthAdjust="spacingAndGlyphs" >Bmal1</text>
<path d="M437.6 499.20h1.4v4h-1.4zM437.6 506.70h1.4v4h-1.4zM437.6 514.20h1.4v4h-1.4zM437.6 521.40h1.4v4h-1.4zM465.8 499.00h1.8v4.4h-1.8zM465.8 514.00h1.8v4.4h-1.8zM465.8 521.20h1.8v4.4h-1.8zM472.8 497.80h1.6v6.8h-1.6zM472.8 505.30h1.6v6.8h-1.6zM472.8 512.80h1.6v6.8h-1.6zM472.8 520.00h1.6v6.8h-1.6zM499.6 498.00h1.6v6.4h-1.6zM499.6 505.50h1.6v6.4h-1.6zM499.6 513.00h1.6v6.4h-1.6zM499.6 520.20h1.6v6.4h-1.6zM512.4 498.00h1.2v6.4h-1.2zM512.4 505.50h1.2v6.4h-1.2zM512.4 513.00h1.2v6.4h-1.2zM512.4 520.20h1.2v6.4h-1.2zM540.0 498.00h1.0v6.4h-1.0zM540.0 505.50h1.0v6.4h-1.0zM540.0 513.00h1.0v6.4h-1.0zM540.0 520.20h1.0v6.4h-1.0zM564.1 498.00h1.6v6.4h-1.6zM564.1 505.50h1.6v6.4h-1.6zM564.1 513.00h1.6v6.4h-1.6zM564.1 520.20h1.6v6.4h-1.6zM587.6 497.80h1.8v6.8h-1.8zM587.6 505.30h1.8v6.8h-1.8zM587.6 512.80h1.8v6.8h-1.8zM587.6 520.00h1.8v6.8h-1.8zM601.4 498.00h1.6v6.4h-1.6zM601.4 505.50h1.6v6.4h-1.6zM601.4 513.00h1.6v6.4h-1.6zM601.4 520.20h1.6v6.4h-1.6zM612.6 498.00h1.6v6.4h-1.6zM612.6 505.50h1.6v6.4h-1.6zM612.6 513.00h1.6v6.4h-1.6zM612.6 520.20h1.6v6.4h-1.6zM645.1 498.00h1.6v6.4h-1.6zM645.1 505.50h1.6v6.4h-1.6zM645.1 513.00h1.6v6.4h-1.6zM645.1 520.20h1.6v6.4h-1.6zM671.3 498.00h1.0v6.4h-1.0zM671.3 505.50h1.0v6.4h-1.0zM671.3 513.00h1.0v6.4h-1.0zM671.3 520.20h1.0v6.4h-1.0z" fill="#0A0A80"/>
<path d="M550.2 498.00h1.8v6.4h-1.8zM550.2 505.50h1.8v6.4h-1.8zM550.2 513.00h1.8v6.4h-1.8zM550.2 520.20h1.8v6.4h-1.8z" fill="#0A0A80" fill-opacity="0.35"/>
<path d="M618.6 498.00h1.0v6.4h-1.0zM618.6 505.50h1.0v6.4h-1.0zM618.6 513.00h1.0v6.4h-1.0zM618.6 520.20h1.0v6.4h-1.0z" fill="#0A0A80" fill-opacity="0.5"/>
<path d="M629.5 498.00h1.0v6.4h-1.0zM629.5 505.50h1.0v6.4h-1.0zM629.5 513.00h1.0v6.4h-1.0zM629.5 520.20h1.0v6.4h-1.0z" fill="#0A0A80" fill-opacity="0.5"/>
<path d="M189.6,498.90 L192.6,501.20 L189.6,503.50 Z" fill="#0A0A80"/>
<path d="M189.6,506.40 L192.6,508.70 L189.6,511.00 Z" fill="#0A0A80"/>
<path d="M189.6,513.90 L192.6,516.20 L189.6,518.50 Z" fill="#0A0A80"/>
<path d="M189.6,521.10 L192.6,523.40 L189.6,525.70 Z" fill="#0A0A80"/>
<path d="M242.6,516.20 L245.4,513.90 L245.4,518.50 Z" fill="#0A0A80"/>
<path d="M23.3,499.00 L26.3,501.20 L23.3,503.40 Z" fill="#0A0A80"/>
<path d="M23.3,506.50 L26.3,508.70 L23.3,510.90 Z" fill="#0A0A80"/>
<path d="M23.3,514.00 L26.3,516.20 L23.3,518.40 Z" fill="#0A0A80"/>
<rect x="676" y="498.90" width="3.5" height="4.6" fill="#0A0A80"/>
<rect x="676" y="506.40" width="3.5" height="4.6" fill="#0A0A80"/>
<rect x="676" y="513.90" width="3.5" height="4.6" fill="#0A0A80"/>
<path d="M676,521.4 L679,523.4 L676,525.4 Z" fill="#0A0A80"/>
<rect x="489" y="497.90" width="0.9" height="6.6" fill="#E03030"/>
<rect x="489" y="512.90" width="0.9" height="6.6" fill="#E03030"/>
<rect x="489" y="520.10" width="0.9" height="6.6" fill="#E03030"/>
<rect x="490.9" y="497.5" width="0.9" height="29" fill="#24408A"/>
<rect x="480.8" y="494.4" width="20.6" height="34.7" fill="none" stroke="#5BAE3C" stroke-width="1.7"/>
<path d="M364.00 532V622M369.60 532V622M375.20 532V622M380.80 532V622M386.40 532V622M392.00 532V622M397.60 532V622" stroke="#E4E4F6" stroke-width="0.8" fill="none"/>
<line x1="362.5" y1="537.00" x2="401.4" y2="537.00" stroke="#3A3A98" stroke-width="1.0" stroke-opacity="0.75"/>
<path d="M364.00 537.00l1.3-1.1v2.2zm4.0 0l1.3-1.1v2.2zm4.0 0l1.3-1.1v2.2zm4.0 0l1.3-1.1v2.2zm4.0 0l1.3-1.1v2.2zm4.0 0l1.3-1.1v2.2zm4.0 0l1.3-1.1v2.2zm4.0 0l1.3-1.1v2.2zm4.0 0l1.3-1.1v2.2zm4.0 0l1.3-1.1v2.2z" fill="#3A3A98" fill-opacity="0.6"/>
<line x1="362.5" y1="543.71" x2="401.4" y2="543.71" stroke="#3A3A98" stroke-width="1.0" stroke-opacity="0.75"/>
<path d="M364.00 543.71l1.3-1.1v2.2zm4.0 0l1.3-1.1v2.2zm4.0 0l1.3-1.1v2.2zm4.0 0l1.3-1.1v2.2zm4.0 0l1.3-1.1v2.2zm4.0 0l1.3-1.1v2.2zm4.0 0l1.3-1.1v2.2zm4.0 0l1.3-1.1v2.2zm4.0 0l1.3-1.1v2.2zm4.0 0l1.3-1.1v2.2z" fill="#3A3A98" fill-opacity="0.6"/>
<line x1="362.5" y1="550.42" x2="401.4" y2="550.42" stroke="#3A3A98" stroke-width="1.0" stroke-opacity="0.75"/>
<path d="M364.00 550.42l1.3-1.1v2.2zm4.0 0l1.3-1.1v2.2zm4.0 0l1.3-1.1v2.2zm4.0 0l1.3-1.1v2.2zm4.0 0l1.3-1.1v2.2zm4.0 0l1.3-1.1v2.2zm4.0 0l1.3-1.1v2.2zm4.0 0l1.3-1.1v2.2zm4.0 0l1.3-1.1v2.2zm4.0 0l1.3-1.1v2.2z" fill="#3A3A98" fill-opacity="0.6"/>
<line x1="362.5" y1="557.13" x2="401.4" y2="557.13" stroke="#3A3A98" stroke-width="1.0" stroke-opacity="0.75"/>
<path d="M364.00 557.13l1.3-1.1v2.2zm4.0 0l1.3-1.1v2.2zm4.0 0l1.3-1.1v2.2zm4.0 0l1.3-1.1v2.2zm4.0 0l1.3-1.1v2.2zm4.0 0l1.3-1.1v2.2zm4.0 0l1.3-1.1v2.2zm4.0 0l1.3-1.1v2.2zm4.0 0l1.3-1.1v2.2zm4.0 0l1.3-1.1v2.2z" fill="#3A3A98" fill-opacity="0.6"/>
<line x1="362.5" y1="563.84" x2="401.4" y2="563.84" stroke="#3A3A98" stroke-width="1.0" stroke-opacity="0.75"/>
<path d="M364.00 563.84l1.3-1.1v2.2zm4.0 0l1.3-1.1v2.2zm4.0 0l1.3-1.1v2.2zm4.0 0l1.3-1.1v2.2zm4.0 0l1.3-1.1v2.2zm4.0 0l1.3-1.1v2.2zm4.0 0l1.3-1.1v2.2zm4.0 0l1.3-1.1v2.2zm4.0 0l1.3-1.1v2.2zm4.0 0l1.3-1.1v2.2z" fill="#3A3A98" fill-opacity="0.6"/>
<line x1="362.5" y1="570.55" x2="401.4" y2="570.55" stroke="#3A3A98" stroke-width="1.0" stroke-opacity="0.75"/>
<path d="M364.00 570.55l1.3-1.1v2.2zm4.0 0l1.3-1.1v2.2zm4.0 0l1.3-1.1v2.2zm4.0 0l1.3-1.1v2.2zm4.0 0l1.3-1.1v2.2zm4.0 0l1.3-1.1v2.2zm4.0 0l1.3-1.1v2.2zm4.0 0l1.3-1.1v2.2zm4.0 0l1.3-1.1v2.2zm4.0 0l1.3-1.1v2.2z" fill="#3A3A98" fill-opacity="0.6"/>
<line x1="362.5" y1="577.26" x2="401.4" y2="577.26" stroke="#3A3A98" stroke-width="1.0" stroke-opacity="0.75"/>
<path d="M364.00 577.26l1.3-1.1v2.2zm4.0 0l1.3-1.1v2.2zm4.0 0l1.3-1.1v2.2zm4.0 0l1.3-1.1v2.2zm4.0 0l1.3-1.1v2.2zm4.0 0l1.3-1.1v2.2zm4.0 0l1.3-1.1v2.2zm4.0 0l1.3-1.1v2.2zm4.0 0l1.3-1.1v2.2zm4.0 0l1.3-1.1v2.2z" fill="#3A3A98" fill-opacity="0.6"/>
<line x1="362.5" y1="583.97" x2="401.4" y2="583.97" stroke="#3A3A98" stroke-width="1.0" stroke-opacity="0.75"/>
<path d="M364.00 583.97l1.3-1.1v2.2zm4.0 0l1.3-1.1v2.2zm4.0 0l1.3-1.1v2.2zm4.0 0l1.3-1.1v2.2zm4.0 0l1.3-1.1v2.2zm4.0 0l1.3-1.1v2.2zm4.0 0l1.3-1.1v2.2zm4.0 0l1.3-1.1v2.2zm4.0 0l1.3-1.1v2.2zm4.0 0l1.3-1.1v2.2z" fill="#3A3A98" fill-opacity="0.6"/>
<line x1="362.5" y1="590.68" x2="401.4" y2="590.68" stroke="#3A3A98" stroke-width="1.0" stroke-opacity="0.75"/>
<path d="M364.00 590.68l1.3-1.1v2.2zm4.0 0l1.3-1.1v2.2zm4.0 0l1.3-1.1v2.2zm4.0 0l1.3-1.1v2.2zm4.0 0l1.3-1.1v2.2zm4.0 0l1.3-1.1v2.2zm4.0 0l1.3-1.1v2.2zm4.0 0l1.3-1.1v2.2zm4.0 0l1.3-1.1v2.2zm4.0 0l1.3-1.1v2.2z" fill="#3A3A98" fill-opacity="0.6"/>
<line x1="362.5" y1="597.39" x2="401.4" y2="597.39" stroke="#3A3A98" stroke-width="1.0" stroke-opacity="0.75"/>
<path d="M364.00 597.39l1.3-1.1v2.2zm4.0 0l1.3-1.1v2.2zm4.0 0l1.3-1.1v2.2zm4.0 0l1.3-1.1v2.2zm4.0 0l1.3-1.1v2.2zm4.0 0l1.3-1.1v2.2zm4.0 0l1.3-1.1v2.2zm4.0 0l1.3-1.1v2.2zm4.0 0l1.3-1.1v2.2zm4.0 0l1.3-1.1v2.2z" fill="#3A3A98" fill-opacity="0.6"/>
<line x1="362.5" y1="604.10" x2="401.4" y2="604.10" stroke="#3A3A98" stroke-width="1.0" stroke-opacity="0.75"/>
<path d="M364.00 604.10l1.3-1.1v2.2zm4.0 0l1.3-1.1v2.2zm4.0 0l1.3-1.1v2.2zm4.0 0l1.3-1.1v2.2zm4.0 0l1.3-1.1v2.2zm4.0 0l1.3-1.1v2.2zm4.0 0l1.3-1.1v2.2zm4.0 0l1.3-1.1v2.2zm4.0 0l1.3-1.1v2.2zm4.0 0l1.3-1.1v2.2z" fill="#3A3A98" fill-opacity="0.6"/>
<line x1="362.5" y1="610.81" x2="401.4" y2="610.81" stroke="#3A3A98" stroke-width="1.0" stroke-opacity="0.75"/>
<path d="M364.00 610.81l1.3-1.1v2.2zm4.0 0l1.3-1.1v2.2zm4.0 0l1.3-1.1v2.2zm4.0 0l1.3-1.1v2.2zm4.0 0l1.3-1.1v2.2zm4.0 0l1.3-1.1v2.2zm4.0 0l1.3-1.1v2.2zm4.0 0l1.3-1.1v2.2zm4.0 0l1.3-1.1v2.2zm4.0 0l1.3-1.1v2.2z" fill="#3A3A98" fill-opacity="0.6"/>
<line x1="362.5" y1="617.52" x2="401.4" y2="617.52" stroke="#3A3A98" stroke-width="1.0" stroke-opacity="0.75"/>
<path d="M364.00 617.52l1.3-1.1v2.2zm4.0 0l1.3-1.1v2.2zm4.0 0l1.3-1.1v2.2zm4.0 0l1.3-1.1v2.2zm4.0 0l1.3-1.1v2.2zm4.0 0l1.3-1.1v2.2zm4.0 0l1.3-1.1v2.2zm4.0 0l1.3-1.1v2.2zm4.0 0l1.3-1.1v2.2zm4.0 0l1.3-1.1v2.2z" fill="#3A3A98" fill-opacity="0.6"/>
<path d="M396.9 534.80h1.1v4.4h-1.1zM396.9 541.51h1.1v4.4h-1.1zM396.9 548.22h1.1v4.4h-1.1zM396.9 554.93h1.1v4.4h-1.1zM396.9 561.64h1.1v4.4h-1.1zM396.9 568.35h1.1v4.4h-1.1zM396.9 575.06h1.1v4.4h-1.1zM396.9 581.77h1.1v4.4h-1.1zM396.9 588.48h1.1v4.4h-1.1zM396.9 595.19h1.1v4.4h-1.1zM396.9 601.90h1.1v4.4h-1.1zM396.9 608.61h1.1v4.4h-1.1zM396.9 615.32h1.1v4.4h-1.1z" fill="#0A0A80"/>
<rect x="392.1" y="534.40" width="0.9" height="5.2" fill="#0A0A80" fill-opacity="0.8"/>
<rect x="392.1" y="541.11" width="0.9" height="5.2" fill="#0A0A80" fill-opacity="0.8"/>
<rect x="392.1" y="547.82" width="0.9" height="5.2" fill="#0A0A80" fill-opacity="0.8"/>
<rect x="392.1" y="554.53" width="0.9" height="5.2" fill="#0A0A80" fill-opacity="0.8"/>
<rect x="392.2" y="567.95" width="0.7" height="52.17" fill="#0A0A80" fill-opacity="0.55"/>
<rect x="366.5" y="535.0" width="1.2" height="4" fill="#0A0A80"/>
<rect x="366.5" y="575.26" width="1.2" height="4" fill="#0A0A80"/>
<rect x="366.6" y="588.68" width="0.8" height="24.1" fill="#0A0A80" fill-opacity="0.55"/>
<path d="M370.3,570.55 L372.3,568.15 L372.3,572.95 Z" fill="#0A0A80"/>
<path d="M370.3,583.97 L372.3,581.57 L372.3,586.37 Z" fill="#0A0A80"/>
<rect x="370.6" y="614.32" width="1.3" height="5" fill="#0A0A80"/>
<rect x="370.6" y="616.62" width="5" height="1.8" fill="#0A0A80"/>
<rect x="390.2" y="532.1" width="5.8" height="89.3" fill="none" stroke="#78B652" stroke-width="1"/>
<text x="340.5" y="636.3" font-family='"Liberation Sans", sans-serif' font-size="10.2" fill="#111" text-anchor="start" font-weight="normal" font-style="normal" textLength="90.7" lengthAdjust="spacingAndGlyphs" >Eastern gray squirrel</text>
<path d="M455.00 532V622M460.60 532V622M466.20 532V622M471.80 532V622M477.40 532V622M483.00 532V622M488.60 532V622" stroke="#E4E4F6" stroke-width="0.8" fill="none"/>
<line x1="453.3" y1="536.70" x2="492.4" y2="536.70" stroke="#3A3A98" stroke-width="1.0" stroke-opacity="0.75"/>
<path d="M454.80 536.70l1.3-1.1v2.2zm4.0 0l1.3-1.1v2.2zm4.0 0l1.3-1.1v2.2zm4.0 0l1.3-1.1v2.2zm4.0 0l1.3-1.1v2.2zm4.0 0l1.3-1.1v2.2zm4.0 0l1.3-1.1v2.2zm4.0 0l1.3-1.1v2.2zm4.0 0l1.3-1.1v2.2zm4.0 0l1.3-1.1v2.2z" fill="#3A3A98" fill-opacity="0.6"/>
<line x1="453.3" y1="542.84" x2="492.4" y2="542.84" stroke="#3A3A98" stroke-width="1.0" stroke-opacity="0.75"/>
<path d="M454.80 542.84l1.3-1.1v2.2zm4.0 0l1.3-1.1v2.2zm4.0 0l1.3-1.1v2.2zm4.0 0l1.3-1.1v2.2zm4.0 0l1.3-1.1v2.2zm4.0 0l1.3-1.1v2.2zm4.0 0l1.3-1.1v2.2zm4.0 0l1.3-1.1v2.2zm4.0 0l1.3-1.1v2.2zm4.0 0l1.3-1.1v2.2z" fill="#3A3A98" fill-opacity="0.6"/>
<line x1="453.3" y1="548.98" x2="492.4" y2="548.98" stroke="#3A3A98" stroke-width="1.0" stroke-opacity="0.75"/>
<path d="M454.80 548.98l1.3-1.1v2.2zm4.0 0l1.3-1.1v2.2zm4.0 0l1.3-1.1v2.2zm4.0 0l1.3-1.1v2.2zm4.0 0l1.3-1.1v2.2zm4.0 0l1.3-1.1v2.2zm4.0 0l1.3-1.1v2.2zm4.0 0l1.3-1.1v2.2zm4.0 0l1.3-1.1v2.2zm4.0 0l1.3-1.1v2.2z" fill="#3A3A98" fill-opacity="0.6"/>
<line x1="453.3" y1="555.12" x2="492.4" y2="555.12" stroke="#3A3A98" stroke-width="1.0" stroke-opacity="0.75"/>
<path d="M454.80 555.12l1.3-1.1v2.2zm4.0 0l1.3-1.1v2.2zm4.0 0l1.3-1.1v2.2zm4.0 0l1.3-1.1v2.2zm4.0 0l1.3-1.1v2.2zm4.0 0l1.3-1.1v2.2zm4.0 0l1.3-1.1v2.2zm4.0 0l1.3-1.1v2.2zm4.0 0l1.3-1.1v2.2zm4.0 0l1.3-1.1v2.2z" fill="#3A3A98" fill-opacity="0.6"/>
<line x1="453.3" y1="561.26" x2="492.4" y2="561.26" stroke="#3A3A98" stroke-width="1.0" stroke-opacity="0.75"/>
<path d="M454.80 561.26l1.3-1.1v2.2zm4.0 0l1.3-1.1v2.2zm4.0 0l1.3-1.1v2.2zm4.0 0l1.3-1.1v2.2zm4.0 0l1.3-1.1v2.2zm4.0 0l1.3-1.1v2.2zm4.0 0l1.3-1.1v2.2zm4.0 0l1.3-1.1v2.2zm4.0 0l1.3-1.1v2.2zm4.0 0l1.3-1.1v2.2z" fill="#3A3A98" fill-opacity="0.6"/>
<line x1="453.3" y1="567.40" x2="492.4" y2="567.40" stroke="#3A3A98" stroke-width="1.0" stroke-opacity="0.75"/>
<path d="M454.80 567.40l1.3-1.1v2.2zm4.0 0l1.3-1.1v2.2zm4.0 0l1.3-1.1v2.2zm4.0 0l1.3-1.1v2.2zm4.0 0l1.3-1.1v2.2zm4.0 0l1.3-1.1v2.2zm4.0 0l1.3-1.1v2.2zm4.0 0l1.3-1.1v2.2zm4.0 0l1.3-1.1v2.2zm4.0 0l1.3-1.1v2.2z" fill="#3A3A98" fill-opacity="0.6"/>
<line x1="453.3" y1="573.54" x2="492.4" y2="573.54" stroke="#3A3A98" stroke-width="1.0" stroke-opacity="0.75"/>
<path d="M454.80 573.54l1.3-1.1v2.2zm4.0 0l1.3-1.1v2.2zm4.0 0l1.3-1.1v2.2zm4.0 0l1.3-1.1v2.2zm4.0 0l1.3-1.1v2.2zm4.0 0l1.3-1.1v2.2zm4.0 0l1.3-1.1v2.2zm4.0 0l1.3-1.1v2.2zm4.0 0l1.3-1.1v2.2zm4.0 0l1.3-1.1v2.2z" fill="#3A3A98" fill-opacity="0.6"/>
<line x1="453.3" y1="579.68" x2="492.4" y2="579.68" stroke="#3A3A98" stroke-width="1.0" stroke-opacity="0.75"/>
<path d="M454.80 579.68l1.3-1.1v2.2zm4.0 0l1.3-1.1v2.2zm4.0 0l1.3-1.1v2.2zm4.0 0l1.3-1.1v2.2zm4.0 0l1.3-1.1v2.2zm4.0 0l1.3-1.1v2.2zm4.0 0l1.3-1.1v2.2zm4.0 0l1.3-1.1v2.2zm4.0 0l1.3-1.1v2.2zm4.0 0l1.3-1.1v2.2z" fill="#3A3A98" fill-opacity="0.6"/>
<line x1="453.3" y1="585.82" x2="492.4" y2="585.82" stroke="#3A3A98" stroke-width="1.0" stroke-opacity="0.75"/>
<path d="M454.80 585.82l1.3-1.1v2.2zm4.0 0l1.3-1.1v2.2zm4.0 0l1.3-1.1v2.2zm4.0 0l1.3-1.1v2.2zm4.0 0l1.3-1.1v2.2zm4.0 0l1.3-1.1v2.2zm4.0 0l1.3-1.1v2.2zm4.0 0l1.3-1.1v2.2zm4.0 0l1.3-1.1v2.2zm4.0 0l1.3-1.1v2.2z" fill="#3A3A98" fill-opacity="0.6"/>
<line x1="453.3" y1="591.96" x2="492.4" y2="591.96" stroke="#3A3A98" stroke-width="1.0" stroke-opacity="0.75"/>
<path d="M454.80 591.96l1.3-1.1v2.2zm4.0 0l1.3-1.1v2.2zm4.0 0l1.3-1.1v2.2zm4.0 0l1.3-1.1v2.2zm4.0 0l1.3-1.1v2.2zm4.0 0l1.3-1.1v2.2zm4.0 0l1.3-1.1v2.2zm4.0 0l1.3-1.1v2.2zm4.0 0l1.3-1.1v2.2zm4.0 0l1.3-1.1v2.2z" fill="#3A3A98" fill-opacity="0.6"/>
<line x1="453.3" y1="598.10" x2="492.4" y2="598.10" stroke="#3A3A98" stroke-width="1.0" stroke-opacity="0.75"/>
<path d="M454.80 598.10l1.3-1.1v2.2zm4.0 0l1.3-1.1v2.2zm4.0 0l1.3-1.1v2.2zm4.0 0l1.3-1.1v2.2zm4.0 0l1.3-1.1v2.2zm4.0 0l1.3-1.1v2.2zm4.0 0l1.3-1.1v2.2zm4.0 0l1.3-1.1v2.2zm4.0 0l1.3-1.1v2.2zm4.0 0l1.3-1.1v2.2z" fill="#3A3A98" fill-opacity="0.6"/>
<line x1="453.3" y1="604.24" x2="492.4" y2="604.24" stroke="#3A3A98" stroke-width="1.0" stroke-opacity="0.75"/>
<path d="M454.80 604.24l1.3-1.1v2.2zm4.0 0l1.3-1.1v2.2zm4.0 0l1.3-1.1v2.2zm4.0 0l1.3-1.1v2.2zm4.0 0l1.3-1.1v2.2zm4.0 0l1.3-1.1v2.2zm4.0 0l1.3-1.1v2.2zm4.0 0l1.3-1.1v2.2zm4.0 0l1.3-1.1v2.2zm4.0 0l1.3-1.1v2.2z" fill="#3A3A98" fill-opacity="0.6"/>
<line x1="453.3" y1="610.38" x2="492.4" y2="610.38" stroke="#3A3A98" stroke-width="1.0" stroke-opacity="0.75"/>
<path d="M454.80 610.38l1.3-1.1v2.2zm4.0 0l1.3-1.1v2.2zm4.0 0l1.3-1.1v2.2zm4.0 0l1.3-1.1v2.2zm4.0 0l1.3-1.1v2.2zm4.0 0l1.3-1.1v2.2zm4.0 0l1.3-1.1v2.2zm4.0 0l1.3-1.1v2.2zm4.0 0l1.3-1.1v2.2zm4.0 0l1.3-1.1v2.2z" fill="#3A3A98" fill-opacity="0.6"/>
<line x1="453.3" y1="616.52" x2="492.4" y2="616.52" stroke="#3A3A98" stroke-width="1.0" stroke-opacity="0.75"/>
<path d="M454.80 616.52l1.3-1.1v2.2zm4.0 0l1.3-1.1v2.2zm4.0 0l1.3-1.1v2.2zm4.0 0l1.3-1.1v2.2zm4.0 0l1.3-1.1v2.2zm4.0 0l1.3-1.1v2.2zm4.0 0l1.3-1.1v2.2zm4.0 0l1.3-1.1v2.2zm4.0 0l1.3-1.1v2.2zm4.0 0l1.3-1.1v2.2z" fill="#3A3A98" fill-opacity="0.6"/>
<rect x="453.4" y="534" width="0.8" height="85" fill="#0A0A80" fill-opacity="0.55"/>
<rect x="486.0" y="534" width="0.8" height="85" fill="#3A3AA0" fill-opacity="0.8"/>
<rect x="487.4" y="534" width="0.8" height="85" fill="#3A3AA0" fill-opacity="0.6"/>
<rect x="481.8" y="534.20" width="1" height="41.84" fill="#0A0A80"/>
<rect x="481.8" y="583.32" width="1" height="11.14" fill="#0A0A80"/>
<rect x="481.8" y="601.74" width="1" height="17.28" fill="#0A0A80"/>
<path d="M462.3,542.84 L464.8,540.34 L464.8,545.34 Z" fill="#0A0A80"/>
<path d="M462.3,585.82 L464.8,583.32 L464.8,588.32 Z" fill="#0A0A80"/>
<path d="M462.3,604.24 L464.8,601.74 L464.8,606.74 Z" fill="#0A0A80"/>
<rect x="479.4" y="533.6" width="5.7" height="89.2" fill="none" stroke="#78B652" stroke-width="1.1"/>
<text x="439" y="636.3" font-family='"Liberation Sans", sans-serif' font-size="10.2" fill="#111" text-anchor="start" font-weight="normal" font-style="normal" textLength="67" lengthAdjust="spacingAndGlyphs" >Naked mole rat</text>
<path d="M545.00 532V622M550.60 532V622M556.20 532V622M561.80 532V622M567.40 532V622M573.00 532V622M578.60 532V622" stroke="#E4E4F6" stroke-width="0.8" fill="none"/>
<line x1="543.3" y1="536.30" x2="582.4" y2="536.30" stroke="#3A3A98" stroke-width="1.3" stroke-opacity="0.85"/>
<path d="M544.80 536.30l1.3-1.1v2.2zm4.0 0l1.3-1.1v2.2zm4.0 0l1.3-1.1v2.2zm4.0 0l1.3-1.1v2.2zm4.0 0l1.3-1.1v2.2zm4.0 0l1.3-1.1v2.2zm4.0 0l1.3-1.1v2.2zm4.0 0l1.3-1.1v2.2zm4.0 0l1.3-1.1v2.2zm4.0 0l1.3-1.1v2.2z" fill="#3A3A98" fill-opacity="0.7"/>
<line x1="543.3" y1="545.17" x2="582.4" y2="545.17" stroke="#3A3A98" stroke-width="1.3" stroke-opacity="0.85"/>
<path d="M544.80 545.17l1.3-1.1v2.2zm4.0 0l1.3-1.1v2.2zm4.0 0l1.3-1.1v2.2zm4.0 0l1.3-1.1v2.2zm4.0 0l1.3-1.1v2.2zm4.0 0l1.3-1.1v2.2zm4.0 0l1.3-1.1v2.2zm4.0 0l1.3-1.1v2.2zm4.0 0l1.3-1.1v2.2zm4.0 0l1.3-1.1v2.2z" fill="#3A3A98" fill-opacity="0.7"/>
<line x1="543.3" y1="554.04" x2="582.4" y2="554.04" stroke="#3A3A98" stroke-width="1.3" stroke-opacity="0.85"/>
<path d="M544.80 554.04l1.3-1.1v2.2zm4.0 0l1.3-1.1v2.2zm4.0 0l1.3-1.1v2.2zm4.0 0l1.3-1.1v2.2zm4.0 0l1.3-1.1v2.2zm4.0 0l1.3-1.1v2.2zm4.0 0l1.3-1.1v2.2zm4.0 0l1.3-1.1v2.2zm4.0 0l1.3-1.1v2.2zm4.0 0l1.3-1.1v2.2z" fill="#3A3A98" fill-opacity="0.7"/>
<line x1="543.3" y1="562.91" x2="582.4" y2="562.91" stroke="#3A3A98" stroke-width="1.3" stroke-opacity="0.85"/>
<path d="M544.80 562.91l1.3-1.1v2.2zm4.0 0l1.3-1.1v2.2zm4.0 0l1.3-1.1v2.2zm4.0 0l1.3-1.1v2.2zm4.0 0l1.3-1.1v2.2zm4.0 0l1.3-1.1v2.2zm4.0 0l1.3-1.1v2.2zm4.0 0l1.3-1.1v2.2zm4.0 0l1.3-1.1v2.2zm4.0 0l1.3-1.1v2.2z" fill="#3A3A98" fill-opacity="0.7"/>
<line x1="543.3" y1="571.78" x2="582.4" y2="571.78" stroke="#3A3A98" stroke-width="1.3" stroke-opacity="0.85"/>
<path d="M544.80 571.78l1.3-1.1v2.2zm4.0 0l1.3-1.1v2.2zm4.0 0l1.3-1.1v2.2zm4.0 0l1.3-1.1v2.2zm4.0 0l1.3-1.1v2.2zm4.0 0l1.3-1.1v2.2zm4.0 0l1.3-1.1v2.2zm4.0 0l1.3-1.1v2.2zm4.0 0l1.3-1.1v2.2zm4.0 0l1.3-1.1v2.2z" fill="#3A3A98" fill-opacity="0.7"/>
<line x1="543.3" y1="580.65" x2="582.4" y2="580.65" stroke="#3A3A98" stroke-width="1.3" stroke-opacity="0.85"/>
<path d="M544.80 580.65l1.3-1.1v2.2zm4.0 0l1.3-1.1v2.2zm4.0 0l1.3-1.1v2.2zm4.0 0l1.3-1.1v2.2zm4.0 0l1.3-1.1v2.2zm4.0 0l1.3-1.1v2.2zm4.0 0l1.3-1.1v2.2zm4.0 0l1.3-1.1v2.2zm4.0 0l1.3-1.1v2.2zm4.0 0l1.3-1.1v2.2z" fill="#3A3A98" fill-opacity="0.7"/>
<line x1="543.3" y1="589.52" x2="582.4" y2="589.52" stroke="#3A3A98" stroke-width="1.3" stroke-opacity="0.85"/>
<path d="M544.80 589.52l1.3-1.1v2.2zm4.0 0l1.3-1.1v2.2zm4.0 0l1.3-1.1v2.2zm4.0 0l1.3-1.1v2.2zm4.0 0l1.3-1.1v2.2zm4.0 0l1.3-1.1v2.2zm4.0 0l1.3-1.1v2.2zm4.0 0l1.3-1.1v2.2zm4.0 0l1.3-1.1v2.2zm4.0 0l1.3-1.1v2.2z" fill="#3A3A98" fill-opacity="0.7"/>
<line x1="543.3" y1="598.39" x2="582.4" y2="598.39" stroke="#3A3A98" stroke-width="1.3" stroke-opacity="0.85"/>
<path d="M544.80 598.39l1.3-1.1v2.2zm4.0 0l1.3-1.1v2.2zm4.0 0l1.3-1.1v2.2zm4.0 0l1.3-1.1v2.2zm4.0 0l1.3-1.1v2.2zm4.0 0l1.3-1.1v2.2zm4.0 0l1.3-1.1v2.2zm4.0 0l1.3-1.1v2.2zm4.0 0l1.3-1.1v2.2zm4.0 0l1.3-1.1v2.2z" fill="#3A3A98" fill-opacity="0.7"/>
<line x1="543.3" y1="607.26" x2="582.4" y2="607.26" stroke="#3A3A98" stroke-width="1.3" stroke-opacity="0.85"/>
<path d="M544.80 607.26l1.3-1.1v2.2zm4.0 0l1.3-1.1v2.2zm4.0 0l1.3-1.1v2.2zm4.0 0l1.3-1.1v2.2zm4.0 0l1.3-1.1v2.2zm4.0 0l1.3-1.1v2.2zm4.0 0l1.3-1.1v2.2zm4.0 0l1.3-1.1v2.2zm4.0 0l1.3-1.1v2.2zm4.0 0l1.3-1.1v2.2z" fill="#3A3A98" fill-opacity="0.7"/>
<line x1="543.3" y1="616.13" x2="582.4" y2="616.13" stroke="#3A3A98" stroke-width="1.3" stroke-opacity="0.85"/>
<path d="M544.80 616.13l1.3-1.1v2.2zm4.0 0l1.3-1.1v2.2zm4.0 0l1.3-1.1v2.2zm4.0 0l1.3-1.1v2.2zm4.0 0l1.3-1.1v2.2zm4.0 0l1.3-1.1v2.2zm4.0 0l1.3-1.1v2.2zm4.0 0l1.3-1.1v2.2zm4.0 0l1.3-1.1v2.2zm4.0 0l1.3-1.1v2.2z" fill="#3A3A98" fill-opacity="0.7"/>
<rect x="579.9" y="533.6" width="1" height="87" fill="#0A0A80"/>
<rect x="568.3" y="549.3" width="0.8" height="71.2" fill="#0A0A80" fill-opacity="0.75"/>
<rect x="546.8" y="594.6" width="0.9" height="24.3" fill="#0A0A80" fill-opacity="0.7"/>
<rect x="566.5" y="547.7" width="5.8" height="74.6" fill="none" stroke="#78B652" stroke-width="1"/>
<text x="521" y="635.7" font-family='"Liberation Sans", sans-serif' font-size="10.2" fill="#111" text-anchor="start" font-weight="normal" font-style="normal" textLength="94.7" lengthAdjust="spacingAndGlyphs" >Damaraland mole-rat</text>
</svg></body></html>
